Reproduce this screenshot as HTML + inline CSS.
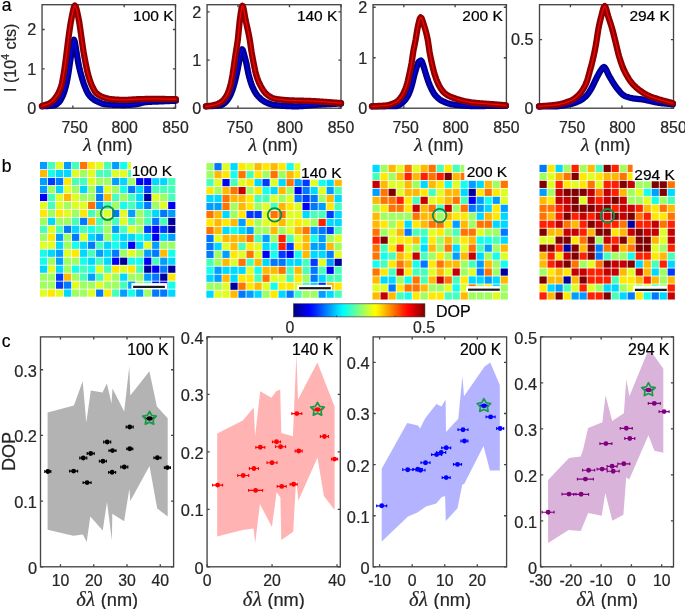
<!DOCTYPE html>
<html><head><meta charset="utf-8"><style>
html,body{margin:0;padding:0;background:#fff;overflow:hidden;}
svg{display:block;font-family:"Liberation Sans", sans-serif;will-change:transform;}
text{stroke:currentColor;stroke-width:0.22px;}
</style></head><body>
<svg width="685" height="609" viewBox="0 0 685 609">
<rect width="685" height="609" fill="#fff"/>
<rect x="42.05" y="4.7" width="133.45" height="103.5" fill="none" stroke="#454545" stroke-width="1.35"/>
<path d="M72.85 108.2v-2.6M72.85 4.7v2.6M124.17 108.2v-2.6M124.17 4.7v2.6M175.5 108.2v-2.6M175.5 4.7v2.6M42.05 108.2h2.6M175.5 108.2h-2.6M42.05 68.85h2.6M175.5 68.85h-2.6M42.05 29.49h2.6M175.5 29.49h-2.6" stroke="#454545" stroke-width="1.35" fill="none"/>
<path d="M42 106.3L42.74 106.25L43.48 106.21L44.21 106.17L44.95 106.14L45.69 106.11L46.42 106.07L47.16 106.04L47.9 106L48.64 105.96L49.38 105.92L50.11 105.87L50.85 105.82L51.59 105.75L52.32 105.68L53.06 105.6L53.8 105.5L54.54 105.32L55.29 105.02L56.03 104.59L56.77 104.07L57.51 103.47L58.26 102.8L59 102.1L59.8 101.18L60.6 99.99L61.4 98.57L62.2 96.96L63 95.2L63.73 93.37L64.45 91.2L65.18 88.73L65.9 86L66.67 82.67L67.43 78.79L68.2 74.5L69.05 68.91L69.9 63L70.85 56.79L71.8 51L72.53 46.25L73.27 41.78L74 39.8L74.8 41.87L75.6 46.54L76.4 51.5L77.35 57.34L78.3 63L79.2 67.27L80.1 71.06L81 74.5L81.72 77.1L82.44 79.6L83.16 81.94L83.88 84.08L84.6 86L85.37 87.88L86.13 89.67L86.9 91.34L87.67 92.84L88.43 94.14L89.2 95.2L89.97 96.09L90.73 96.9L91.5 97.66L92.27 98.34L93.03 98.97L93.8 99.53L94.57 100.04L95.33 100.5L96.1 100.9L96.84 101.26L97.59 101.62L98.33 101.97L99.07 102.3L99.81 102.62L100.56 102.92L101.3 103.2L102.04 103.46L102.79 103.7L103.53 103.9L104.27 104.08L105.01 104.22L105.76 104.33L106.5 104.4L107.22 104.45L107.94 104.49L108.66 104.54L109.38 104.58L110.1 104.62L110.83 104.66L111.55 104.69L112.27 104.73L112.99 104.76L113.71 104.79L114.43 104.82L115.15 104.85L115.87 104.87L116.59 104.89L117.31 104.91L118.03 104.93L118.75 104.95L119.47 104.96L120.2 104.97L120.92 104.98L121.64 104.99L122.36 105L123.08 105L123.8 105L124.53 105L125.26 104.99L125.99 104.97L126.72 104.94L127.46 104.91L128.19 104.88L128.92 104.83L129.65 104.79L130.38 104.74L131.11 104.68L131.84 104.63L132.57 104.57L133.31 104.5L134.04 104.44L134.77 104.37L135.5 104.3L136.23 104.21L136.96 104.09L137.69 103.94L138.41 103.77L139.14 103.58L139.87 103.39L140.6 103.18L141.33 102.98L142.06 102.78L142.79 102.6L143.51 102.43L144.24 102.29L144.97 102.18L145.7 102.1L146.43 102.04L147.16 101.99L147.89 101.94L148.62 101.9L149.35 101.85L150.08 101.82L150.81 101.78L151.54 101.75L152.27 101.72L153 101.69L153.73 101.66L154.46 101.63L155.19 101.6L155.92 101.58L156.65 101.55L157.38 101.52L158.11 101.49L158.84 101.46L159.57 101.43L160.3 101.4L161.01 101.37L161.72 101.33L162.43 101.3L163.14 101.27L163.85 101.24L164.55 101.21L165.26 101.17L165.97 101.14L166.68 101.11L167.39 101.08L168.1 101.05L168.81 101.02L169.52 100.98L170.23 100.95L170.94 100.92L171.65 100.89L172.35 100.86L173.06 100.83L173.77 100.8L174.48 100.76L175.19 100.73L175.9 100.7" fill="none" stroke="#00008c" stroke-width="6.3" stroke-linejoin="round" stroke-linecap="round"/>
<path d="M42 106.3L42.74 106.25L43.48 106.21L44.21 106.17L44.95 106.14L45.69 106.11L46.42 106.07L47.16 106.04L47.9 106L48.64 105.96L49.38 105.92L50.11 105.87L50.85 105.82L51.59 105.75L52.32 105.68L53.06 105.6L53.8 105.5L54.54 105.32L55.29 105.02L56.03 104.59L56.77 104.07L57.51 103.47L58.26 102.8L59 102.1L59.8 101.18L60.6 99.99L61.4 98.57L62.2 96.96L63 95.2L63.73 93.37L64.45 91.2L65.18 88.73L65.9 86L66.67 82.67L67.43 78.79L68.2 74.5L69.05 68.91L69.9 63L70.85 56.79L71.8 51L72.53 46.25L73.27 41.78L74 39.8L74.8 41.87L75.6 46.54L76.4 51.5L77.35 57.34L78.3 63L79.2 67.27L80.1 71.06L81 74.5L81.72 77.1L82.44 79.6L83.16 81.94L83.88 84.08L84.6 86L85.37 87.88L86.13 89.67L86.9 91.34L87.67 92.84L88.43 94.14L89.2 95.2L89.97 96.09L90.73 96.9L91.5 97.66L92.27 98.34L93.03 98.97L93.8 99.53L94.57 100.04L95.33 100.5L96.1 100.9L96.84 101.26L97.59 101.62L98.33 101.97L99.07 102.3L99.81 102.62L100.56 102.92L101.3 103.2L102.04 103.46L102.79 103.7L103.53 103.9L104.27 104.08L105.01 104.22L105.76 104.33L106.5 104.4L107.22 104.45L107.94 104.49L108.66 104.54L109.38 104.58L110.1 104.62L110.83 104.66L111.55 104.69L112.27 104.73L112.99 104.76L113.71 104.79L114.43 104.82L115.15 104.85L115.87 104.87L116.59 104.89L117.31 104.91L118.03 104.93L118.75 104.95L119.47 104.96L120.2 104.97L120.92 104.98L121.64 104.99L122.36 105L123.08 105L123.8 105L124.53 105L125.26 104.99L125.99 104.97L126.72 104.94L127.46 104.91L128.19 104.88L128.92 104.83L129.65 104.79L130.38 104.74L131.11 104.68L131.84 104.63L132.57 104.57L133.31 104.5L134.04 104.44L134.77 104.37L135.5 104.3L136.23 104.21L136.96 104.09L137.69 103.94L138.41 103.77L139.14 103.58L139.87 103.39L140.6 103.18L141.33 102.98L142.06 102.78L142.79 102.6L143.51 102.43L144.24 102.29L144.97 102.18L145.7 102.1L146.43 102.04L147.16 101.99L147.89 101.94L148.62 101.9L149.35 101.85L150.08 101.82L150.81 101.78L151.54 101.75L152.27 101.72L153 101.69L153.73 101.66L154.46 101.63L155.19 101.6L155.92 101.58L156.65 101.55L157.38 101.52L158.11 101.49L158.84 101.46L159.57 101.43L160.3 101.4L161.01 101.37L161.72 101.33L162.43 101.3L163.14 101.27L163.85 101.24L164.55 101.21L165.26 101.17L165.97 101.14L166.68 101.11L167.39 101.08L168.1 101.05L168.81 101.02L169.52 100.98L170.23 100.95L170.94 100.92L171.65 100.89L172.35 100.86L173.06 100.83L173.77 100.8L174.48 100.76L175.19 100.73L175.9 100.7" fill="none" stroke="#0000ff" stroke-width="1.25" stroke-linejoin="round" stroke-linecap="round"/>
<path d="M42 106L42.75 105.72L43.51 105.46L44.26 105.21L45.02 104.97L45.77 104.73L46.53 104.47L47.28 104.2L48.04 103.91L48.79 103.58L49.55 103.21L50.3 102.8L51.07 102.3L51.83 101.71L52.6 101.01L53.37 100.23L54.13 99.37L54.9 98.43L55.67 97.42L56.43 96.34L57.2 95.2L58.02 93.87L58.84 92.33L59.66 90.54L60.48 88.44L61.3 86L62.07 82.91L62.83 78.91L63.6 74.5L64.45 69.05L65.3 63L66.05 57.39L66.8 51.5L67.5 45.66L68.2 40L69 34.12L69.8 28.48L70.6 23.36L71.4 19L72.1 15.43L72.8 11.84L73.5 8.69L74.2 6.45L74.9 5.6L75.62 6.37L76.34 8.42L77.06 11.33L77.78 14.69L78.5 18.1L79.33 22.61L80.15 28.17L80.97 34.17L81.8 40L82.65 45.88L83.5 51.5L84.55 57.53L85.6 63L86.43 67.17L87.27 71.11L88.1 74.5L88.9 77.26L89.7 79.79L90.5 82.09L91.3 84.16L92.1 86L92.9 87.71L93.7 89.32L94.5 90.78L95.3 91.99L96.1 92.9L96.84 93.54L97.57 94.12L98.31 94.66L99.05 95.14L99.78 95.59L100.52 95.99L101.25 96.35L101.99 96.68L102.73 96.98L103.46 97.25L104.2 97.5L104.95 97.74L105.7 97.96L106.45 98.18L107.2 98.38L107.95 98.56L108.7 98.73L109.45 98.88L110.2 99.01L110.95 99.12L111.7 99.2L112.41 99.27L113.12 99.33L113.84 99.4L114.55 99.46L115.26 99.52L115.97 99.57L116.68 99.62L117.39 99.67L118.11 99.72L118.82 99.76L119.53 99.79L120.24 99.83L120.95 99.85L121.66 99.87L122.38 99.89L123.09 99.9L123.8 99.9L124.53 99.9L125.26 99.88L125.99 99.87L126.72 99.84L127.45 99.81L128.18 99.78L128.91 99.74L129.64 99.69L130.37 99.65L131.1 99.6L131.83 99.55L132.56 99.51L133.29 99.46L134.02 99.41L134.75 99.37L135.48 99.33L136.21 99.29L136.94 99.25L137.67 99.22L138.4 99.2L139.13 99.18L139.86 99.16L140.59 99.14L141.32 99.12L142.05 99.09L142.78 99.07L143.51 99.05L144.24 99.03L144.97 99.02L145.7 99L146.43 98.98L147.16 98.97L147.89 98.95L148.62 98.94L149.35 98.93L150.08 98.92L150.81 98.91L151.54 98.9L152.27 98.9L153 98.9L153.72 98.9L154.43 98.9L155.15 98.91L155.86 98.91L156.58 98.91L157.29 98.92L158.01 98.93L158.72 98.93L159.44 98.94L160.16 98.95L160.87 98.96L161.59 98.97L162.3 98.98L163.02 98.99L163.73 99L164.45 99.01L165.17 99.02L165.88 99.04L166.6 99.05L167.31 99.06L168.03 99.07L168.74 99.09L169.46 99.1L170.18 99.11L170.89 99.12L171.61 99.14L172.32 99.15L173.04 99.16L173.75 99.17L174.47 99.18L175.18 99.19L175.9 99.2" fill="none" stroke="#8c0000" stroke-width="6.3" stroke-linejoin="round" stroke-linecap="round"/>
<path d="M42 106L42.75 105.72L43.51 105.46L44.26 105.21L45.02 104.97L45.77 104.73L46.53 104.47L47.28 104.2L48.04 103.91L48.79 103.58L49.55 103.21L50.3 102.8L51.07 102.3L51.83 101.71L52.6 101.01L53.37 100.23L54.13 99.37L54.9 98.43L55.67 97.42L56.43 96.34L57.2 95.2L58.02 93.87L58.84 92.33L59.66 90.54L60.48 88.44L61.3 86L62.07 82.91L62.83 78.91L63.6 74.5L64.45 69.05L65.3 63L66.05 57.39L66.8 51.5L67.5 45.66L68.2 40L69 34.12L69.8 28.48L70.6 23.36L71.4 19L72.1 15.43L72.8 11.84L73.5 8.69L74.2 6.45L74.9 5.6L75.62 6.37L76.34 8.42L77.06 11.33L77.78 14.69L78.5 18.1L79.33 22.61L80.15 28.17L80.97 34.17L81.8 40L82.65 45.88L83.5 51.5L84.55 57.53L85.6 63L86.43 67.17L87.27 71.11L88.1 74.5L88.9 77.26L89.7 79.79L90.5 82.09L91.3 84.16L92.1 86L92.9 87.71L93.7 89.32L94.5 90.78L95.3 91.99L96.1 92.9L96.84 93.54L97.57 94.12L98.31 94.66L99.05 95.14L99.78 95.59L100.52 95.99L101.25 96.35L101.99 96.68L102.73 96.98L103.46 97.25L104.2 97.5L104.95 97.74L105.7 97.96L106.45 98.18L107.2 98.38L107.95 98.56L108.7 98.73L109.45 98.88L110.2 99.01L110.95 99.12L111.7 99.2L112.41 99.27L113.12 99.33L113.84 99.4L114.55 99.46L115.26 99.52L115.97 99.57L116.68 99.62L117.39 99.67L118.11 99.72L118.82 99.76L119.53 99.79L120.24 99.83L120.95 99.85L121.66 99.87L122.38 99.89L123.09 99.9L123.8 99.9L124.53 99.9L125.26 99.88L125.99 99.87L126.72 99.84L127.45 99.81L128.18 99.78L128.91 99.74L129.64 99.69L130.37 99.65L131.1 99.6L131.83 99.55L132.56 99.51L133.29 99.46L134.02 99.41L134.75 99.37L135.48 99.33L136.21 99.29L136.94 99.25L137.67 99.22L138.4 99.2L139.13 99.18L139.86 99.16L140.59 99.14L141.32 99.12L142.05 99.09L142.78 99.07L143.51 99.05L144.24 99.03L144.97 99.02L145.7 99L146.43 98.98L147.16 98.97L147.89 98.95L148.62 98.94L149.35 98.93L150.08 98.92L150.81 98.91L151.54 98.9L152.27 98.9L153 98.9L153.72 98.9L154.43 98.9L155.15 98.91L155.86 98.91L156.58 98.91L157.29 98.92L158.01 98.93L158.72 98.93L159.44 98.94L160.16 98.95L160.87 98.96L161.59 98.97L162.3 98.98L163.02 98.99L163.73 99L164.45 99.01L165.17 99.02L165.88 99.04L166.6 99.05L167.31 99.06L168.03 99.07L168.74 99.09L169.46 99.1L170.18 99.11L170.89 99.12L171.61 99.14L172.32 99.15L173.04 99.16L173.75 99.17L174.47 99.18L175.18 99.19L175.9 99.2" fill="none" stroke="#ff0000" stroke-width="1.25" stroke-linejoin="round" stroke-linecap="round"/>
<text x="74.65" y="132.9" font-size="15.8" text-anchor="middle" fill="#262626" color="#262626" >750</text>
<text x="124.67" y="132.9" font-size="15.8" text-anchor="middle" fill="#262626" color="#262626" >800</text>
<text x="175.5" y="132.9" font-size="15.8" text-anchor="middle" fill="#262626" color="#262626" >850</text>
<text x="36.15" y="114" font-size="16.2" text-anchor="end" fill="#262626" color="#262626" >0</text>
<text x="36.15" y="74.65" font-size="16.2" text-anchor="end" fill="#262626" color="#262626" >1</text>
<text x="36.15" y="35.29" font-size="16.2" text-anchor="end" fill="#262626" color="#262626" >2</text>
<text x="107.98" y="151" font-size="17.5" text-anchor="middle" fill="#262626" color="#262626" ><tspan font-family="Liberation Serif" font-style="italic" font-size="19.5">&#955;</tspan> (nm)</text>
<text x="173.6" y="21.2" font-size="15.5" text-anchor="end" fill="#000" color="#000" >100 K</text>
<rect x="207.07" y="4.7" width="133.93" height="103.5" fill="none" stroke="#454545" stroke-width="1.35"/>
<path d="M237.98 108.2v-2.6M237.98 4.7v2.6M289.49 108.2v-2.6M289.49 4.7v2.6M341 108.2v-2.6M341 4.7v2.6M207.07 108.2h2.6M341 108.2h-2.6M207.07 60.06h2.6M341 60.06h-2.6M207.07 11.92h2.6M341 11.92h-2.6" stroke="#454545" stroke-width="1.35" fill="none"/>
<path d="M206 106.3L206.73 106.26L207.46 106.22L208.19 106.19L208.93 106.16L209.66 106.13L210.39 106.1L211.12 106.08L211.85 106.05L212.58 106.02L213.32 105.99L214.05 105.96L214.78 105.92L215.51 105.88L216.24 105.83L216.97 105.78L217.71 105.72L218.44 105.66L219.17 105.58L219.9 105.5L220.62 105.36L221.35 105.11L222.07 104.76L222.8 104.34L223.53 103.84L224.25 103.3L224.97 102.71L225.7 102.1L226.47 101.34L227.23 100.39L228 99.28L228.77 98.03L229.53 96.66L230.3 95.2L231.15 93.34L232 91.14L232.85 88.67L233.7 86L234.42 83.49L235.15 80.69L235.88 77.67L236.6 74.5L237.37 70.8L238.13 66.81L238.9 63L239.7 58.75L240.5 54.24L241.3 50.66L242.1 49.2L242.9 50.38L243.7 53.06L244.5 56L245.4 59.26L246.3 63L247.07 66.78L247.83 70.89L248.6 74.5L249.3 77.23L250 79.78L250.7 82.11L251.4 84.19L252.1 86L252.83 87.67L253.56 89.24L254.29 90.68L255.01 92.01L255.74 93.21L256.47 94.27L257.2 95.2L257.94 96.05L258.67 96.85L259.41 97.61L260.15 98.33L260.88 99L261.62 99.62L262.35 100.19L263.09 100.72L263.83 101.2L264.56 101.62L265.3 102L266.01 102.33L266.72 102.65L267.42 102.96L268.13 103.25L268.84 103.53L269.55 103.79L270.25 104.03L270.96 104.26L271.67 104.46L272.38 104.63L273.08 104.78L273.79 104.91L274.5 105L275.22 105.08L275.93 105.16L276.65 105.23L277.37 105.31L278.08 105.38L278.8 105.44L279.52 105.51L280.23 105.57L280.95 105.64L281.67 105.69L282.38 105.75L283.1 105.81L283.82 105.86L284.53 105.91L285.25 105.95L285.97 106L286.68 106.04L287.4 106.07L288.12 106.11L288.83 106.14L289.55 106.17L290.27 106.2L290.98 106.22L291.7 106.24L292.42 106.26L293.13 106.27L293.85 106.29L294.57 106.29L295.28 106.3L296 106.3L296.7 106.3L297.41 106.29L298.11 106.27L298.81 106.24L299.52 106.21L300.22 106.18L300.92 106.14L301.63 106.09L302.33 106.04L303.03 105.99L303.74 105.93L304.44 105.87L305.14 105.81L305.85 105.74L306.55 105.67L307.26 105.61L307.96 105.54L308.66 105.47L309.37 105.4L310.07 105.33L310.77 105.26L311.48 105.2L312.18 105.13L312.88 105.07L313.59 105.01L314.29 104.95L314.99 104.9L315.7 104.85L316.4 104.8L317.1 104.76L317.81 104.71L318.51 104.67L319.21 104.63L319.91 104.59L320.62 104.55L321.32 104.51L322.02 104.47L322.73 104.43L323.43 104.4L324.13 104.36L324.83 104.32L325.54 104.28L326.24 104.25L326.94 104.21L327.65 104.18L328.35 104.14L329.05 104.1L329.75 104.07L330.46 104.03L331.16 104L331.86 103.96L332.57 103.93L333.27 103.89L333.97 103.86L334.67 103.82L335.38 103.79L336.08 103.75L336.78 103.72L337.49 103.68L338.19 103.65L338.89 103.61L339.59 103.57L340.3 103.54L341 103.5" fill="none" stroke="#00008c" stroke-width="6.3" stroke-linejoin="round" stroke-linecap="round"/>
<path d="M206 106.3L206.73 106.26L207.46 106.22L208.19 106.19L208.93 106.16L209.66 106.13L210.39 106.1L211.12 106.08L211.85 106.05L212.58 106.02L213.32 105.99L214.05 105.96L214.78 105.92L215.51 105.88L216.24 105.83L216.97 105.78L217.71 105.72L218.44 105.66L219.17 105.58L219.9 105.5L220.62 105.36L221.35 105.11L222.07 104.76L222.8 104.34L223.53 103.84L224.25 103.3L224.97 102.71L225.7 102.1L226.47 101.34L227.23 100.39L228 99.28L228.77 98.03L229.53 96.66L230.3 95.2L231.15 93.34L232 91.14L232.85 88.67L233.7 86L234.42 83.49L235.15 80.69L235.88 77.67L236.6 74.5L237.37 70.8L238.13 66.81L238.9 63L239.7 58.75L240.5 54.24L241.3 50.66L242.1 49.2L242.9 50.38L243.7 53.06L244.5 56L245.4 59.26L246.3 63L247.07 66.78L247.83 70.89L248.6 74.5L249.3 77.23L250 79.78L250.7 82.11L251.4 84.19L252.1 86L252.83 87.67L253.56 89.24L254.29 90.68L255.01 92.01L255.74 93.21L256.47 94.27L257.2 95.2L257.94 96.05L258.67 96.85L259.41 97.61L260.15 98.33L260.88 99L261.62 99.62L262.35 100.19L263.09 100.72L263.83 101.2L264.56 101.62L265.3 102L266.01 102.33L266.72 102.65L267.42 102.96L268.13 103.25L268.84 103.53L269.55 103.79L270.25 104.03L270.96 104.26L271.67 104.46L272.38 104.63L273.08 104.78L273.79 104.91L274.5 105L275.22 105.08L275.93 105.16L276.65 105.23L277.37 105.31L278.08 105.38L278.8 105.44L279.52 105.51L280.23 105.57L280.95 105.64L281.67 105.69L282.38 105.75L283.1 105.81L283.82 105.86L284.53 105.91L285.25 105.95L285.97 106L286.68 106.04L287.4 106.07L288.12 106.11L288.83 106.14L289.55 106.17L290.27 106.2L290.98 106.22L291.7 106.24L292.42 106.26L293.13 106.27L293.85 106.29L294.57 106.29L295.28 106.3L296 106.3L296.7 106.3L297.41 106.29L298.11 106.27L298.81 106.24L299.52 106.21L300.22 106.18L300.92 106.14L301.63 106.09L302.33 106.04L303.03 105.99L303.74 105.93L304.44 105.87L305.14 105.81L305.85 105.74L306.55 105.67L307.26 105.61L307.96 105.54L308.66 105.47L309.37 105.4L310.07 105.33L310.77 105.26L311.48 105.2L312.18 105.13L312.88 105.07L313.59 105.01L314.29 104.95L314.99 104.9L315.7 104.85L316.4 104.8L317.1 104.76L317.81 104.71L318.51 104.67L319.21 104.63L319.91 104.59L320.62 104.55L321.32 104.51L322.02 104.47L322.73 104.43L323.43 104.4L324.13 104.36L324.83 104.32L325.54 104.28L326.24 104.25L326.94 104.21L327.65 104.18L328.35 104.14L329.05 104.1L329.75 104.07L330.46 104.03L331.16 104L331.86 103.96L332.57 103.93L333.27 103.89L333.97 103.86L334.67 103.82L335.38 103.79L336.08 103.75L336.78 103.72L337.49 103.68L338.19 103.65L338.89 103.61L339.59 103.57L340.3 103.54L341 103.5" fill="none" stroke="#0000ff" stroke-width="1.25" stroke-linejoin="round" stroke-linecap="round"/>
<path d="M206 106.3L206.74 106.2L207.47 106.12L208.21 106.03L208.95 105.94L209.69 105.85L210.43 105.75L211.16 105.63L211.9 105.5L212.61 105.36L213.32 105.2L214.02 105.02L214.73 104.83L215.44 104.62L216.15 104.38L216.85 104.13L217.56 103.85L218.27 103.55L218.98 103.23L219.68 102.88L220.39 102.5L221.1 102.1L221.81 101.61L222.53 101L223.24 100.28L223.95 99.45L224.66 98.51L225.38 97.49L226.09 96.38L226.8 95.2L227.5 93.87L228.2 92.28L228.9 90.44L229.6 88.34L230.3 86L231.07 82.81L231.83 78.86L232.6 74.5L233.45 68.96L234.3 63L235.15 57.21L236 51.5L236.9 46.03L237.8 40L238.7 30.9L239.6 22L240.32 16.48L241.05 11.24L241.78 7.33L242.5 5.8L243.28 7.34L244.05 11.09L244.82 15.75L245.6 20L246.3 23.19L247 26.31L247.7 29.44L248.4 32.7L249.1 36.19L249.8 40L250.65 45.68L251.5 51.5L252.55 57.53L253.6 63L254.43 67.22L255.27 71.21L256.1 74.5L256.87 76.93L257.63 79.14L258.4 81.12L259.17 82.92L259.93 84.54L260.7 86L261.41 87.27L262.12 88.48L262.84 89.63L263.55 90.7L264.26 91.69L264.97 92.57L265.69 93.35L266.4 94L267.14 94.6L267.87 95.17L268.61 95.72L269.35 96.23L270.08 96.7L270.82 97.14L271.55 97.53L272.29 97.88L273.03 98.17L273.76 98.42L274.5 98.6L275.21 98.75L275.93 98.88L276.64 99.01L277.36 99.14L278.07 99.25L278.79 99.36L279.5 99.46L280.22 99.56L280.94 99.65L281.65 99.73L282.37 99.81L283.08 99.88L283.8 99.95L284.51 100.01L285.23 100.07L285.94 100.12L286.66 100.17L287.37 100.22L288.09 100.26L288.8 100.3L289.51 100.34L290.21 100.37L290.92 100.4L291.63 100.43L292.33 100.46L293.04 100.48L293.75 100.51L294.45 100.53L295.16 100.55L295.86 100.58L296.57 100.59L297.28 100.61L297.98 100.63L298.69 100.65L299.4 100.67L300.1 100.68L300.81 100.7L301.52 100.72L302.22 100.73L302.93 100.75L303.64 100.77L304.34 100.79L305.05 100.81L305.75 100.83L306.46 100.85L307.17 100.87L307.87 100.89L308.58 100.92L309.29 100.94L309.99 100.97L310.7 101L311.42 101.03L312.15 101.07L312.87 101.1L313.59 101.14L314.31 101.18L315.04 101.22L315.76 101.26L316.48 101.31L317.2 101.35L317.93 101.4L318.65 101.45L319.37 101.5L320.1 101.55L320.82 101.6L321.54 101.65L322.26 101.7L322.99 101.75L323.71 101.8L324.43 101.85L325.15 101.9L325.88 101.95L326.6 102L327.32 102.05L328.04 102.1L328.76 102.15L329.48 102.21L330.2 102.26L330.92 102.31L331.64 102.37L332.36 102.42L333.08 102.48L333.8 102.54L334.52 102.59L335.24 102.65L335.96 102.71L336.68 102.76L337.4 102.82L338.12 102.88L338.84 102.93L339.56 102.99L340.28 103.04L341 103.1" fill="none" stroke="#8c0000" stroke-width="6.3" stroke-linejoin="round" stroke-linecap="round"/>
<path d="M206 106.3L206.74 106.2L207.47 106.12L208.21 106.03L208.95 105.94L209.69 105.85L210.43 105.75L211.16 105.63L211.9 105.5L212.61 105.36L213.32 105.2L214.02 105.02L214.73 104.83L215.44 104.62L216.15 104.38L216.85 104.13L217.56 103.85L218.27 103.55L218.98 103.23L219.68 102.88L220.39 102.5L221.1 102.1L221.81 101.61L222.53 101L223.24 100.28L223.95 99.45L224.66 98.51L225.38 97.49L226.09 96.38L226.8 95.2L227.5 93.87L228.2 92.28L228.9 90.44L229.6 88.34L230.3 86L231.07 82.81L231.83 78.86L232.6 74.5L233.45 68.96L234.3 63L235.15 57.21L236 51.5L236.9 46.03L237.8 40L238.7 30.9L239.6 22L240.32 16.48L241.05 11.24L241.78 7.33L242.5 5.8L243.28 7.34L244.05 11.09L244.82 15.75L245.6 20L246.3 23.19L247 26.31L247.7 29.44L248.4 32.7L249.1 36.19L249.8 40L250.65 45.68L251.5 51.5L252.55 57.53L253.6 63L254.43 67.22L255.27 71.21L256.1 74.5L256.87 76.93L257.63 79.14L258.4 81.12L259.17 82.92L259.93 84.54L260.7 86L261.41 87.27L262.12 88.48L262.84 89.63L263.55 90.7L264.26 91.69L264.97 92.57L265.69 93.35L266.4 94L267.14 94.6L267.87 95.17L268.61 95.72L269.35 96.23L270.08 96.7L270.82 97.14L271.55 97.53L272.29 97.88L273.03 98.17L273.76 98.42L274.5 98.6L275.21 98.75L275.93 98.88L276.64 99.01L277.36 99.14L278.07 99.25L278.79 99.36L279.5 99.46L280.22 99.56L280.94 99.65L281.65 99.73L282.37 99.81L283.08 99.88L283.8 99.95L284.51 100.01L285.23 100.07L285.94 100.12L286.66 100.17L287.37 100.22L288.09 100.26L288.8 100.3L289.51 100.34L290.21 100.37L290.92 100.4L291.63 100.43L292.33 100.46L293.04 100.48L293.75 100.51L294.45 100.53L295.16 100.55L295.86 100.58L296.57 100.59L297.28 100.61L297.98 100.63L298.69 100.65L299.4 100.67L300.1 100.68L300.81 100.7L301.52 100.72L302.22 100.73L302.93 100.75L303.64 100.77L304.34 100.79L305.05 100.81L305.75 100.83L306.46 100.85L307.17 100.87L307.87 100.89L308.58 100.92L309.29 100.94L309.99 100.97L310.7 101L311.42 101.03L312.15 101.07L312.87 101.1L313.59 101.14L314.31 101.18L315.04 101.22L315.76 101.26L316.48 101.31L317.2 101.35L317.93 101.4L318.65 101.45L319.37 101.5L320.1 101.55L320.82 101.6L321.54 101.65L322.26 101.7L322.99 101.75L323.71 101.8L324.43 101.85L325.15 101.9L325.88 101.95L326.6 102L327.32 102.05L328.04 102.1L328.76 102.15L329.48 102.21L330.2 102.26L330.92 102.31L331.64 102.37L332.36 102.42L333.08 102.48L333.8 102.54L334.52 102.59L335.24 102.65L335.96 102.71L336.68 102.76L337.4 102.82L338.12 102.88L338.84 102.93L339.56 102.99L340.28 103.04L341 103.1" fill="none" stroke="#ff0000" stroke-width="1.25" stroke-linejoin="round" stroke-linecap="round"/>
<text x="239.78" y="132.9" font-size="15.8" text-anchor="middle" fill="#262626" color="#262626" >750</text>
<text x="289.99" y="132.9" font-size="15.8" text-anchor="middle" fill="#262626" color="#262626" >800</text>
<text x="341" y="132.9" font-size="15.8" text-anchor="middle" fill="#262626" color="#262626" >850</text>
<text x="201.17" y="114" font-size="16.2" text-anchor="end" fill="#262626" color="#262626" >0</text>
<text x="201.17" y="65.86" font-size="16.2" text-anchor="end" fill="#262626" color="#262626" >1</text>
<text x="201.17" y="17.72" font-size="16.2" text-anchor="end" fill="#262626" color="#262626" >2</text>
<text x="273.23" y="151" font-size="17.5" text-anchor="middle" fill="#262626" color="#262626" ><tspan font-family="Liberation Serif" font-style="italic" font-size="19.5">&#955;</tspan> (nm)</text>
<text x="337.4" y="21.2" font-size="15.5" text-anchor="end" fill="#000" color="#000" >140 K</text>
<rect x="373.05" y="4.7" width="133.35" height="103.5" fill="none" stroke="#454545" stroke-width="1.35"/>
<path d="M403.82 108.2v-2.6M403.82 4.7v2.6M455.11 108.2v-2.6M455.11 4.7v2.6M506.4 108.2v-2.6M506.4 4.7v2.6M373.05 108.2h2.6M506.4 108.2h-2.6M373.05 57.71h2.6M506.4 57.71h-2.6M373.05 7.22h2.6M506.4 7.22h-2.6" stroke="#454545" stroke-width="1.35" fill="none"/>
<path d="M372 106.3L372.71 106.29L373.42 106.29L374.13 106.28L374.84 106.28L375.54 106.28L376.25 106.27L376.96 106.27L377.67 106.26L378.38 106.26L379.09 106.26L379.8 106.26L380.51 106.25L381.21 106.25L381.92 106.25L382.63 106.24L383.34 106.24L384.05 106.24L384.76 106.23L385.47 106.23L386.18 106.22L386.89 106.22L387.59 106.21L388.3 106.21L389.01 106.2L389.72 106.19L390.43 106.19L391.14 106.18L391.85 106.17L392.56 106.16L393.26 106.15L393.97 106.14L394.68 106.13L395.39 106.11L396.1 106.1L396.87 106.01L397.63 105.79L398.4 105.46L399.17 105.04L399.93 104.53L400.7 103.97L401.47 103.36L402.23 102.73L403 102.1L403.74 101.44L404.49 100.66L405.23 99.78L405.97 98.79L406.71 97.7L407.46 96.5L408.2 95.2L409.05 93.41L409.9 91.2L410.75 88.69L411.6 86L412.33 83.38L413.05 80.4L413.77 77.34L414.5 74.5L415.35 71.48L416.2 68.7L417 66.05L417.8 63.56L418.6 62L419.37 61.25L420.13 60.71L420.9 60.5L421.75 61.32L422.6 63.38L423.45 66.04L424.3 68.7L425.15 71.55L426 74.5L426.82 77.04L427.64 79.52L428.46 81.87L429.28 84.05L430.1 86L430.83 87.59L431.56 89.13L432.29 90.58L433.01 91.94L433.74 93.18L434.47 94.27L435.2 95.2L435.97 96.06L436.73 96.86L437.5 97.61L438.27 98.3L439.03 98.93L439.8 99.51L440.57 100.03L441.33 100.49L442.1 100.9L442.84 101.26L443.59 101.61L444.33 101.94L445.07 102.26L445.81 102.56L446.56 102.84L447.3 103.11L448.04 103.36L448.79 103.58L449.53 103.79L450.27 103.98L451.01 104.14L451.76 104.28L452.5 104.4L453.2 104.5L453.91 104.59L454.61 104.69L455.31 104.78L456.02 104.87L456.72 104.95L457.43 105.04L458.13 105.12L458.83 105.2L459.54 105.27L460.24 105.35L460.94 105.41L461.65 105.48L462.35 105.54L463.05 105.6L463.76 105.66L464.46 105.71L465.16 105.76L465.87 105.8L466.57 105.84L467.27 105.88L467.98 105.91L468.68 105.94L469.39 105.96L470.09 105.98L470.79 105.99L471.5 106L472.2 106L472.9 106L473.6 106L474.31 106L475.01 106L475.71 106L476.41 106L477.11 106L477.82 105.99L478.52 105.99L479.22 105.99L479.92 105.99L480.62 105.99L481.33 105.99L482.03 105.99L482.73 105.98L483.43 105.98L484.14 105.98L484.84 105.98L485.54 105.97L486.24 105.97L486.94 105.97L487.65 105.97L488.35 105.97L489.05 105.96L489.75 105.96L490.45 105.96L491.16 105.95L491.86 105.95L492.56 105.95L493.26 105.95L493.96 105.94L494.67 105.94L495.37 105.94L496.07 105.94L496.77 105.93L497.47 105.93L498.18 105.93L498.88 105.92L499.58 105.92L500.28 105.92L500.99 105.92L501.69 105.91L502.39 105.91L503.09 105.91L503.79 105.91L504.5 105.9L505.2 105.9L505.9 105.9" fill="none" stroke="#00008c" stroke-width="6.3" stroke-linejoin="round" stroke-linecap="round"/>
<path d="M372 106.3L372.71 106.29L373.42 106.29L374.13 106.28L374.84 106.28L375.54 106.28L376.25 106.27L376.96 106.27L377.67 106.26L378.38 106.26L379.09 106.26L379.8 106.26L380.51 106.25L381.21 106.25L381.92 106.25L382.63 106.24L383.34 106.24L384.05 106.24L384.76 106.23L385.47 106.23L386.18 106.22L386.89 106.22L387.59 106.21L388.3 106.21L389.01 106.2L389.72 106.19L390.43 106.19L391.14 106.18L391.85 106.17L392.56 106.16L393.26 106.15L393.97 106.14L394.68 106.13L395.39 106.11L396.1 106.1L396.87 106.01L397.63 105.79L398.4 105.46L399.17 105.04L399.93 104.53L400.7 103.97L401.47 103.36L402.23 102.73L403 102.1L403.74 101.44L404.49 100.66L405.23 99.78L405.97 98.79L406.71 97.7L407.46 96.5L408.2 95.2L409.05 93.41L409.9 91.2L410.75 88.69L411.6 86L412.33 83.38L413.05 80.4L413.77 77.34L414.5 74.5L415.35 71.48L416.2 68.7L417 66.05L417.8 63.56L418.6 62L419.37 61.25L420.13 60.71L420.9 60.5L421.75 61.32L422.6 63.38L423.45 66.04L424.3 68.7L425.15 71.55L426 74.5L426.82 77.04L427.64 79.52L428.46 81.87L429.28 84.05L430.1 86L430.83 87.59L431.56 89.13L432.29 90.58L433.01 91.94L433.74 93.18L434.47 94.27L435.2 95.2L435.97 96.06L436.73 96.86L437.5 97.61L438.27 98.3L439.03 98.93L439.8 99.51L440.57 100.03L441.33 100.49L442.1 100.9L442.84 101.26L443.59 101.61L444.33 101.94L445.07 102.26L445.81 102.56L446.56 102.84L447.3 103.11L448.04 103.36L448.79 103.58L449.53 103.79L450.27 103.98L451.01 104.14L451.76 104.28L452.5 104.4L453.2 104.5L453.91 104.59L454.61 104.69L455.31 104.78L456.02 104.87L456.72 104.95L457.43 105.04L458.13 105.12L458.83 105.2L459.54 105.27L460.24 105.35L460.94 105.41L461.65 105.48L462.35 105.54L463.05 105.6L463.76 105.66L464.46 105.71L465.16 105.76L465.87 105.8L466.57 105.84L467.27 105.88L467.98 105.91L468.68 105.94L469.39 105.96L470.09 105.98L470.79 105.99L471.5 106L472.2 106L472.9 106L473.6 106L474.31 106L475.01 106L475.71 106L476.41 106L477.11 106L477.82 105.99L478.52 105.99L479.22 105.99L479.92 105.99L480.62 105.99L481.33 105.99L482.03 105.99L482.73 105.98L483.43 105.98L484.14 105.98L484.84 105.98L485.54 105.97L486.24 105.97L486.94 105.97L487.65 105.97L488.35 105.97L489.05 105.96L489.75 105.96L490.45 105.96L491.16 105.95L491.86 105.95L492.56 105.95L493.26 105.95L493.96 105.94L494.67 105.94L495.37 105.94L496.07 105.94L496.77 105.93L497.47 105.93L498.18 105.93L498.88 105.92L499.58 105.92L500.28 105.92L500.99 105.92L501.69 105.91L502.39 105.91L503.09 105.91L503.79 105.91L504.5 105.9L505.2 105.9L505.9 105.9" fill="none" stroke="#0000ff" stroke-width="1.25" stroke-linejoin="round" stroke-linecap="round"/>
<path d="M372 106.3L372.72 106.26L373.44 106.22L374.16 106.19L374.88 106.15L375.61 106.12L376.33 106.09L377.05 106.06L377.77 106.02L378.49 105.99L379.21 105.96L379.93 105.92L380.65 105.88L381.37 105.84L382.09 105.8L382.82 105.75L383.54 105.69L384.26 105.63L384.98 105.57L385.7 105.5L386.44 105.41L387.19 105.3L387.93 105.16L388.67 104.99L389.41 104.8L390.16 104.59L390.9 104.35L391.64 104.09L392.39 103.81L393.13 103.51L393.87 103.19L394.61 102.84L395.36 102.48L396.1 102.1L396.89 101.62L397.68 101.01L398.46 100.27L399.25 99.44L400.04 98.5L400.82 97.47L401.61 96.37L402.4 95.2L403.2 93.84L404 92.22L404.8 90.35L405.6 88.27L406.4 86L407.12 83.6L407.85 80.79L408.57 77.71L409.3 74.5L410.07 70.99L410.83 67.2L411.6 63L412.45 57.25L413.3 51.5L414.07 47.47L414.83 43.84L415.6 40L416.33 35.56L417.07 30.89L417.8 27L418.52 23.75L419.25 20.64L419.98 18.32L420.7 17.4L421.4 17.96L422.1 19.42L422.8 21.46L423.5 23.76L424.2 26L424.92 28.25L425.64 30.72L426.36 33.47L427.08 36.54L427.8 40L428.65 45.6L429.5 51.5L430.27 55.7L431.03 59.49L431.8 63L432.52 66.18L433.25 69.23L433.98 72.03L434.7 74.5L435.47 76.83L436.23 79.01L437 81.03L437.77 82.88L438.53 84.54L439.3 86L440.03 87.25L440.76 88.43L441.49 89.53L442.21 90.54L442.94 91.44L443.67 92.23L444.4 92.9L445.14 93.49L445.87 94.03L446.61 94.54L447.35 95.01L448.08 95.45L448.82 95.86L449.55 96.24L450.29 96.59L451.03 96.91L451.76 97.22L452.5 97.5L453.2 97.76L453.91 98.01L454.61 98.26L455.31 98.5L456.02 98.74L456.72 98.97L457.43 99.19L458.13 99.41L458.83 99.62L459.54 99.83L460.24 100.03L460.94 100.23L461.65 100.42L462.35 100.6L463.05 100.78L463.76 100.95L464.46 101.12L465.16 101.27L465.87 101.43L466.57 101.57L467.27 101.71L467.98 101.85L468.68 101.97L469.39 102.09L470.09 102.2L470.79 102.31L471.5 102.41L472.2 102.5L472.9 102.59L473.61 102.67L474.31 102.75L475.01 102.82L475.72 102.9L476.42 102.96L477.12 103.03L477.83 103.09L478.53 103.16L479.23 103.22L479.94 103.27L480.64 103.33L481.34 103.38L482.05 103.43L482.75 103.48L483.46 103.54L484.16 103.58L484.86 103.63L485.57 103.68L486.27 103.73L486.97 103.78L487.68 103.83L488.38 103.88L489.08 103.93L489.79 103.98L490.49 104.03L491.19 104.09L491.9 104.14L492.6 104.2L493.34 104.26L494.08 104.32L494.82 104.38L495.56 104.44L496.29 104.51L497.03 104.57L497.77 104.63L498.51 104.69L499.25 104.75L499.99 104.81L500.73 104.87L501.47 104.93L502.21 104.99L502.94 105.06L503.68 105.12L504.42 105.18L505.16 105.24L505.9 105.3" fill="none" stroke="#8c0000" stroke-width="6.3" stroke-linejoin="round" stroke-linecap="round"/>
<path d="M372 106.3L372.72 106.26L373.44 106.22L374.16 106.19L374.88 106.15L375.61 106.12L376.33 106.09L377.05 106.06L377.77 106.02L378.49 105.99L379.21 105.96L379.93 105.92L380.65 105.88L381.37 105.84L382.09 105.8L382.82 105.75L383.54 105.69L384.26 105.63L384.98 105.57L385.7 105.5L386.44 105.41L387.19 105.3L387.93 105.16L388.67 104.99L389.41 104.8L390.16 104.59L390.9 104.35L391.64 104.09L392.39 103.81L393.13 103.51L393.87 103.19L394.61 102.84L395.36 102.48L396.1 102.1L396.89 101.62L397.68 101.01L398.46 100.27L399.25 99.44L400.04 98.5L400.82 97.47L401.61 96.37L402.4 95.2L403.2 93.84L404 92.22L404.8 90.35L405.6 88.27L406.4 86L407.12 83.6L407.85 80.79L408.57 77.71L409.3 74.5L410.07 70.99L410.83 67.2L411.6 63L412.45 57.25L413.3 51.5L414.07 47.47L414.83 43.84L415.6 40L416.33 35.56L417.07 30.89L417.8 27L418.52 23.75L419.25 20.64L419.98 18.32L420.7 17.4L421.4 17.96L422.1 19.42L422.8 21.46L423.5 23.76L424.2 26L424.92 28.25L425.64 30.72L426.36 33.47L427.08 36.54L427.8 40L428.65 45.6L429.5 51.5L430.27 55.7L431.03 59.49L431.8 63L432.52 66.18L433.25 69.23L433.98 72.03L434.7 74.5L435.47 76.83L436.23 79.01L437 81.03L437.77 82.88L438.53 84.54L439.3 86L440.03 87.25L440.76 88.43L441.49 89.53L442.21 90.54L442.94 91.44L443.67 92.23L444.4 92.9L445.14 93.49L445.87 94.03L446.61 94.54L447.35 95.01L448.08 95.45L448.82 95.86L449.55 96.24L450.29 96.59L451.03 96.91L451.76 97.22L452.5 97.5L453.2 97.76L453.91 98.01L454.61 98.26L455.31 98.5L456.02 98.74L456.72 98.97L457.43 99.19L458.13 99.41L458.83 99.62L459.54 99.83L460.24 100.03L460.94 100.23L461.65 100.42L462.35 100.6L463.05 100.78L463.76 100.95L464.46 101.12L465.16 101.27L465.87 101.43L466.57 101.57L467.27 101.71L467.98 101.85L468.68 101.97L469.39 102.09L470.09 102.2L470.79 102.31L471.5 102.41L472.2 102.5L472.9 102.59L473.61 102.67L474.31 102.75L475.01 102.82L475.72 102.9L476.42 102.96L477.12 103.03L477.83 103.09L478.53 103.16L479.23 103.22L479.94 103.27L480.64 103.33L481.34 103.38L482.05 103.43L482.75 103.48L483.46 103.54L484.16 103.58L484.86 103.63L485.57 103.68L486.27 103.73L486.97 103.78L487.68 103.83L488.38 103.88L489.08 103.93L489.79 103.98L490.49 104.03L491.19 104.09L491.9 104.14L492.6 104.2L493.34 104.26L494.08 104.32L494.82 104.38L495.56 104.44L496.29 104.51L497.03 104.57L497.77 104.63L498.51 104.69L499.25 104.75L499.99 104.81L500.73 104.87L501.47 104.93L502.21 104.99L502.94 105.06L503.68 105.12L504.42 105.18L505.16 105.24L505.9 105.3" fill="none" stroke="#ff0000" stroke-width="1.25" stroke-linejoin="round" stroke-linecap="round"/>
<text x="405.62" y="132.9" font-size="15.8" text-anchor="middle" fill="#262626" color="#262626" >750</text>
<text x="455.61" y="132.9" font-size="15.8" text-anchor="middle" fill="#262626" color="#262626" >800</text>
<text x="506.4" y="132.9" font-size="15.8" text-anchor="middle" fill="#262626" color="#262626" >850</text>
<text x="367.15" y="114" font-size="16.2" text-anchor="end" fill="#262626" color="#262626" >0</text>
<text x="367.15" y="63.51" font-size="16.2" text-anchor="end" fill="#262626" color="#262626" >1</text>
<text x="367.15" y="13.02" font-size="16.2" text-anchor="end" fill="#262626" color="#262626" >2</text>
<text x="438.93" y="151" font-size="17.5" text-anchor="middle" fill="#262626" color="#262626" ><tspan font-family="Liberation Serif" font-style="italic" font-size="19.5">&#955;</tspan> (nm)</text>
<text x="502.8" y="21.2" font-size="15.5" text-anchor="end" fill="#000" color="#000" >200 K</text>
<rect x="539.5" y="4.7" width="134" height="103.5" fill="none" stroke="#454545" stroke-width="1.35"/>
<path d="M570.42 108.2v-2.6M570.42 4.7v2.6M621.96 108.2v-2.6M621.96 4.7v2.6M673.5 108.2v-2.6M673.5 4.7v2.6M539.5 108.2h2.6M673.5 108.2h-2.6M539.5 39.57h2.6M673.5 39.57h-2.6" stroke="#454545" stroke-width="1.35" fill="none"/>
<path d="M539 106.5L539.71 106.49L540.42 106.48L541.12 106.48L541.83 106.47L542.54 106.46L543.25 106.46L543.96 106.45L544.67 106.45L545.38 106.44L546.08 106.44L546.79 106.43L547.5 106.42L548.21 106.42L548.92 106.41L549.62 106.4L550.33 106.39L551.04 106.38L551.75 106.38L552.46 106.37L553.17 106.35L553.88 106.34L554.58 106.33L555.29 106.32L556 106.3L556.7 106.28L557.4 106.24L558.1 106.2L558.8 106.14L559.5 106.07L560.2 105.99L560.9 105.9L561.6 105.81L562.3 105.7L563 105.59L563.7 105.47L564.4 105.34L565.1 105.21L565.8 105.08L566.5 104.94L567.2 104.79L567.9 104.65L568.6 104.5L569.3 104.35L570 104.2L570.71 104.04L571.42 103.87L572.12 103.68L572.83 103.47L573.54 103.26L574.25 103.02L574.95 102.78L575.66 102.52L576.37 102.24L577.08 101.95L577.78 101.65L578.49 101.33L579.2 101L579.92 100.64L580.64 100.24L581.36 99.8L582.08 99.33L582.8 98.82L583.52 98.27L584.24 97.68L584.96 97.06L585.68 96.4L586.4 95.7L587.17 94.86L587.93 93.88L588.7 92.79L589.47 91.61L590.23 90.37L591 89.1L591.83 87.61L592.65 85.98L593.47 84.28L594.3 82.6L595.12 80.93L595.95 79.24L596.77 77.58L597.6 76L598.38 74.55L599.16 73.12L599.94 71.75L600.72 70.49L601.5 69.4L602.27 68.35L603.03 67.41L603.8 67L604.57 67.34L605.34 68.26L606.11 69.59L606.89 71.19L607.66 72.89L608.43 74.55L609.2 76L609.98 77.33L610.76 78.69L611.54 80.04L612.32 81.35L613.1 82.6L613.87 83.78L614.63 84.93L615.4 86.06L616.17 87.13L616.93 88.15L617.7 89.1L618.43 89.98L619.17 90.86L619.9 91.74L620.63 92.58L621.37 93.37L622.1 94.1L622.83 94.75L623.57 95.28L624.3 95.7L625.02 96.03L625.73 96.33L626.45 96.61L627.17 96.87L627.88 97.1L628.6 97.32L629.32 97.52L630.03 97.7L630.75 97.87L631.47 98.02L632.18 98.17L632.9 98.3L633.6 98.42L634.3 98.52L635 98.62L635.7 98.71L636.4 98.79L637.1 98.87L637.8 98.94L638.5 99.01L639.2 99.08L639.9 99.15L640.6 99.23L641.3 99.31L642 99.4L642.7 99.49L643.4 99.6L644.11 99.72L644.82 99.85L645.52 99.99L646.23 100.15L646.94 100.3L647.65 100.47L648.35 100.63L649.06 100.8L649.77 100.97L650.48 101.14L651.18 101.3L651.89 101.45L652.6 101.6L653.34 101.75L654.08 101.91L654.82 102.06L655.56 102.22L656.3 102.37L657.04 102.51L657.78 102.65L658.52 102.78L659.26 102.9L660 103L660.72 103.09L661.43 103.17L662.15 103.25L662.87 103.33L663.58 103.4L664.3 103.47L665.02 103.53L665.73 103.6L666.45 103.66L667.17 103.72L667.88 103.78L668.6 103.83L669.32 103.89L670.03 103.95L670.75 104.01L671.47 104.07L672.18 104.13L672.9 104.2" fill="none" stroke="#00008c" stroke-width="6.3" stroke-linejoin="round" stroke-linecap="round"/>
<path d="M539 106.5L539.71 106.49L540.42 106.48L541.12 106.48L541.83 106.47L542.54 106.46L543.25 106.46L543.96 106.45L544.67 106.45L545.38 106.44L546.08 106.44L546.79 106.43L547.5 106.42L548.21 106.42L548.92 106.41L549.62 106.4L550.33 106.39L551.04 106.38L551.75 106.38L552.46 106.37L553.17 106.35L553.88 106.34L554.58 106.33L555.29 106.32L556 106.3L556.7 106.28L557.4 106.24L558.1 106.2L558.8 106.14L559.5 106.07L560.2 105.99L560.9 105.9L561.6 105.81L562.3 105.7L563 105.59L563.7 105.47L564.4 105.34L565.1 105.21L565.8 105.08L566.5 104.94L567.2 104.79L567.9 104.65L568.6 104.5L569.3 104.35L570 104.2L570.71 104.04L571.42 103.87L572.12 103.68L572.83 103.47L573.54 103.26L574.25 103.02L574.95 102.78L575.66 102.52L576.37 102.24L577.08 101.95L577.78 101.65L578.49 101.33L579.2 101L579.92 100.64L580.64 100.24L581.36 99.8L582.08 99.33L582.8 98.82L583.52 98.27L584.24 97.68L584.96 97.06L585.68 96.4L586.4 95.7L587.17 94.86L587.93 93.88L588.7 92.79L589.47 91.61L590.23 90.37L591 89.1L591.83 87.61L592.65 85.98L593.47 84.28L594.3 82.6L595.12 80.93L595.95 79.24L596.77 77.58L597.6 76L598.38 74.55L599.16 73.12L599.94 71.75L600.72 70.49L601.5 69.4L602.27 68.35L603.03 67.41L603.8 67L604.57 67.34L605.34 68.26L606.11 69.59L606.89 71.19L607.66 72.89L608.43 74.55L609.2 76L609.98 77.33L610.76 78.69L611.54 80.04L612.32 81.35L613.1 82.6L613.87 83.78L614.63 84.93L615.4 86.06L616.17 87.13L616.93 88.15L617.7 89.1L618.43 89.98L619.17 90.86L619.9 91.74L620.63 92.58L621.37 93.37L622.1 94.1L622.83 94.75L623.57 95.28L624.3 95.7L625.02 96.03L625.73 96.33L626.45 96.61L627.17 96.87L627.88 97.1L628.6 97.32L629.32 97.52L630.03 97.7L630.75 97.87L631.47 98.02L632.18 98.17L632.9 98.3L633.6 98.42L634.3 98.52L635 98.62L635.7 98.71L636.4 98.79L637.1 98.87L637.8 98.94L638.5 99.01L639.2 99.08L639.9 99.15L640.6 99.23L641.3 99.31L642 99.4L642.7 99.49L643.4 99.6L644.11 99.72L644.82 99.85L645.52 99.99L646.23 100.15L646.94 100.3L647.65 100.47L648.35 100.63L649.06 100.8L649.77 100.97L650.48 101.14L651.18 101.3L651.89 101.45L652.6 101.6L653.34 101.75L654.08 101.91L654.82 102.06L655.56 102.22L656.3 102.37L657.04 102.51L657.78 102.65L658.52 102.78L659.26 102.9L660 103L660.72 103.09L661.43 103.17L662.15 103.25L662.87 103.33L663.58 103.4L664.3 103.47L665.02 103.53L665.73 103.6L666.45 103.66L667.17 103.72L667.88 103.78L668.6 103.83L669.32 103.89L670.03 103.95L670.75 104.01L671.47 104.07L672.18 104.13L672.9 104.2" fill="none" stroke="#0000ff" stroke-width="1.25" stroke-linejoin="round" stroke-linecap="round"/>
<path d="M539 106.3L539.72 106.24L540.43 106.18L541.15 106.13L541.87 106.08L542.59 106.02L543.3 105.97L544.02 105.92L544.74 105.87L545.46 105.82L546.17 105.77L546.89 105.72L547.61 105.67L548.33 105.61L549.04 105.56L549.76 105.5L550.48 105.44L551.2 105.37L551.91 105.3L552.63 105.23L553.35 105.16L554.07 105.08L554.78 104.99L555.5 104.9L556.23 104.8L556.95 104.69L557.67 104.57L558.4 104.44L559.12 104.3L559.85 104.15L560.58 103.98L561.3 103.81L562.02 103.63L562.75 103.44L563.48 103.24L564.2 103.03L564.92 102.81L565.65 102.58L566.38 102.34L567.1 102.09L567.83 101.83L568.55 101.56L569.27 101.29L570 101L570.72 100.69L571.44 100.34L572.15 99.96L572.87 99.54L573.59 99.08L574.31 98.59L575.03 98.07L575.75 97.52L576.46 96.94L577.18 96.33L577.9 95.7L578.64 94.99L579.39 94.19L580.13 93.31L580.87 92.35L581.61 91.33L582.36 90.24L583.1 89.1L583.92 87.74L584.75 86.22L585.58 84.52L586.4 82.6L587.18 80.45L587.96 77.94L588.74 75.18L589.52 72.29L590.3 69.4L591.12 66.35L591.95 63.19L592.77 59.86L593.6 56.3L594.47 52.26L595.33 47.88L596.2 43.1L597.2 36.46L598.2 30L598.93 26.27L599.65 22.86L600.38 19.78L601.1 17L601.82 14.21L602.54 11.32L603.26 8.75L603.98 6.91L604.7 6.2L605.44 6.96L606.18 8.92L606.92 11.58L607.66 14.44L608.4 17L609.22 19.48L610.04 21.98L610.86 24.53L611.68 27.19L612.5 30L613.33 33.07L614.15 36.37L614.97 39.75L615.8 43.1L616.62 46.49L617.45 49.96L618.27 53.3L619.1 56.3L619.87 58.83L620.63 61.25L621.4 63.53L622.17 65.67L622.93 67.63L623.7 69.4L624.41 70.91L625.12 72.35L625.83 73.73L626.54 75.05L627.25 76.31L627.95 77.5L628.66 78.64L629.37 79.72L630.08 80.73L630.79 81.7L631.5 82.6L632.23 83.48L632.97 84.32L633.7 85.11L634.43 85.86L635.17 86.58L635.9 87.26L636.63 87.9L637.37 88.51L638.1 89.1L638.8 89.64L639.5 90.17L640.2 90.68L640.9 91.18L641.6 91.67L642.3 92.15L643 92.6L643.7 93.05L644.4 93.48L645.1 93.89L645.8 94.29L646.5 94.67L647.2 95.03L647.9 95.37L648.6 95.7L649.31 96.01L650.02 96.31L650.72 96.6L651.43 96.87L652.14 97.13L652.85 97.38L653.55 97.63L654.26 97.87L654.97 98.1L655.68 98.33L656.38 98.55L657.09 98.78L657.8 99L658.52 99.23L659.24 99.45L659.96 99.66L660.68 99.87L661.4 100.08L662.11 100.28L662.83 100.49L663.55 100.68L664.27 100.88L664.99 101.08L665.71 101.27L666.43 101.46L667.15 101.65L667.87 101.84L668.59 102.03L669.3 102.23L670.02 102.42L670.74 102.61L671.46 102.8L672.18 103L672.9 103.2" fill="none" stroke="#8c0000" stroke-width="6.3" stroke-linejoin="round" stroke-linecap="round"/>
<path d="M539 106.3L539.72 106.24L540.43 106.18L541.15 106.13L541.87 106.08L542.59 106.02L543.3 105.97L544.02 105.92L544.74 105.87L545.46 105.82L546.17 105.77L546.89 105.72L547.61 105.67L548.33 105.61L549.04 105.56L549.76 105.5L550.48 105.44L551.2 105.37L551.91 105.3L552.63 105.23L553.35 105.16L554.07 105.08L554.78 104.99L555.5 104.9L556.23 104.8L556.95 104.69L557.67 104.57L558.4 104.44L559.12 104.3L559.85 104.15L560.58 103.98L561.3 103.81L562.02 103.63L562.75 103.44L563.48 103.24L564.2 103.03L564.92 102.81L565.65 102.58L566.38 102.34L567.1 102.09L567.83 101.83L568.55 101.56L569.27 101.29L570 101L570.72 100.69L571.44 100.34L572.15 99.96L572.87 99.54L573.59 99.08L574.31 98.59L575.03 98.07L575.75 97.52L576.46 96.94L577.18 96.33L577.9 95.7L578.64 94.99L579.39 94.19L580.13 93.31L580.87 92.35L581.61 91.33L582.36 90.24L583.1 89.1L583.92 87.74L584.75 86.22L585.58 84.52L586.4 82.6L587.18 80.45L587.96 77.94L588.74 75.18L589.52 72.29L590.3 69.4L591.12 66.35L591.95 63.19L592.77 59.86L593.6 56.3L594.47 52.26L595.33 47.88L596.2 43.1L597.2 36.46L598.2 30L598.93 26.27L599.65 22.86L600.38 19.78L601.1 17L601.82 14.21L602.54 11.32L603.26 8.75L603.98 6.91L604.7 6.2L605.44 6.96L606.18 8.92L606.92 11.58L607.66 14.44L608.4 17L609.22 19.48L610.04 21.98L610.86 24.53L611.68 27.19L612.5 30L613.33 33.07L614.15 36.37L614.97 39.75L615.8 43.1L616.62 46.49L617.45 49.96L618.27 53.3L619.1 56.3L619.87 58.83L620.63 61.25L621.4 63.53L622.17 65.67L622.93 67.63L623.7 69.4L624.41 70.91L625.12 72.35L625.83 73.73L626.54 75.05L627.25 76.31L627.95 77.5L628.66 78.64L629.37 79.72L630.08 80.73L630.79 81.7L631.5 82.6L632.23 83.48L632.97 84.32L633.7 85.11L634.43 85.86L635.17 86.58L635.9 87.26L636.63 87.9L637.37 88.51L638.1 89.1L638.8 89.64L639.5 90.17L640.2 90.68L640.9 91.18L641.6 91.67L642.3 92.15L643 92.6L643.7 93.05L644.4 93.48L645.1 93.89L645.8 94.29L646.5 94.67L647.2 95.03L647.9 95.37L648.6 95.7L649.31 96.01L650.02 96.31L650.72 96.6L651.43 96.87L652.14 97.13L652.85 97.38L653.55 97.63L654.26 97.87L654.97 98.1L655.68 98.33L656.38 98.55L657.09 98.78L657.8 99L658.52 99.23L659.24 99.45L659.96 99.66L660.68 99.87L661.4 100.08L662.11 100.28L662.83 100.49L663.55 100.68L664.27 100.88L664.99 101.08L665.71 101.27L666.43 101.46L667.15 101.65L667.87 101.84L668.59 102.03L669.3 102.23L670.02 102.42L670.74 102.61L671.46 102.8L672.18 103L672.9 103.2" fill="none" stroke="#ff0000" stroke-width="1.25" stroke-linejoin="round" stroke-linecap="round"/>
<text x="572.22" y="132.9" font-size="15.8" text-anchor="middle" fill="#262626" color="#262626" >750</text>
<text x="622.46" y="132.9" font-size="15.8" text-anchor="middle" fill="#262626" color="#262626" >800</text>
<text x="673.5" y="132.9" font-size="15.8" text-anchor="middle" fill="#262626" color="#262626" >850</text>
<text x="533.6" y="114" font-size="16.2" text-anchor="end" fill="#262626" color="#262626" >0</text>
<text x="533.6" y="45.37" font-size="16.2" text-anchor="end" fill="#262626" color="#262626" >0.5</text>
<text x="605.7" y="151" font-size="17.5" text-anchor="middle" fill="#262626" color="#262626" ><tspan font-family="Liberation Serif" font-style="italic" font-size="19.5">&#955;</tspan> (nm)</text>
<text x="669.9" y="21.2" font-size="15.5" text-anchor="end" fill="#000" color="#000" >294 K</text>
<text x="1.8" y="11.2" font-size="17.5" text-anchor="start" fill="#000" color="#000" >a</text>
<text transform="translate(16.3 57.8) rotate(-90)" font-size="16" text-anchor="middle" fill="#262626" color="#262626">I (10<tspan dy="-7.5" font-size="11">4</tspan><tspan dy="7.5"> cts)</tspan></text>
<rect x="40" y="162" width="7.21" height="7.17" fill="#009fff"/>
<rect x="48.01" y="162" width="7.21" height="7.17" fill="#46ffb9"/>
<rect x="56.02" y="162" width="7.21" height="7.17" fill="#dfff20"/>
<rect x="64.03" y="162" width="7.21" height="7.17" fill="#009fff"/>
<rect x="72.04" y="162" width="7.21" height="7.17" fill="#46ffb9"/>
<rect x="80.05" y="162" width="7.21" height="7.17" fill="#ff7300"/>
<rect x="88.06" y="162" width="7.21" height="7.17" fill="#ffe900"/>
<rect x="96.07" y="162" width="7.21" height="7.17" fill="#dfff20"/>
<rect x="104.08" y="162" width="7.21" height="7.17" fill="#46ffb9"/>
<rect x="112.09" y="162" width="7.21" height="7.17" fill="#009fff"/>
<rect x="120.1" y="162" width="7.21" height="7.17" fill="#13ffec"/>
<rect x="128.11" y="162" width="7.21" height="7.17" fill="#dfff20"/>
<rect x="136.12" y="162" width="7.21" height="7.17" fill="#46ffb9"/>
<rect x="144.13" y="162" width="7.21" height="7.17" fill="#46ffb9"/>
<rect x="152.14" y="162" width="7.21" height="7.17" fill="#46ffb9"/>
<rect x="160.15" y="162" width="7.21" height="7.17" fill="#46ffb9"/>
<rect x="168.16" y="162" width="7.21" height="7.17" fill="#46ffb9"/>
<rect x="40" y="169.97" width="7.21" height="7.17" fill="#ffb900"/>
<rect x="48.01" y="169.97" width="7.21" height="7.17" fill="#13ffec"/>
<rect x="56.02" y="169.97" width="7.21" height="7.17" fill="#00d9ff"/>
<rect x="64.03" y="169.97" width="7.21" height="7.17" fill="#00d9ff"/>
<rect x="72.04" y="169.97" width="7.21" height="7.17" fill="#dfff20"/>
<rect x="80.05" y="169.97" width="7.21" height="7.17" fill="#9fff60"/>
<rect x="88.06" y="169.97" width="7.21" height="7.17" fill="#dfff20"/>
<rect x="96.07" y="169.97" width="7.21" height="7.17" fill="#46ffb9"/>
<rect x="104.08" y="169.97" width="7.21" height="7.17" fill="#46ffb9"/>
<rect x="112.09" y="169.97" width="7.21" height="7.17" fill="#dfff20"/>
<rect x="120.1" y="169.97" width="7.21" height="7.17" fill="#dfff20"/>
<rect x="128.11" y="169.97" width="7.21" height="7.17" fill="#46ffb9"/>
<rect x="136.12" y="169.97" width="7.21" height="7.17" fill="#46ffb9"/>
<rect x="144.13" y="169.97" width="7.21" height="7.17" fill="#46ffb9"/>
<rect x="152.14" y="169.97" width="7.21" height="7.17" fill="#46ffb9"/>
<rect x="160.15" y="169.97" width="7.21" height="7.17" fill="#46ffb9"/>
<rect x="168.16" y="169.97" width="7.21" height="7.17" fill="#46ffb9"/>
<rect x="40" y="177.94" width="7.21" height="7.17" fill="#009fff"/>
<rect x="48.01" y="177.94" width="7.21" height="7.17" fill="#0039ff"/>
<rect x="56.02" y="177.94" width="7.21" height="7.17" fill="#0079ff"/>
<rect x="64.03" y="177.94" width="7.21" height="7.17" fill="#ffe900"/>
<rect x="72.04" y="177.94" width="7.21" height="7.17" fill="#46ffb9"/>
<rect x="80.05" y="177.94" width="7.21" height="7.17" fill="#46ffb9"/>
<rect x="88.06" y="177.94" width="7.21" height="7.17" fill="#dfff20"/>
<rect x="96.07" y="177.94" width="7.21" height="7.17" fill="#9fff60"/>
<rect x="104.08" y="177.94" width="7.21" height="7.17" fill="#9fff60"/>
<rect x="112.09" y="177.94" width="7.21" height="7.17" fill="#009fff"/>
<rect x="120.1" y="177.94" width="7.21" height="7.17" fill="#00d9ff"/>
<rect x="128.11" y="177.94" width="7.21" height="7.17" fill="#9fff60"/>
<rect x="136.12" y="177.94" width="7.21" height="7.17" fill="#0000f9"/>
<rect x="144.13" y="177.94" width="7.21" height="7.17" fill="#0000f9"/>
<rect x="152.14" y="177.94" width="7.21" height="7.17" fill="#00d9ff"/>
<rect x="160.15" y="177.94" width="7.21" height="7.17" fill="#00d9ff"/>
<rect x="168.16" y="177.94" width="7.21" height="7.17" fill="#46ffb9"/>
<rect x="40" y="185.91" width="7.21" height="7.17" fill="#009fff"/>
<rect x="48.01" y="185.91" width="7.21" height="7.17" fill="#9fff60"/>
<rect x="56.02" y="185.91" width="7.21" height="7.17" fill="#00d9ff"/>
<rect x="64.03" y="185.91" width="7.21" height="7.17" fill="#dfff20"/>
<rect x="72.04" y="185.91" width="7.21" height="7.17" fill="#9fff60"/>
<rect x="80.05" y="185.91" width="7.21" height="7.17" fill="#00d9ff"/>
<rect x="88.06" y="185.91" width="7.21" height="7.17" fill="#9fff60"/>
<rect x="96.07" y="185.91" width="7.21" height="7.17" fill="#009fff"/>
<rect x="104.08" y="185.91" width="7.21" height="7.17" fill="#dfff20"/>
<rect x="112.09" y="185.91" width="7.21" height="7.17" fill="#9fff60"/>
<rect x="120.1" y="185.91" width="7.21" height="7.17" fill="#13ffec"/>
<rect x="128.11" y="185.91" width="7.21" height="7.17" fill="#0079ff"/>
<rect x="136.12" y="185.91" width="7.21" height="7.17" fill="#00d9ff"/>
<rect x="144.13" y="185.91" width="7.21" height="7.17" fill="#0039ff"/>
<rect x="152.14" y="185.91" width="7.21" height="7.17" fill="#46ffb9"/>
<rect x="160.15" y="185.91" width="7.21" height="7.17" fill="#46ffb9"/>
<rect x="168.16" y="185.91" width="7.21" height="7.17" fill="#46ffb9"/>
<rect x="40" y="193.88" width="7.21" height="7.17" fill="#0000f9"/>
<rect x="48.01" y="193.88" width="7.21" height="7.17" fill="#46ffb9"/>
<rect x="56.02" y="193.88" width="7.21" height="7.17" fill="#dfff20"/>
<rect x="64.03" y="193.88" width="7.21" height="7.17" fill="#ffb900"/>
<rect x="72.04" y="193.88" width="7.21" height="7.17" fill="#dfff20"/>
<rect x="80.05" y="193.88" width="7.21" height="7.17" fill="#9fff60"/>
<rect x="88.06" y="193.88" width="7.21" height="7.17" fill="#9fff60"/>
<rect x="96.07" y="193.88" width="7.21" height="7.17" fill="#0079ff"/>
<rect x="104.08" y="193.88" width="7.21" height="7.17" fill="#ffb900"/>
<rect x="112.09" y="193.88" width="7.21" height="7.17" fill="#46ffb9"/>
<rect x="120.1" y="193.88" width="7.21" height="7.17" fill="#9fff60"/>
<rect x="128.11" y="193.88" width="7.21" height="7.17" fill="#46ffb9"/>
<rect x="136.12" y="193.88" width="7.21" height="7.17" fill="#00d9ff"/>
<rect x="144.13" y="193.88" width="7.21" height="7.17" fill="#00009f"/>
<rect x="152.14" y="193.88" width="7.21" height="7.17" fill="#dfff20"/>
<rect x="160.15" y="193.88" width="7.21" height="7.17" fill="#9fff60"/>
<rect x="168.16" y="193.88" width="7.21" height="7.17" fill="#46ffb9"/>
<rect x="40" y="201.85" width="7.21" height="7.17" fill="#dfff20"/>
<rect x="48.01" y="201.85" width="7.21" height="7.17" fill="#46ffb9"/>
<rect x="56.02" y="201.85" width="7.21" height="7.17" fill="#dfff20"/>
<rect x="64.03" y="201.85" width="7.21" height="7.17" fill="#9fff60"/>
<rect x="72.04" y="201.85" width="7.21" height="7.17" fill="#dfff20"/>
<rect x="80.05" y="201.85" width="7.21" height="7.17" fill="#dfff20"/>
<rect x="88.06" y="201.85" width="7.21" height="7.17" fill="#ff7300"/>
<rect x="96.07" y="201.85" width="7.21" height="7.17" fill="#009fff"/>
<rect x="104.08" y="201.85" width="7.21" height="7.17" fill="#46ffb9"/>
<rect x="112.09" y="201.85" width="7.21" height="7.17" fill="#9fff60"/>
<rect x="120.1" y="201.85" width="7.21" height="7.17" fill="#13ffec"/>
<rect x="128.11" y="201.85" width="7.21" height="7.17" fill="#46ffb9"/>
<rect x="136.12" y="201.85" width="7.21" height="7.17" fill="#00d9ff"/>
<rect x="144.13" y="201.85" width="7.21" height="7.17" fill="#0079ff"/>
<rect x="152.14" y="201.85" width="7.21" height="7.17" fill="#9fff60"/>
<rect x="160.15" y="201.85" width="7.21" height="7.17" fill="#dfff20"/>
<rect x="168.16" y="201.85" width="7.21" height="7.17" fill="#0000f9"/>
<rect x="40" y="209.82" width="7.21" height="7.17" fill="#ffe900"/>
<rect x="48.01" y="209.82" width="7.21" height="7.17" fill="#9fff60"/>
<rect x="56.02" y="209.82" width="7.21" height="7.17" fill="#ffe900"/>
<rect x="64.03" y="209.82" width="7.21" height="7.17" fill="#dfff20"/>
<rect x="72.04" y="209.82" width="7.21" height="7.17" fill="#9fff60"/>
<rect x="80.05" y="209.82" width="7.21" height="7.17" fill="#ffe900"/>
<rect x="88.06" y="209.82" width="7.21" height="7.17" fill="#46ffb9"/>
<rect x="96.07" y="209.82" width="7.21" height="7.17" fill="#9fff60"/>
<rect x="104.08" y="209.82" width="7.21" height="7.17" fill="#dfff20"/>
<rect x="112.09" y="209.82" width="7.21" height="7.17" fill="#0079ff"/>
<rect x="120.1" y="209.82" width="7.21" height="7.17" fill="#dfff20"/>
<rect x="128.11" y="209.82" width="7.21" height="7.17" fill="#009fff"/>
<rect x="136.12" y="209.82" width="7.21" height="7.17" fill="#9fff60"/>
<rect x="144.13" y="209.82" width="7.21" height="7.17" fill="#46ffb9"/>
<rect x="152.14" y="209.82" width="7.21" height="7.17" fill="#00d9ff"/>
<rect x="160.15" y="209.82" width="7.21" height="7.17" fill="#0079ff"/>
<rect x="168.16" y="209.82" width="7.21" height="7.17" fill="#009fff"/>
<rect x="40" y="217.79" width="7.21" height="7.17" fill="#9fff60"/>
<rect x="48.01" y="217.79" width="7.21" height="7.17" fill="#00d9ff"/>
<rect x="56.02" y="217.79" width="7.21" height="7.17" fill="#9fff60"/>
<rect x="64.03" y="217.79" width="7.21" height="7.17" fill="#9fff60"/>
<rect x="72.04" y="217.79" width="7.21" height="7.17" fill="#46ffb9"/>
<rect x="80.05" y="217.79" width="7.21" height="7.17" fill="#0079ff"/>
<rect x="88.06" y="217.79" width="7.21" height="7.17" fill="#ffb900"/>
<rect x="96.07" y="217.79" width="7.21" height="7.17" fill="#46ffb9"/>
<rect x="104.08" y="217.79" width="7.21" height="7.17" fill="#9fff60"/>
<rect x="112.09" y="217.79" width="7.21" height="7.17" fill="#46ffb9"/>
<rect x="120.1" y="217.79" width="7.21" height="7.17" fill="#dfff20"/>
<rect x="128.11" y="217.79" width="7.21" height="7.17" fill="#46ffb9"/>
<rect x="136.12" y="217.79" width="7.21" height="7.17" fill="#9fff60"/>
<rect x="144.13" y="217.79" width="7.21" height="7.17" fill="#46ffb9"/>
<rect x="152.14" y="217.79" width="7.21" height="7.17" fill="#0079ff"/>
<rect x="160.15" y="217.79" width="7.21" height="7.17" fill="#46ffb9"/>
<rect x="168.16" y="217.79" width="7.21" height="7.17" fill="#00009f"/>
<rect x="40" y="225.76" width="7.21" height="7.17" fill="#46ffb9"/>
<rect x="48.01" y="225.76" width="7.21" height="7.17" fill="#dfff20"/>
<rect x="56.02" y="225.76" width="7.21" height="7.17" fill="#46ffb9"/>
<rect x="64.03" y="225.76" width="7.21" height="7.17" fill="#0079ff"/>
<rect x="72.04" y="225.76" width="7.21" height="7.17" fill="#00d9ff"/>
<rect x="80.05" y="225.76" width="7.21" height="7.17" fill="#46ffb9"/>
<rect x="88.06" y="225.76" width="7.21" height="7.17" fill="#13ffec"/>
<rect x="96.07" y="225.76" width="7.21" height="7.17" fill="#46ffb9"/>
<rect x="104.08" y="225.76" width="7.21" height="7.17" fill="#9fff60"/>
<rect x="112.09" y="225.76" width="7.21" height="7.17" fill="#009fff"/>
<rect x="120.1" y="225.76" width="7.21" height="7.17" fill="#46ffb9"/>
<rect x="128.11" y="225.76" width="7.21" height="7.17" fill="#dfff20"/>
<rect x="136.12" y="225.76" width="7.21" height="7.17" fill="#9fff60"/>
<rect x="144.13" y="225.76" width="7.21" height="7.17" fill="#0039ff"/>
<rect x="152.14" y="225.76" width="7.21" height="7.17" fill="#0000f9"/>
<rect x="160.15" y="225.76" width="7.21" height="7.17" fill="#0039ff"/>
<rect x="168.16" y="225.76" width="7.21" height="7.17" fill="#00009f"/>
<rect x="40" y="233.73" width="7.21" height="7.17" fill="#9fff60"/>
<rect x="48.01" y="233.73" width="7.21" height="7.17" fill="#ffe900"/>
<rect x="56.02" y="233.73" width="7.21" height="7.17" fill="#009fff"/>
<rect x="64.03" y="233.73" width="7.21" height="7.17" fill="#9fff60"/>
<rect x="72.04" y="233.73" width="7.21" height="7.17" fill="#0079ff"/>
<rect x="80.05" y="233.73" width="7.21" height="7.17" fill="#dfff20"/>
<rect x="88.06" y="233.73" width="7.21" height="7.17" fill="#00d9ff"/>
<rect x="96.07" y="233.73" width="7.21" height="7.17" fill="#009fff"/>
<rect x="104.08" y="233.73" width="7.21" height="7.17" fill="#9fff60"/>
<rect x="112.09" y="233.73" width="7.21" height="7.17" fill="#13ffec"/>
<rect x="120.1" y="233.73" width="7.21" height="7.17" fill="#00d9ff"/>
<rect x="128.11" y="233.73" width="7.21" height="7.17" fill="#00d9ff"/>
<rect x="136.12" y="233.73" width="7.21" height="7.17" fill="#13ffec"/>
<rect x="144.13" y="233.73" width="7.21" height="7.17" fill="#00d9ff"/>
<rect x="152.14" y="233.73" width="7.21" height="7.17" fill="#0000f9"/>
<rect x="160.15" y="233.73" width="7.21" height="7.17" fill="#00d9ff"/>
<rect x="168.16" y="233.73" width="7.21" height="7.17" fill="#009fff"/>
<rect x="40" y="241.7" width="7.21" height="7.17" fill="#dfff20"/>
<rect x="48.01" y="241.7" width="7.21" height="7.17" fill="#dfff20"/>
<rect x="56.02" y="241.7" width="7.21" height="7.17" fill="#00d9ff"/>
<rect x="64.03" y="241.7" width="7.21" height="7.17" fill="#9fff60"/>
<rect x="72.04" y="241.7" width="7.21" height="7.17" fill="#13ffec"/>
<rect x="80.05" y="241.7" width="7.21" height="7.17" fill="#00d9ff"/>
<rect x="88.06" y="241.7" width="7.21" height="7.17" fill="#0079ff"/>
<rect x="96.07" y="241.7" width="7.21" height="7.17" fill="#46ffb9"/>
<rect x="104.08" y="241.7" width="7.21" height="7.17" fill="#00d9ff"/>
<rect x="112.09" y="241.7" width="7.21" height="7.17" fill="#13ffec"/>
<rect x="120.1" y="241.7" width="7.21" height="7.17" fill="#00d9ff"/>
<rect x="128.11" y="241.7" width="7.21" height="7.17" fill="#0000f9"/>
<rect x="136.12" y="241.7" width="7.21" height="7.17" fill="#00d9ff"/>
<rect x="144.13" y="241.7" width="7.21" height="7.17" fill="#dfff20"/>
<rect x="152.14" y="241.7" width="7.21" height="7.17" fill="#009fff"/>
<rect x="160.15" y="241.7" width="7.21" height="7.17" fill="#9fff60"/>
<rect x="168.16" y="241.7" width="7.21" height="7.17" fill="#9fff60"/>
<rect x="40" y="249.67" width="7.21" height="7.17" fill="#13ffec"/>
<rect x="48.01" y="249.67" width="7.21" height="7.17" fill="#00d9ff"/>
<rect x="56.02" y="249.67" width="7.21" height="7.17" fill="#009fff"/>
<rect x="64.03" y="249.67" width="7.21" height="7.17" fill="#dfff20"/>
<rect x="72.04" y="249.67" width="7.21" height="7.17" fill="#ffe900"/>
<rect x="80.05" y="249.67" width="7.21" height="7.17" fill="#00d9ff"/>
<rect x="88.06" y="249.67" width="7.21" height="7.17" fill="#46ffb9"/>
<rect x="96.07" y="249.67" width="7.21" height="7.17" fill="#009fff"/>
<rect x="104.08" y="249.67" width="7.21" height="7.17" fill="#00d9ff"/>
<rect x="112.09" y="249.67" width="7.21" height="7.17" fill="#0079ff"/>
<rect x="120.1" y="249.67" width="7.21" height="7.17" fill="#9fff60"/>
<rect x="128.11" y="249.67" width="7.21" height="7.17" fill="#dfff20"/>
<rect x="136.12" y="249.67" width="7.21" height="7.17" fill="#9fff60"/>
<rect x="144.13" y="249.67" width="7.21" height="7.17" fill="#009fff"/>
<rect x="152.14" y="249.67" width="7.21" height="7.17" fill="#0079ff"/>
<rect x="160.15" y="249.67" width="7.21" height="7.17" fill="#ffb900"/>
<rect x="168.16" y="249.67" width="7.21" height="7.17" fill="#13ffec"/>
<rect x="40" y="257.64" width="7.21" height="7.17" fill="#13ffec"/>
<rect x="48.01" y="257.64" width="7.21" height="7.17" fill="#9fff60"/>
<rect x="56.02" y="257.64" width="7.21" height="7.17" fill="#009fff"/>
<rect x="64.03" y="257.64" width="7.21" height="7.17" fill="#9fff60"/>
<rect x="72.04" y="257.64" width="7.21" height="7.17" fill="#9fff60"/>
<rect x="80.05" y="257.64" width="7.21" height="7.17" fill="#13ffec"/>
<rect x="88.06" y="257.64" width="7.21" height="7.17" fill="#00d9ff"/>
<rect x="96.07" y="257.64" width="7.21" height="7.17" fill="#46ffb9"/>
<rect x="104.08" y="257.64" width="7.21" height="7.17" fill="#00d9ff"/>
<rect x="112.09" y="257.64" width="7.21" height="7.17" fill="#0000f9"/>
<rect x="120.1" y="257.64" width="7.21" height="7.17" fill="#00009f"/>
<rect x="128.11" y="257.64" width="7.21" height="7.17" fill="#13ffec"/>
<rect x="136.12" y="257.64" width="7.21" height="7.17" fill="#13ffec"/>
<rect x="144.13" y="257.64" width="7.21" height="7.17" fill="#0000f9"/>
<rect x="152.14" y="257.64" width="7.21" height="7.17" fill="#46ffb9"/>
<rect x="160.15" y="257.64" width="7.21" height="7.17" fill="#009fff"/>
<rect x="168.16" y="257.64" width="7.21" height="7.17" fill="#00d9ff"/>
<rect x="40" y="265.61" width="7.21" height="7.17" fill="#00d9ff"/>
<rect x="48.01" y="265.61" width="7.21" height="7.17" fill="#dfff20"/>
<rect x="56.02" y="265.61" width="7.21" height="7.17" fill="#00d9ff"/>
<rect x="64.03" y="265.61" width="7.21" height="7.17" fill="#9fff60"/>
<rect x="72.04" y="265.61" width="7.21" height="7.17" fill="#13ffec"/>
<rect x="80.05" y="265.61" width="7.21" height="7.17" fill="#46ffb9"/>
<rect x="88.06" y="265.61" width="7.21" height="7.17" fill="#13ffec"/>
<rect x="96.07" y="265.61" width="7.21" height="7.17" fill="#dfff20"/>
<rect x="104.08" y="265.61" width="7.21" height="7.17" fill="#46ffb9"/>
<rect x="112.09" y="265.61" width="7.21" height="7.17" fill="#ffe900"/>
<rect x="120.1" y="265.61" width="7.21" height="7.17" fill="#dfff20"/>
<rect x="128.11" y="265.61" width="7.21" height="7.17" fill="#ffe900"/>
<rect x="136.12" y="265.61" width="7.21" height="7.17" fill="#46ffb9"/>
<rect x="144.13" y="265.61" width="7.21" height="7.17" fill="#00009f"/>
<rect x="152.14" y="265.61" width="7.21" height="7.17" fill="#0000f9"/>
<rect x="160.15" y="265.61" width="7.21" height="7.17" fill="#0079ff"/>
<rect x="168.16" y="265.61" width="7.21" height="7.17" fill="#00009f"/>
<rect x="40" y="273.58" width="7.21" height="7.17" fill="#9fff60"/>
<rect x="48.01" y="273.58" width="7.21" height="7.17" fill="#9fff60"/>
<rect x="56.02" y="273.58" width="7.21" height="7.17" fill="#0039ff"/>
<rect x="64.03" y="273.58" width="7.21" height="7.17" fill="#ffb900"/>
<rect x="72.04" y="273.58" width="7.21" height="7.17" fill="#9fff60"/>
<rect x="80.05" y="273.58" width="7.21" height="7.17" fill="#46ffb9"/>
<rect x="88.06" y="273.58" width="7.21" height="7.17" fill="#009fff"/>
<rect x="96.07" y="273.58" width="7.21" height="7.17" fill="#46ffb9"/>
<rect x="104.08" y="273.58" width="7.21" height="7.17" fill="#dfff20"/>
<rect x="112.09" y="273.58" width="7.21" height="7.17" fill="#9fff60"/>
<rect x="120.1" y="273.58" width="7.21" height="7.17" fill="#00d9ff"/>
<rect x="128.11" y="273.58" width="7.21" height="7.17" fill="#9fff60"/>
<rect x="136.12" y="273.58" width="7.21" height="7.17" fill="#9fff60"/>
<rect x="144.13" y="273.58" width="7.21" height="7.17" fill="#009fff"/>
<rect x="152.14" y="273.58" width="7.21" height="7.17" fill="#0079ff"/>
<rect x="160.15" y="273.58" width="7.21" height="7.17" fill="#00009f"/>
<rect x="168.16" y="273.58" width="7.21" height="7.17" fill="#ffe900"/>
<rect x="40" y="281.55" width="7.21" height="7.17" fill="#9fff60"/>
<rect x="48.01" y="281.55" width="7.21" height="7.17" fill="#9fff60"/>
<rect x="56.02" y="281.55" width="7.21" height="7.17" fill="#0039ff"/>
<rect x="64.03" y="281.55" width="7.21" height="7.17" fill="#0079ff"/>
<rect x="72.04" y="281.55" width="7.21" height="7.17" fill="#dfff20"/>
<rect x="80.05" y="281.55" width="7.21" height="7.17" fill="#9fff60"/>
<rect x="88.06" y="281.55" width="7.21" height="7.17" fill="#9fff60"/>
<rect x="96.07" y="281.55" width="7.21" height="7.17" fill="#dfff20"/>
<rect x="104.08" y="281.55" width="7.21" height="7.17" fill="#9fff60"/>
<rect x="112.09" y="281.55" width="7.21" height="7.17" fill="#9fff60"/>
<rect x="120.1" y="281.55" width="7.21" height="7.17" fill="#46ffb9"/>
<rect x="128.11" y="281.55" width="7.21" height="7.17" fill="#009fff"/>
<rect x="136.12" y="281.55" width="7.21" height="7.17" fill="#9fff60"/>
<rect x="144.13" y="281.55" width="7.21" height="7.17" fill="#46ffb9"/>
<rect x="152.14" y="281.55" width="7.21" height="7.17" fill="#0000f9"/>
<rect x="160.15" y="281.55" width="7.21" height="7.17" fill="#0000f9"/>
<rect x="168.16" y="281.55" width="7.21" height="7.17" fill="#13ffec"/>
<rect x="40" y="289.52" width="7.21" height="7.17" fill="#dfff20"/>
<rect x="48.01" y="289.52" width="7.21" height="7.17" fill="#ffe900"/>
<rect x="56.02" y="289.52" width="7.21" height="7.17" fill="#dfff20"/>
<rect x="64.03" y="289.52" width="7.21" height="7.17" fill="#00d9ff"/>
<rect x="72.04" y="289.52" width="7.21" height="7.17" fill="#9fff60"/>
<rect x="80.05" y="289.52" width="7.21" height="7.17" fill="#9fff60"/>
<rect x="88.06" y="289.52" width="7.21" height="7.17" fill="#dfff20"/>
<rect x="96.07" y="289.52" width="7.21" height="7.17" fill="#0079ff"/>
<rect x="104.08" y="289.52" width="7.21" height="7.17" fill="#ffe900"/>
<rect x="112.09" y="289.52" width="7.21" height="7.17" fill="#46ffb9"/>
<rect x="120.1" y="289.52" width="7.21" height="7.17" fill="#009fff"/>
<rect x="128.11" y="289.52" width="7.21" height="7.17" fill="#13ffec"/>
<rect x="136.12" y="289.52" width="7.21" height="7.17" fill="#009fff"/>
<rect x="144.13" y="289.52" width="7.21" height="7.17" fill="#9fff60"/>
<rect x="152.14" y="289.52" width="7.21" height="7.17" fill="#0079ff"/>
<rect x="160.15" y="289.52" width="7.21" height="7.17" fill="#0079ff"/>
<rect x="168.16" y="289.52" width="7.21" height="7.17" fill="#00d9ff"/>
<rect x="131" y="160" width="45" height="18.1" fill="#fff"/>
<text x="172.2" y="176.1" font-size="15.5" text-anchor="end" fill="#000" color="#000" >100 K</text>
<rect x="131.4" y="283.1" width="35.7" height="5.9" fill="#fff"/>
<path d="M133.1 286.9H164.9" stroke="#1a1a1a" stroke-width="2.2"/>
<circle cx="107.5" cy="213.2" r="6.8" fill="none" stroke="#0b9247" stroke-width="1.8"/>
<rect x="206.4" y="163.1" width="7.21" height="7.17" fill="#9fff60"/>
<rect x="214.41" y="163.1" width="7.21" height="7.17" fill="#0079ff"/>
<rect x="222.42" y="163.1" width="7.21" height="7.17" fill="#dfff20"/>
<rect x="230.43" y="163.1" width="7.21" height="7.17" fill="#00d9ff"/>
<rect x="238.44" y="163.1" width="7.21" height="7.17" fill="#ffe900"/>
<rect x="246.45" y="163.1" width="7.21" height="7.17" fill="#dfff20"/>
<rect x="254.46" y="163.1" width="7.21" height="7.17" fill="#ffb900"/>
<rect x="262.47" y="163.1" width="7.21" height="7.17" fill="#ffe900"/>
<rect x="270.48" y="163.1" width="7.21" height="7.17" fill="#ffb900"/>
<rect x="278.49" y="163.1" width="7.21" height="7.17" fill="#ffe900"/>
<rect x="286.5" y="163.1" width="7.21" height="7.17" fill="#13ffec"/>
<rect x="294.51" y="163.1" width="7.21" height="7.17" fill="#dfff20"/>
<rect x="302.52" y="163.1" width="7.21" height="7.17" fill="#46ffb9"/>
<rect x="310.53" y="163.1" width="7.21" height="7.17" fill="#46ffb9"/>
<rect x="318.54" y="163.1" width="7.21" height="7.17" fill="#46ffb9"/>
<rect x="326.55" y="163.1" width="7.21" height="7.17" fill="#46ffb9"/>
<rect x="334.56" y="163.1" width="7.21" height="7.17" fill="#46ffb9"/>
<rect x="206.4" y="171.07" width="7.21" height="7.17" fill="#9fff60"/>
<rect x="214.41" y="171.07" width="7.21" height="7.17" fill="#ffb900"/>
<rect x="222.42" y="171.07" width="7.21" height="7.17" fill="#ffe900"/>
<rect x="230.43" y="171.07" width="7.21" height="7.17" fill="#13ffec"/>
<rect x="238.44" y="171.07" width="7.21" height="7.17" fill="#ff7300"/>
<rect x="246.45" y="171.07" width="7.21" height="7.17" fill="#46ffb9"/>
<rect x="254.46" y="171.07" width="7.21" height="7.17" fill="#ffe900"/>
<rect x="262.47" y="171.07" width="7.21" height="7.17" fill="#9fff60"/>
<rect x="270.48" y="171.07" width="7.21" height="7.17" fill="#ff7300"/>
<rect x="278.49" y="171.07" width="7.21" height="7.17" fill="#9fff60"/>
<rect x="286.5" y="171.07" width="7.21" height="7.17" fill="#ffb900"/>
<rect x="294.51" y="171.07" width="7.21" height="7.17" fill="#ffe900"/>
<rect x="302.52" y="171.07" width="7.21" height="7.17" fill="#46ffb9"/>
<rect x="310.53" y="171.07" width="7.21" height="7.17" fill="#46ffb9"/>
<rect x="318.54" y="171.07" width="7.21" height="7.17" fill="#46ffb9"/>
<rect x="326.55" y="171.07" width="7.21" height="7.17" fill="#46ffb9"/>
<rect x="334.56" y="171.07" width="7.21" height="7.17" fill="#46ffb9"/>
<rect x="206.4" y="179.04" width="7.21" height="7.17" fill="#46ffb9"/>
<rect x="214.41" y="179.04" width="7.21" height="7.17" fill="#dfff20"/>
<rect x="222.42" y="179.04" width="7.21" height="7.17" fill="#0000f9"/>
<rect x="230.43" y="179.04" width="7.21" height="7.17" fill="#46ffb9"/>
<rect x="238.44" y="179.04" width="7.21" height="7.17" fill="#dfff20"/>
<rect x="246.45" y="179.04" width="7.21" height="7.17" fill="#ffe900"/>
<rect x="254.46" y="179.04" width="7.21" height="7.17" fill="#00d9ff"/>
<rect x="262.47" y="179.04" width="7.21" height="7.17" fill="#0039ff"/>
<rect x="270.48" y="179.04" width="7.21" height="7.17" fill="#dfff20"/>
<rect x="278.49" y="179.04" width="7.21" height="7.17" fill="#00d9ff"/>
<rect x="286.5" y="179.04" width="7.21" height="7.17" fill="#ff7300"/>
<rect x="294.51" y="179.04" width="7.21" height="7.17" fill="#009fff"/>
<rect x="302.52" y="179.04" width="7.21" height="7.17" fill="#0039ff"/>
<rect x="310.53" y="179.04" width="7.21" height="7.17" fill="#dfff20"/>
<rect x="318.54" y="179.04" width="7.21" height="7.17" fill="#13ffec"/>
<rect x="326.55" y="179.04" width="7.21" height="7.17" fill="#00d9ff"/>
<rect x="334.56" y="179.04" width="7.21" height="7.17" fill="#ffb900"/>
<rect x="206.4" y="187.01" width="7.21" height="7.17" fill="#ffe900"/>
<rect x="214.41" y="187.01" width="7.21" height="7.17" fill="#9fff60"/>
<rect x="222.42" y="187.01" width="7.21" height="7.17" fill="#ffb900"/>
<rect x="230.43" y="187.01" width="7.21" height="7.17" fill="#ff7300"/>
<rect x="238.44" y="187.01" width="7.21" height="7.17" fill="#c60000"/>
<rect x="246.45" y="187.01" width="7.21" height="7.17" fill="#9fff60"/>
<rect x="254.46" y="187.01" width="7.21" height="7.17" fill="#ffe900"/>
<rect x="262.47" y="187.01" width="7.21" height="7.17" fill="#13ffec"/>
<rect x="270.48" y="187.01" width="7.21" height="7.17" fill="#00d9ff"/>
<rect x="278.49" y="187.01" width="7.21" height="7.17" fill="#ffb900"/>
<rect x="286.5" y="187.01" width="7.21" height="7.17" fill="#9fff60"/>
<rect x="294.51" y="187.01" width="7.21" height="7.17" fill="#0000f9"/>
<rect x="302.52" y="187.01" width="7.21" height="7.17" fill="#0079ff"/>
<rect x="310.53" y="187.01" width="7.21" height="7.17" fill="#00d9ff"/>
<rect x="318.54" y="187.01" width="7.21" height="7.17" fill="#dfff20"/>
<rect x="326.55" y="187.01" width="7.21" height="7.17" fill="#009fff"/>
<rect x="334.56" y="187.01" width="7.21" height="7.17" fill="#46ffb9"/>
<rect x="206.4" y="194.98" width="7.21" height="7.17" fill="#00d9ff"/>
<rect x="214.41" y="194.98" width="7.21" height="7.17" fill="#00d9ff"/>
<rect x="222.42" y="194.98" width="7.21" height="7.17" fill="#ff7300"/>
<rect x="230.43" y="194.98" width="7.21" height="7.17" fill="#ffb900"/>
<rect x="238.44" y="194.98" width="7.21" height="7.17" fill="#ffb900"/>
<rect x="246.45" y="194.98" width="7.21" height="7.17" fill="#ffe900"/>
<rect x="254.46" y="194.98" width="7.21" height="7.17" fill="#46ffb9"/>
<rect x="262.47" y="194.98" width="7.21" height="7.17" fill="#46ffb9"/>
<rect x="270.48" y="194.98" width="7.21" height="7.17" fill="#dfff20"/>
<rect x="278.49" y="194.98" width="7.21" height="7.17" fill="#9fff60"/>
<rect x="286.5" y="194.98" width="7.21" height="7.17" fill="#dfff20"/>
<rect x="294.51" y="194.98" width="7.21" height="7.17" fill="#0079ff"/>
<rect x="302.52" y="194.98" width="7.21" height="7.17" fill="#0039ff"/>
<rect x="310.53" y="194.98" width="7.21" height="7.17" fill="#0079ff"/>
<rect x="318.54" y="194.98" width="7.21" height="7.17" fill="#9fff60"/>
<rect x="326.55" y="194.98" width="7.21" height="7.17" fill="#ffb900"/>
<rect x="334.56" y="194.98" width="7.21" height="7.17" fill="#00d9ff"/>
<rect x="206.4" y="202.95" width="7.21" height="7.17" fill="#009fff"/>
<rect x="214.41" y="202.95" width="7.21" height="7.17" fill="#009fff"/>
<rect x="222.42" y="202.95" width="7.21" height="7.17" fill="#ff7300"/>
<rect x="230.43" y="202.95" width="7.21" height="7.17" fill="#9fff60"/>
<rect x="238.44" y="202.95" width="7.21" height="7.17" fill="#ffb900"/>
<rect x="246.45" y="202.95" width="7.21" height="7.17" fill="#ffe900"/>
<rect x="254.46" y="202.95" width="7.21" height="7.17" fill="#9fff60"/>
<rect x="262.47" y="202.95" width="7.21" height="7.17" fill="#dfff20"/>
<rect x="270.48" y="202.95" width="7.21" height="7.17" fill="#46ffb9"/>
<rect x="278.49" y="202.95" width="7.21" height="7.17" fill="#ffb900"/>
<rect x="286.5" y="202.95" width="7.21" height="7.17" fill="#ffe900"/>
<rect x="294.51" y="202.95" width="7.21" height="7.17" fill="#dfff20"/>
<rect x="302.52" y="202.95" width="7.21" height="7.17" fill="#0000f9"/>
<rect x="310.53" y="202.95" width="7.21" height="7.17" fill="#0079ff"/>
<rect x="318.54" y="202.95" width="7.21" height="7.17" fill="#009fff"/>
<rect x="326.55" y="202.95" width="7.21" height="7.17" fill="#ffe900"/>
<rect x="334.56" y="202.95" width="7.21" height="7.17" fill="#46ffb9"/>
<rect x="206.4" y="210.92" width="7.21" height="7.17" fill="#ff7300"/>
<rect x="214.41" y="210.92" width="7.21" height="7.17" fill="#ffb900"/>
<rect x="222.42" y="210.92" width="7.21" height="7.17" fill="#00d9ff"/>
<rect x="230.43" y="210.92" width="7.21" height="7.17" fill="#9fff60"/>
<rect x="238.44" y="210.92" width="7.21" height="7.17" fill="#ffe900"/>
<rect x="246.45" y="210.92" width="7.21" height="7.17" fill="#0039ff"/>
<rect x="254.46" y="210.92" width="7.21" height="7.17" fill="#0039ff"/>
<rect x="262.47" y="210.92" width="7.21" height="7.17" fill="#dfff20"/>
<rect x="270.48" y="210.92" width="7.21" height="7.17" fill="#ff7300"/>
<rect x="278.49" y="210.92" width="7.21" height="7.17" fill="#ff7300"/>
<rect x="286.5" y="210.92" width="7.21" height="7.17" fill="#dfff20"/>
<rect x="294.51" y="210.92" width="7.21" height="7.17" fill="#dfff20"/>
<rect x="302.52" y="210.92" width="7.21" height="7.17" fill="#00d9ff"/>
<rect x="310.53" y="210.92" width="7.21" height="7.17" fill="#46ffb9"/>
<rect x="318.54" y="210.92" width="7.21" height="7.17" fill="#46ffb9"/>
<rect x="326.55" y="210.92" width="7.21" height="7.17" fill="#0039ff"/>
<rect x="334.56" y="210.92" width="7.21" height="7.17" fill="#00d9ff"/>
<rect x="206.4" y="218.89" width="7.21" height="7.17" fill="#ffe900"/>
<rect x="214.41" y="218.89" width="7.21" height="7.17" fill="#ffb900"/>
<rect x="222.42" y="218.89" width="7.21" height="7.17" fill="#ffe900"/>
<rect x="230.43" y="218.89" width="7.21" height="7.17" fill="#ffb900"/>
<rect x="238.44" y="218.89" width="7.21" height="7.17" fill="#009fff"/>
<rect x="246.45" y="218.89" width="7.21" height="7.17" fill="#ffe900"/>
<rect x="254.46" y="218.89" width="7.21" height="7.17" fill="#9fff60"/>
<rect x="262.47" y="218.89" width="7.21" height="7.17" fill="#dfff20"/>
<rect x="270.48" y="218.89" width="7.21" height="7.17" fill="#ffe900"/>
<rect x="278.49" y="218.89" width="7.21" height="7.17" fill="#ffb900"/>
<rect x="286.5" y="218.89" width="7.21" height="7.17" fill="#dfff20"/>
<rect x="294.51" y="218.89" width="7.21" height="7.17" fill="#ffe900"/>
<rect x="302.52" y="218.89" width="7.21" height="7.17" fill="#dfff20"/>
<rect x="310.53" y="218.89" width="7.21" height="7.17" fill="#9fff60"/>
<rect x="318.54" y="218.89" width="7.21" height="7.17" fill="#ff2000"/>
<rect x="326.55" y="218.89" width="7.21" height="7.17" fill="#00d9ff"/>
<rect x="334.56" y="218.89" width="7.21" height="7.17" fill="#00d9ff"/>
<rect x="206.4" y="226.86" width="7.21" height="7.17" fill="#ff7300"/>
<rect x="214.41" y="226.86" width="7.21" height="7.17" fill="#ffb900"/>
<rect x="222.42" y="226.86" width="7.21" height="7.17" fill="#00d9ff"/>
<rect x="230.43" y="226.86" width="7.21" height="7.17" fill="#13ffec"/>
<rect x="238.44" y="226.86" width="7.21" height="7.17" fill="#00d9ff"/>
<rect x="246.45" y="226.86" width="7.21" height="7.17" fill="#009fff"/>
<rect x="254.46" y="226.86" width="7.21" height="7.17" fill="#9fff60"/>
<rect x="262.47" y="226.86" width="7.21" height="7.17" fill="#9fff60"/>
<rect x="270.48" y="226.86" width="7.21" height="7.17" fill="#ffb900"/>
<rect x="278.49" y="226.86" width="7.21" height="7.17" fill="#9fff60"/>
<rect x="286.5" y="226.86" width="7.21" height="7.17" fill="#dfff20"/>
<rect x="294.51" y="226.86" width="7.21" height="7.17" fill="#ffb900"/>
<rect x="302.52" y="226.86" width="7.21" height="7.17" fill="#ff7300"/>
<rect x="310.53" y="226.86" width="7.21" height="7.17" fill="#009fff"/>
<rect x="318.54" y="226.86" width="7.21" height="7.17" fill="#0079ff"/>
<rect x="326.55" y="226.86" width="7.21" height="7.17" fill="#0039ff"/>
<rect x="334.56" y="226.86" width="7.21" height="7.17" fill="#46ffb9"/>
<rect x="206.4" y="234.83" width="7.21" height="7.17" fill="#0079ff"/>
<rect x="214.41" y="234.83" width="7.21" height="7.17" fill="#dfff20"/>
<rect x="222.42" y="234.83" width="7.21" height="7.17" fill="#ffb900"/>
<rect x="230.43" y="234.83" width="7.21" height="7.17" fill="#ffb900"/>
<rect x="238.44" y="234.83" width="7.21" height="7.17" fill="#ffb900"/>
<rect x="246.45" y="234.83" width="7.21" height="7.17" fill="#ff7300"/>
<rect x="254.46" y="234.83" width="7.21" height="7.17" fill="#46ffb9"/>
<rect x="262.47" y="234.83" width="7.21" height="7.17" fill="#009fff"/>
<rect x="270.48" y="234.83" width="7.21" height="7.17" fill="#9fff60"/>
<rect x="278.49" y="234.83" width="7.21" height="7.17" fill="#ff2000"/>
<rect x="286.5" y="234.83" width="7.21" height="7.17" fill="#46ffb9"/>
<rect x="294.51" y="234.83" width="7.21" height="7.17" fill="#dfff20"/>
<rect x="302.52" y="234.83" width="7.21" height="7.17" fill="#ffb900"/>
<rect x="310.53" y="234.83" width="7.21" height="7.17" fill="#13ffec"/>
<rect x="318.54" y="234.83" width="7.21" height="7.17" fill="#009fff"/>
<rect x="326.55" y="234.83" width="7.21" height="7.17" fill="#9fff60"/>
<rect x="334.56" y="234.83" width="7.21" height="7.17" fill="#dfff20"/>
<rect x="206.4" y="242.8" width="7.21" height="7.17" fill="#0079ff"/>
<rect x="214.41" y="242.8" width="7.21" height="7.17" fill="#00d9ff"/>
<rect x="222.42" y="242.8" width="7.21" height="7.17" fill="#dfff20"/>
<rect x="230.43" y="242.8" width="7.21" height="7.17" fill="#ffb900"/>
<rect x="238.44" y="242.8" width="7.21" height="7.17" fill="#46ffb9"/>
<rect x="246.45" y="242.8" width="7.21" height="7.17" fill="#ffe900"/>
<rect x="254.46" y="242.8" width="7.21" height="7.17" fill="#dfff20"/>
<rect x="262.47" y="242.8" width="7.21" height="7.17" fill="#00d9ff"/>
<rect x="270.48" y="242.8" width="7.21" height="7.17" fill="#13ffec"/>
<rect x="278.49" y="242.8" width="7.21" height="7.17" fill="#ff2000"/>
<rect x="286.5" y="242.8" width="7.21" height="7.17" fill="#0039ff"/>
<rect x="294.51" y="242.8" width="7.21" height="7.17" fill="#ffe900"/>
<rect x="302.52" y="242.8" width="7.21" height="7.17" fill="#ffb900"/>
<rect x="310.53" y="242.8" width="7.21" height="7.17" fill="#009fff"/>
<rect x="318.54" y="242.8" width="7.21" height="7.17" fill="#009fff"/>
<rect x="326.55" y="242.8" width="7.21" height="7.17" fill="#ffb900"/>
<rect x="334.56" y="242.8" width="7.21" height="7.17" fill="#9fff60"/>
<rect x="206.4" y="250.77" width="7.21" height="7.17" fill="#0079ff"/>
<rect x="214.41" y="250.77" width="7.21" height="7.17" fill="#9fff60"/>
<rect x="222.42" y="250.77" width="7.21" height="7.17" fill="#009fff"/>
<rect x="230.43" y="250.77" width="7.21" height="7.17" fill="#ffe900"/>
<rect x="238.44" y="250.77" width="7.21" height="7.17" fill="#dfff20"/>
<rect x="246.45" y="250.77" width="7.21" height="7.17" fill="#ff7300"/>
<rect x="254.46" y="250.77" width="7.21" height="7.17" fill="#dfff20"/>
<rect x="262.47" y="250.77" width="7.21" height="7.17" fill="#0000f9"/>
<rect x="270.48" y="250.77" width="7.21" height="7.17" fill="#13ffec"/>
<rect x="278.49" y="250.77" width="7.21" height="7.17" fill="#0039ff"/>
<rect x="286.5" y="250.77" width="7.21" height="7.17" fill="#0000f9"/>
<rect x="294.51" y="250.77" width="7.21" height="7.17" fill="#13ffec"/>
<rect x="302.52" y="250.77" width="7.21" height="7.17" fill="#ffb900"/>
<rect x="310.53" y="250.77" width="7.21" height="7.17" fill="#00d9ff"/>
<rect x="318.54" y="250.77" width="7.21" height="7.17" fill="#00d9ff"/>
<rect x="326.55" y="250.77" width="7.21" height="7.17" fill="#0079ff"/>
<rect x="334.56" y="250.77" width="7.21" height="7.17" fill="#dfff20"/>
<rect x="206.4" y="258.74" width="7.21" height="7.17" fill="#46ffb9"/>
<rect x="214.41" y="258.74" width="7.21" height="7.17" fill="#9fff60"/>
<rect x="222.42" y="258.74" width="7.21" height="7.17" fill="#ffb900"/>
<rect x="230.43" y="258.74" width="7.21" height="7.17" fill="#dfff20"/>
<rect x="238.44" y="258.74" width="7.21" height="7.17" fill="#ff7300"/>
<rect x="246.45" y="258.74" width="7.21" height="7.17" fill="#46ffb9"/>
<rect x="254.46" y="258.74" width="7.21" height="7.17" fill="#ffb900"/>
<rect x="262.47" y="258.74" width="7.21" height="7.17" fill="#00d9ff"/>
<rect x="270.48" y="258.74" width="7.21" height="7.17" fill="#0079ff"/>
<rect x="278.49" y="258.74" width="7.21" height="7.17" fill="#0079ff"/>
<rect x="286.5" y="258.74" width="7.21" height="7.17" fill="#00d9ff"/>
<rect x="294.51" y="258.74" width="7.21" height="7.17" fill="#00d9ff"/>
<rect x="302.52" y="258.74" width="7.21" height="7.17" fill="#46ffb9"/>
<rect x="310.53" y="258.74" width="7.21" height="7.17" fill="#0039ff"/>
<rect x="318.54" y="258.74" width="7.21" height="7.17" fill="#dfff20"/>
<rect x="326.55" y="258.74" width="7.21" height="7.17" fill="#009fff"/>
<rect x="334.56" y="258.74" width="7.21" height="7.17" fill="#00009f"/>
<rect x="206.4" y="266.71" width="7.21" height="7.17" fill="#13ffec"/>
<rect x="214.41" y="266.71" width="7.21" height="7.17" fill="#009fff"/>
<rect x="222.42" y="266.71" width="7.21" height="7.17" fill="#00d9ff"/>
<rect x="230.43" y="266.71" width="7.21" height="7.17" fill="#00d9ff"/>
<rect x="238.44" y="266.71" width="7.21" height="7.17" fill="#00d9ff"/>
<rect x="246.45" y="266.71" width="7.21" height="7.17" fill="#dfff20"/>
<rect x="254.46" y="266.71" width="7.21" height="7.17" fill="#13ffec"/>
<rect x="262.47" y="266.71" width="7.21" height="7.17" fill="#ffb900"/>
<rect x="270.48" y="266.71" width="7.21" height="7.17" fill="#ffb900"/>
<rect x="278.49" y="266.71" width="7.21" height="7.17" fill="#ff7300"/>
<rect x="286.5" y="266.71" width="7.21" height="7.17" fill="#46ffb9"/>
<rect x="294.51" y="266.71" width="7.21" height="7.17" fill="#ffb900"/>
<rect x="302.52" y="266.71" width="7.21" height="7.17" fill="#46ffb9"/>
<rect x="310.53" y="266.71" width="7.21" height="7.17" fill="#0079ff"/>
<rect x="318.54" y="266.71" width="7.21" height="7.17" fill="#46ffb9"/>
<rect x="326.55" y="266.71" width="7.21" height="7.17" fill="#0000f9"/>
<rect x="334.56" y="266.71" width="7.21" height="7.17" fill="#46ffb9"/>
<rect x="206.4" y="274.68" width="7.21" height="7.17" fill="#00d9ff"/>
<rect x="214.41" y="274.68" width="7.21" height="7.17" fill="#009fff"/>
<rect x="222.42" y="274.68" width="7.21" height="7.17" fill="#ffb900"/>
<rect x="230.43" y="274.68" width="7.21" height="7.17" fill="#00d9ff"/>
<rect x="238.44" y="274.68" width="7.21" height="7.17" fill="#ffe900"/>
<rect x="246.45" y="274.68" width="7.21" height="7.17" fill="#ffe900"/>
<rect x="254.46" y="274.68" width="7.21" height="7.17" fill="#46ffb9"/>
<rect x="262.47" y="274.68" width="7.21" height="7.17" fill="#ff7300"/>
<rect x="270.48" y="274.68" width="7.21" height="7.17" fill="#dfff20"/>
<rect x="278.49" y="274.68" width="7.21" height="7.17" fill="#dfff20"/>
<rect x="286.5" y="274.68" width="7.21" height="7.17" fill="#46ffb9"/>
<rect x="294.51" y="274.68" width="7.21" height="7.17" fill="#ffe900"/>
<rect x="302.52" y="274.68" width="7.21" height="7.17" fill="#9fff60"/>
<rect x="310.53" y="274.68" width="7.21" height="7.17" fill="#0079ff"/>
<rect x="318.54" y="274.68" width="7.21" height="7.17" fill="#00d9ff"/>
<rect x="326.55" y="274.68" width="7.21" height="7.17" fill="#46ffb9"/>
<rect x="334.56" y="274.68" width="7.21" height="7.17" fill="#46ffb9"/>
<rect x="206.4" y="282.65" width="7.21" height="7.17" fill="#9fff60"/>
<rect x="214.41" y="282.65" width="7.21" height="7.17" fill="#9fff60"/>
<rect x="222.42" y="282.65" width="7.21" height="7.17" fill="#dfff20"/>
<rect x="230.43" y="282.65" width="7.21" height="7.17" fill="#00009f"/>
<rect x="238.44" y="282.65" width="7.21" height="7.17" fill="#ff7300"/>
<rect x="246.45" y="282.65" width="7.21" height="7.17" fill="#ffe900"/>
<rect x="254.46" y="282.65" width="7.21" height="7.17" fill="#ffb900"/>
<rect x="262.47" y="282.65" width="7.21" height="7.17" fill="#dfff20"/>
<rect x="270.48" y="282.65" width="7.21" height="7.17" fill="#13ffec"/>
<rect x="278.49" y="282.65" width="7.21" height="7.17" fill="#ffe900"/>
<rect x="286.5" y="282.65" width="7.21" height="7.17" fill="#ffe900"/>
<rect x="294.51" y="282.65" width="7.21" height="7.17" fill="#dfff20"/>
<rect x="302.52" y="282.65" width="7.21" height="7.17" fill="#46ffb9"/>
<rect x="310.53" y="282.65" width="7.21" height="7.17" fill="#00d9ff"/>
<rect x="318.54" y="282.65" width="7.21" height="7.17" fill="#0039ff"/>
<rect x="326.55" y="282.65" width="7.21" height="7.17" fill="#ffb900"/>
<rect x="334.56" y="282.65" width="7.21" height="7.17" fill="#ffe900"/>
<rect x="206.4" y="290.62" width="7.21" height="7.17" fill="#00d9ff"/>
<rect x="214.41" y="290.62" width="7.21" height="7.17" fill="#dfff20"/>
<rect x="222.42" y="290.62" width="7.21" height="7.17" fill="#dfff20"/>
<rect x="230.43" y="290.62" width="7.21" height="7.17" fill="#ffb900"/>
<rect x="238.44" y="290.62" width="7.21" height="7.17" fill="#0079ff"/>
<rect x="246.45" y="290.62" width="7.21" height="7.17" fill="#009fff"/>
<rect x="254.46" y="290.62" width="7.21" height="7.17" fill="#00d9ff"/>
<rect x="262.47" y="290.62" width="7.21" height="7.17" fill="#9fff60"/>
<rect x="270.48" y="290.62" width="7.21" height="7.17" fill="#ffe900"/>
<rect x="278.49" y="290.62" width="7.21" height="7.17" fill="#00d9ff"/>
<rect x="286.5" y="290.62" width="7.21" height="7.17" fill="#0079ff"/>
<rect x="294.51" y="290.62" width="7.21" height="7.17" fill="#46ffb9"/>
<rect x="302.52" y="290.62" width="7.21" height="7.17" fill="#9fff60"/>
<rect x="310.53" y="290.62" width="7.21" height="7.17" fill="#9fff60"/>
<rect x="318.54" y="290.62" width="7.21" height="7.17" fill="#009fff"/>
<rect x="326.55" y="290.62" width="7.21" height="7.17" fill="#00d9ff"/>
<rect x="334.56" y="290.62" width="7.21" height="7.17" fill="#46ffb9"/>
<rect x="300.3" y="161" width="42.7" height="18.7" fill="#fff"/>
<text x="341.6" y="177.6" font-size="15.5" text-anchor="end" fill="#000" color="#000" >140 K</text>
<rect x="297.1" y="284.9" width="35" height="5.9" fill="#fff"/>
<path d="M299.1 288.2H330.8" stroke="#1a1a1a" stroke-width="2.2"/>
<circle cx="274.6" cy="214.9" r="6.8" fill="none" stroke="#0b9247" stroke-width="1.8"/>
<rect x="372.5" y="164.85" width="7.21" height="7.17" fill="#00d9ff"/>
<rect x="380.51" y="164.85" width="7.21" height="7.17" fill="#9fff60"/>
<rect x="388.52" y="164.85" width="7.21" height="7.17" fill="#ffb900"/>
<rect x="396.53" y="164.85" width="7.21" height="7.17" fill="#dfff20"/>
<rect x="404.54" y="164.85" width="7.21" height="7.17" fill="#ff7300"/>
<rect x="412.55" y="164.85" width="7.21" height="7.17" fill="#dfff20"/>
<rect x="420.56" y="164.85" width="7.21" height="7.17" fill="#ffb900"/>
<rect x="428.57" y="164.85" width="7.21" height="7.17" fill="#ff7300"/>
<rect x="436.58" y="164.85" width="7.21" height="7.17" fill="#46ffb9"/>
<rect x="444.59" y="164.85" width="7.21" height="7.17" fill="#ffe900"/>
<rect x="452.6" y="164.85" width="7.21" height="7.17" fill="#46ffb9"/>
<rect x="460.61" y="164.85" width="7.21" height="7.17" fill="#9fff60"/>
<rect x="468.62" y="164.85" width="7.21" height="7.17" fill="#dfff20"/>
<rect x="476.63" y="164.85" width="7.21" height="7.17" fill="#dfff20"/>
<rect x="484.64" y="164.85" width="7.21" height="7.17" fill="#dfff20"/>
<rect x="492.65" y="164.85" width="7.21" height="7.17" fill="#dfff20"/>
<rect x="500.66" y="164.85" width="7.21" height="7.17" fill="#dfff20"/>
<rect x="372.5" y="172.82" width="7.21" height="7.17" fill="#46ffb9"/>
<rect x="380.51" y="172.82" width="7.21" height="7.17" fill="#ffe900"/>
<rect x="388.52" y="172.82" width="7.21" height="7.17" fill="#9fff60"/>
<rect x="396.53" y="172.82" width="7.21" height="7.17" fill="#ffb900"/>
<rect x="404.54" y="172.82" width="7.21" height="7.17" fill="#ff2000"/>
<rect x="412.55" y="172.82" width="7.21" height="7.17" fill="#ffb900"/>
<rect x="420.56" y="172.82" width="7.21" height="7.17" fill="#ff2000"/>
<rect x="428.57" y="172.82" width="7.21" height="7.17" fill="#ff7300"/>
<rect x="436.58" y="172.82" width="7.21" height="7.17" fill="#ff2000"/>
<rect x="444.59" y="172.82" width="7.21" height="7.17" fill="#800000"/>
<rect x="452.6" y="172.82" width="7.21" height="7.17" fill="#ffb900"/>
<rect x="460.61" y="172.82" width="7.21" height="7.17" fill="#ff7300"/>
<rect x="468.62" y="172.82" width="7.21" height="7.17" fill="#dfff20"/>
<rect x="476.63" y="172.82" width="7.21" height="7.17" fill="#dfff20"/>
<rect x="484.64" y="172.82" width="7.21" height="7.17" fill="#dfff20"/>
<rect x="492.65" y="172.82" width="7.21" height="7.17" fill="#dfff20"/>
<rect x="500.66" y="172.82" width="7.21" height="7.17" fill="#dfff20"/>
<rect x="372.5" y="180.79" width="7.21" height="7.17" fill="#c60000"/>
<rect x="380.51" y="180.79" width="7.21" height="7.17" fill="#ffb900"/>
<rect x="388.52" y="180.79" width="7.21" height="7.17" fill="#dfff20"/>
<rect x="396.53" y="180.79" width="7.21" height="7.17" fill="#dfff20"/>
<rect x="404.54" y="180.79" width="7.21" height="7.17" fill="#ffb900"/>
<rect x="412.55" y="180.79" width="7.21" height="7.17" fill="#9fff60"/>
<rect x="420.56" y="180.79" width="7.21" height="7.17" fill="#00d9ff"/>
<rect x="428.57" y="180.79" width="7.21" height="7.17" fill="#ffb900"/>
<rect x="436.58" y="180.79" width="7.21" height="7.17" fill="#ffe900"/>
<rect x="444.59" y="180.79" width="7.21" height="7.17" fill="#13ffec"/>
<rect x="452.6" y="180.79" width="7.21" height="7.17" fill="#dfff20"/>
<rect x="460.61" y="180.79" width="7.21" height="7.17" fill="#13ffec"/>
<rect x="468.62" y="180.79" width="7.21" height="7.17" fill="#009fff"/>
<rect x="476.63" y="180.79" width="7.21" height="7.17" fill="#00d9ff"/>
<rect x="484.64" y="180.79" width="7.21" height="7.17" fill="#ffb900"/>
<rect x="492.65" y="180.79" width="7.21" height="7.17" fill="#9fff60"/>
<rect x="500.66" y="180.79" width="7.21" height="7.17" fill="#ff7300"/>
<rect x="372.5" y="188.76" width="7.21" height="7.17" fill="#009fff"/>
<rect x="380.51" y="188.76" width="7.21" height="7.17" fill="#ff7300"/>
<rect x="388.52" y="188.76" width="7.21" height="7.17" fill="#800000"/>
<rect x="396.53" y="188.76" width="7.21" height="7.17" fill="#dfff20"/>
<rect x="404.54" y="188.76" width="7.21" height="7.17" fill="#ffb900"/>
<rect x="412.55" y="188.76" width="7.21" height="7.17" fill="#ffb900"/>
<rect x="420.56" y="188.76" width="7.21" height="7.17" fill="#ffe900"/>
<rect x="428.57" y="188.76" width="7.21" height="7.17" fill="#46ffb9"/>
<rect x="436.58" y="188.76" width="7.21" height="7.17" fill="#dfff20"/>
<rect x="444.59" y="188.76" width="7.21" height="7.17" fill="#ffb900"/>
<rect x="452.6" y="188.76" width="7.21" height="7.17" fill="#ffb900"/>
<rect x="460.61" y="188.76" width="7.21" height="7.17" fill="#00d9ff"/>
<rect x="468.62" y="188.76" width="7.21" height="7.17" fill="#00009f"/>
<rect x="476.63" y="188.76" width="7.21" height="7.17" fill="#ffe900"/>
<rect x="484.64" y="188.76" width="7.21" height="7.17" fill="#ff7300"/>
<rect x="492.65" y="188.76" width="7.21" height="7.17" fill="#ffe900"/>
<rect x="500.66" y="188.76" width="7.21" height="7.17" fill="#dfff20"/>
<rect x="372.5" y="196.73" width="7.21" height="7.17" fill="#ffb900"/>
<rect x="380.51" y="196.73" width="7.21" height="7.17" fill="#ff7300"/>
<rect x="388.52" y="196.73" width="7.21" height="7.17" fill="#ff7300"/>
<rect x="396.53" y="196.73" width="7.21" height="7.17" fill="#ff2000"/>
<rect x="404.54" y="196.73" width="7.21" height="7.17" fill="#ffe900"/>
<rect x="412.55" y="196.73" width="7.21" height="7.17" fill="#46ffb9"/>
<rect x="420.56" y="196.73" width="7.21" height="7.17" fill="#c60000"/>
<rect x="428.57" y="196.73" width="7.21" height="7.17" fill="#dfff20"/>
<rect x="436.58" y="196.73" width="7.21" height="7.17" fill="#ffe900"/>
<rect x="444.59" y="196.73" width="7.21" height="7.17" fill="#ffb900"/>
<rect x="452.6" y="196.73" width="7.21" height="7.17" fill="#ff7300"/>
<rect x="460.61" y="196.73" width="7.21" height="7.17" fill="#46ffb9"/>
<rect x="468.62" y="196.73" width="7.21" height="7.17" fill="#0000f9"/>
<rect x="476.63" y="196.73" width="7.21" height="7.17" fill="#009fff"/>
<rect x="484.64" y="196.73" width="7.21" height="7.17" fill="#13ffec"/>
<rect x="492.65" y="196.73" width="7.21" height="7.17" fill="#009fff"/>
<rect x="500.66" y="196.73" width="7.21" height="7.17" fill="#dfff20"/>
<rect x="372.5" y="204.7" width="7.21" height="7.17" fill="#9fff60"/>
<rect x="380.51" y="204.7" width="7.21" height="7.17" fill="#ffe900"/>
<rect x="388.52" y="204.7" width="7.21" height="7.17" fill="#ff7300"/>
<rect x="396.53" y="204.7" width="7.21" height="7.17" fill="#ff7300"/>
<rect x="404.54" y="204.7" width="7.21" height="7.17" fill="#ffe900"/>
<rect x="412.55" y="204.7" width="7.21" height="7.17" fill="#c60000"/>
<rect x="420.56" y="204.7" width="7.21" height="7.17" fill="#ffb900"/>
<rect x="428.57" y="204.7" width="7.21" height="7.17" fill="#ff7300"/>
<rect x="436.58" y="204.7" width="7.21" height="7.17" fill="#46ffb9"/>
<rect x="444.59" y="204.7" width="7.21" height="7.17" fill="#c60000"/>
<rect x="452.6" y="204.7" width="7.21" height="7.17" fill="#9fff60"/>
<rect x="460.61" y="204.7" width="7.21" height="7.17" fill="#ff7300"/>
<rect x="468.62" y="204.7" width="7.21" height="7.17" fill="#0079ff"/>
<rect x="476.63" y="204.7" width="7.21" height="7.17" fill="#009fff"/>
<rect x="484.64" y="204.7" width="7.21" height="7.17" fill="#00d9ff"/>
<rect x="492.65" y="204.7" width="7.21" height="7.17" fill="#ffe900"/>
<rect x="500.66" y="204.7" width="7.21" height="7.17" fill="#009fff"/>
<rect x="372.5" y="212.67" width="7.21" height="7.17" fill="#ffb900"/>
<rect x="380.51" y="212.67" width="7.21" height="7.17" fill="#9fff60"/>
<rect x="388.52" y="212.67" width="7.21" height="7.17" fill="#9fff60"/>
<rect x="396.53" y="212.67" width="7.21" height="7.17" fill="#9fff60"/>
<rect x="404.54" y="212.67" width="7.21" height="7.17" fill="#9fff60"/>
<rect x="412.55" y="212.67" width="7.21" height="7.17" fill="#ff7300"/>
<rect x="420.56" y="212.67" width="7.21" height="7.17" fill="#ffb900"/>
<rect x="428.57" y="212.67" width="7.21" height="7.17" fill="#ffb900"/>
<rect x="436.58" y="212.67" width="7.21" height="7.17" fill="#9fff60"/>
<rect x="444.59" y="212.67" width="7.21" height="7.17" fill="#ffb900"/>
<rect x="452.6" y="212.67" width="7.21" height="7.17" fill="#ffe900"/>
<rect x="460.61" y="212.67" width="7.21" height="7.17" fill="#ffe900"/>
<rect x="468.62" y="212.67" width="7.21" height="7.17" fill="#9fff60"/>
<rect x="476.63" y="212.67" width="7.21" height="7.17" fill="#00d9ff"/>
<rect x="484.64" y="212.67" width="7.21" height="7.17" fill="#ffb900"/>
<rect x="492.65" y="212.67" width="7.21" height="7.17" fill="#ffe900"/>
<rect x="500.66" y="212.67" width="7.21" height="7.17" fill="#00d9ff"/>
<rect x="372.5" y="220.64" width="7.21" height="7.17" fill="#ffb900"/>
<rect x="380.51" y="220.64" width="7.21" height="7.17" fill="#ffe900"/>
<rect x="388.52" y="220.64" width="7.21" height="7.17" fill="#9fff60"/>
<rect x="396.53" y="220.64" width="7.21" height="7.17" fill="#ffe900"/>
<rect x="404.54" y="220.64" width="7.21" height="7.17" fill="#00d9ff"/>
<rect x="412.55" y="220.64" width="7.21" height="7.17" fill="#ffe900"/>
<rect x="420.56" y="220.64" width="7.21" height="7.17" fill="#ffb900"/>
<rect x="428.57" y="220.64" width="7.21" height="7.17" fill="#ff7300"/>
<rect x="436.58" y="220.64" width="7.21" height="7.17" fill="#ff7300"/>
<rect x="444.59" y="220.64" width="7.21" height="7.17" fill="#ffe900"/>
<rect x="452.6" y="220.64" width="7.21" height="7.17" fill="#009fff"/>
<rect x="460.61" y="220.64" width="7.21" height="7.17" fill="#ffb900"/>
<rect x="468.62" y="220.64" width="7.21" height="7.17" fill="#9fff60"/>
<rect x="476.63" y="220.64" width="7.21" height="7.17" fill="#ff7300"/>
<rect x="484.64" y="220.64" width="7.21" height="7.17" fill="#ff7300"/>
<rect x="492.65" y="220.64" width="7.21" height="7.17" fill="#00d9ff"/>
<rect x="500.66" y="220.64" width="7.21" height="7.17" fill="#00d9ff"/>
<rect x="372.5" y="228.61" width="7.21" height="7.17" fill="#ff7300"/>
<rect x="380.51" y="228.61" width="7.21" height="7.17" fill="#9fff60"/>
<rect x="388.52" y="228.61" width="7.21" height="7.17" fill="#dfff20"/>
<rect x="396.53" y="228.61" width="7.21" height="7.17" fill="#ffb900"/>
<rect x="404.54" y="228.61" width="7.21" height="7.17" fill="#0079ff"/>
<rect x="412.55" y="228.61" width="7.21" height="7.17" fill="#46ffb9"/>
<rect x="420.56" y="228.61" width="7.21" height="7.17" fill="#46ffb9"/>
<rect x="428.57" y="228.61" width="7.21" height="7.17" fill="#dfff20"/>
<rect x="436.58" y="228.61" width="7.21" height="7.17" fill="#ffe900"/>
<rect x="444.59" y="228.61" width="7.21" height="7.17" fill="#9fff60"/>
<rect x="452.6" y="228.61" width="7.21" height="7.17" fill="#46ffb9"/>
<rect x="460.61" y="228.61" width="7.21" height="7.17" fill="#ff7300"/>
<rect x="468.62" y="228.61" width="7.21" height="7.17" fill="#ff7300"/>
<rect x="476.63" y="228.61" width="7.21" height="7.17" fill="#dfff20"/>
<rect x="484.64" y="228.61" width="7.21" height="7.17" fill="#9fff60"/>
<rect x="492.65" y="228.61" width="7.21" height="7.17" fill="#9fff60"/>
<rect x="500.66" y="228.61" width="7.21" height="7.17" fill="#0079ff"/>
<rect x="372.5" y="236.58" width="7.21" height="7.17" fill="#ff2000"/>
<rect x="380.51" y="236.58" width="7.21" height="7.17" fill="#800000"/>
<rect x="388.52" y="236.58" width="7.21" height="7.17" fill="#dfff20"/>
<rect x="396.53" y="236.58" width="7.21" height="7.17" fill="#ffe900"/>
<rect x="404.54" y="236.58" width="7.21" height="7.17" fill="#ffe900"/>
<rect x="412.55" y="236.58" width="7.21" height="7.17" fill="#ffb900"/>
<rect x="420.56" y="236.58" width="7.21" height="7.17" fill="#13ffec"/>
<rect x="428.57" y="236.58" width="7.21" height="7.17" fill="#ffe900"/>
<rect x="436.58" y="236.58" width="7.21" height="7.17" fill="#9fff60"/>
<rect x="444.59" y="236.58" width="7.21" height="7.17" fill="#ffb900"/>
<rect x="452.6" y="236.58" width="7.21" height="7.17" fill="#9fff60"/>
<rect x="460.61" y="236.58" width="7.21" height="7.17" fill="#ffe900"/>
<rect x="468.62" y="236.58" width="7.21" height="7.17" fill="#ffb900"/>
<rect x="476.63" y="236.58" width="7.21" height="7.17" fill="#13ffec"/>
<rect x="484.64" y="236.58" width="7.21" height="7.17" fill="#13ffec"/>
<rect x="492.65" y="236.58" width="7.21" height="7.17" fill="#46ffb9"/>
<rect x="500.66" y="236.58" width="7.21" height="7.17" fill="#00d9ff"/>
<rect x="372.5" y="244.55" width="7.21" height="7.17" fill="#ff7300"/>
<rect x="380.51" y="244.55" width="7.21" height="7.17" fill="#46ffb9"/>
<rect x="388.52" y="244.55" width="7.21" height="7.17" fill="#ffe900"/>
<rect x="396.53" y="244.55" width="7.21" height="7.17" fill="#ff2000"/>
<rect x="404.54" y="244.55" width="7.21" height="7.17" fill="#dfff20"/>
<rect x="412.55" y="244.55" width="7.21" height="7.17" fill="#9fff60"/>
<rect x="420.56" y="244.55" width="7.21" height="7.17" fill="#00d9ff"/>
<rect x="428.57" y="244.55" width="7.21" height="7.17" fill="#ffb900"/>
<rect x="436.58" y="244.55" width="7.21" height="7.17" fill="#9fff60"/>
<rect x="444.59" y="244.55" width="7.21" height="7.17" fill="#ff7300"/>
<rect x="452.6" y="244.55" width="7.21" height="7.17" fill="#00d9ff"/>
<rect x="460.61" y="244.55" width="7.21" height="7.17" fill="#dfff20"/>
<rect x="468.62" y="244.55" width="7.21" height="7.17" fill="#ff7300"/>
<rect x="476.63" y="244.55" width="7.21" height="7.17" fill="#46ffb9"/>
<rect x="484.64" y="244.55" width="7.21" height="7.17" fill="#009fff"/>
<rect x="492.65" y="244.55" width="7.21" height="7.17" fill="#9fff60"/>
<rect x="500.66" y="244.55" width="7.21" height="7.17" fill="#ffb900"/>
<rect x="372.5" y="252.52" width="7.21" height="7.17" fill="#ff7300"/>
<rect x="380.51" y="252.52" width="7.21" height="7.17" fill="#13ffec"/>
<rect x="388.52" y="252.52" width="7.21" height="7.17" fill="#46ffb9"/>
<rect x="396.53" y="252.52" width="7.21" height="7.17" fill="#ffb900"/>
<rect x="404.54" y="252.52" width="7.21" height="7.17" fill="#ffe900"/>
<rect x="412.55" y="252.52" width="7.21" height="7.17" fill="#c60000"/>
<rect x="420.56" y="252.52" width="7.21" height="7.17" fill="#46ffb9"/>
<rect x="428.57" y="252.52" width="7.21" height="7.17" fill="#9fff60"/>
<rect x="436.58" y="252.52" width="7.21" height="7.17" fill="#ffe900"/>
<rect x="444.59" y="252.52" width="7.21" height="7.17" fill="#9fff60"/>
<rect x="452.6" y="252.52" width="7.21" height="7.17" fill="#009fff"/>
<rect x="460.61" y="252.52" width="7.21" height="7.17" fill="#ffb900"/>
<rect x="468.62" y="252.52" width="7.21" height="7.17" fill="#c60000"/>
<rect x="476.63" y="252.52" width="7.21" height="7.17" fill="#00d9ff"/>
<rect x="484.64" y="252.52" width="7.21" height="7.17" fill="#9fff60"/>
<rect x="492.65" y="252.52" width="7.21" height="7.17" fill="#13ffec"/>
<rect x="500.66" y="252.52" width="7.21" height="7.17" fill="#dfff20"/>
<rect x="372.5" y="260.49" width="7.21" height="7.17" fill="#13ffec"/>
<rect x="380.51" y="260.49" width="7.21" height="7.17" fill="#46ffb9"/>
<rect x="388.52" y="260.49" width="7.21" height="7.17" fill="#ffe900"/>
<rect x="396.53" y="260.49" width="7.21" height="7.17" fill="#ff7300"/>
<rect x="404.54" y="260.49" width="7.21" height="7.17" fill="#ffb900"/>
<rect x="412.55" y="260.49" width="7.21" height="7.17" fill="#13ffec"/>
<rect x="420.56" y="260.49" width="7.21" height="7.17" fill="#0079ff"/>
<rect x="428.57" y="260.49" width="7.21" height="7.17" fill="#ffe900"/>
<rect x="436.58" y="260.49" width="7.21" height="7.17" fill="#ff7300"/>
<rect x="444.59" y="260.49" width="7.21" height="7.17" fill="#ffb900"/>
<rect x="452.6" y="260.49" width="7.21" height="7.17" fill="#ffb900"/>
<rect x="460.61" y="260.49" width="7.21" height="7.17" fill="#9fff60"/>
<rect x="468.62" y="260.49" width="7.21" height="7.17" fill="#46ffb9"/>
<rect x="476.63" y="260.49" width="7.21" height="7.17" fill="#009fff"/>
<rect x="484.64" y="260.49" width="7.21" height="7.17" fill="#ffb900"/>
<rect x="492.65" y="260.49" width="7.21" height="7.17" fill="#9fff60"/>
<rect x="500.66" y="260.49" width="7.21" height="7.17" fill="#13ffec"/>
<rect x="372.5" y="268.46" width="7.21" height="7.17" fill="#ff7300"/>
<rect x="380.51" y="268.46" width="7.21" height="7.17" fill="#ffe900"/>
<rect x="388.52" y="268.46" width="7.21" height="7.17" fill="#46ffb9"/>
<rect x="396.53" y="268.46" width="7.21" height="7.17" fill="#c60000"/>
<rect x="404.54" y="268.46" width="7.21" height="7.17" fill="#ffe900"/>
<rect x="412.55" y="268.46" width="7.21" height="7.17" fill="#46ffb9"/>
<rect x="420.56" y="268.46" width="7.21" height="7.17" fill="#46ffb9"/>
<rect x="428.57" y="268.46" width="7.21" height="7.17" fill="#dfff20"/>
<rect x="436.58" y="268.46" width="7.21" height="7.17" fill="#ffb900"/>
<rect x="444.59" y="268.46" width="7.21" height="7.17" fill="#dfff20"/>
<rect x="452.6" y="268.46" width="7.21" height="7.17" fill="#c60000"/>
<rect x="460.61" y="268.46" width="7.21" height="7.17" fill="#9fff60"/>
<rect x="468.62" y="268.46" width="7.21" height="7.17" fill="#dfff20"/>
<rect x="476.63" y="268.46" width="7.21" height="7.17" fill="#0079ff"/>
<rect x="484.64" y="268.46" width="7.21" height="7.17" fill="#ff7300"/>
<rect x="492.65" y="268.46" width="7.21" height="7.17" fill="#9fff60"/>
<rect x="500.66" y="268.46" width="7.21" height="7.17" fill="#00009f"/>
<rect x="372.5" y="276.43" width="7.21" height="7.17" fill="#ffb900"/>
<rect x="380.51" y="276.43" width="7.21" height="7.17" fill="#00d9ff"/>
<rect x="388.52" y="276.43" width="7.21" height="7.17" fill="#00d9ff"/>
<rect x="396.53" y="276.43" width="7.21" height="7.17" fill="#9fff60"/>
<rect x="404.54" y="276.43" width="7.21" height="7.17" fill="#13ffec"/>
<rect x="412.55" y="276.43" width="7.21" height="7.17" fill="#ff7300"/>
<rect x="420.56" y="276.43" width="7.21" height="7.17" fill="#46ffb9"/>
<rect x="428.57" y="276.43" width="7.21" height="7.17" fill="#ffb900"/>
<rect x="436.58" y="276.43" width="7.21" height="7.17" fill="#c60000"/>
<rect x="444.59" y="276.43" width="7.21" height="7.17" fill="#ff7300"/>
<rect x="452.6" y="276.43" width="7.21" height="7.17" fill="#46ffb9"/>
<rect x="460.61" y="276.43" width="7.21" height="7.17" fill="#ffe900"/>
<rect x="468.62" y="276.43" width="7.21" height="7.17" fill="#00d9ff"/>
<rect x="476.63" y="276.43" width="7.21" height="7.17" fill="#00d9ff"/>
<rect x="484.64" y="276.43" width="7.21" height="7.17" fill="#009fff"/>
<rect x="492.65" y="276.43" width="7.21" height="7.17" fill="#00d9ff"/>
<rect x="500.66" y="276.43" width="7.21" height="7.17" fill="#ffb900"/>
<rect x="372.5" y="284.4" width="7.21" height="7.17" fill="#dfff20"/>
<rect x="380.51" y="284.4" width="7.21" height="7.17" fill="#dfff20"/>
<rect x="388.52" y="284.4" width="7.21" height="7.17" fill="#0079ff"/>
<rect x="396.53" y="284.4" width="7.21" height="7.17" fill="#ffe900"/>
<rect x="404.54" y="284.4" width="7.21" height="7.17" fill="#ff7300"/>
<rect x="412.55" y="284.4" width="7.21" height="7.17" fill="#ff7300"/>
<rect x="420.56" y="284.4" width="7.21" height="7.17" fill="#ffb900"/>
<rect x="428.57" y="284.4" width="7.21" height="7.17" fill="#9fff60"/>
<rect x="436.58" y="284.4" width="7.21" height="7.17" fill="#9fff60"/>
<rect x="444.59" y="284.4" width="7.21" height="7.17" fill="#dfff20"/>
<rect x="452.6" y="284.4" width="7.21" height="7.17" fill="#13ffec"/>
<rect x="460.61" y="284.4" width="7.21" height="7.17" fill="#dfff20"/>
<rect x="468.62" y="284.4" width="7.21" height="7.17" fill="#ff7300"/>
<rect x="476.63" y="284.4" width="7.21" height="7.17" fill="#9fff60"/>
<rect x="484.64" y="284.4" width="7.21" height="7.17" fill="#ffe900"/>
<rect x="492.65" y="284.4" width="7.21" height="7.17" fill="#00d9ff"/>
<rect x="500.66" y="284.4" width="7.21" height="7.17" fill="#9fff60"/>
<rect x="372.5" y="292.37" width="7.21" height="7.17" fill="#ffb900"/>
<rect x="380.51" y="292.37" width="7.21" height="7.17" fill="#c60000"/>
<rect x="388.52" y="292.37" width="7.21" height="7.17" fill="#ffb900"/>
<rect x="396.53" y="292.37" width="7.21" height="7.17" fill="#46ffb9"/>
<rect x="404.54" y="292.37" width="7.21" height="7.17" fill="#13ffec"/>
<rect x="412.55" y="292.37" width="7.21" height="7.17" fill="#ffe900"/>
<rect x="420.56" y="292.37" width="7.21" height="7.17" fill="#9fff60"/>
<rect x="428.57" y="292.37" width="7.21" height="7.17" fill="#ffe900"/>
<rect x="436.58" y="292.37" width="7.21" height="7.17" fill="#ffe900"/>
<rect x="444.59" y="292.37" width="7.21" height="7.17" fill="#46ffb9"/>
<rect x="452.6" y="292.37" width="7.21" height="7.17" fill="#46ffb9"/>
<rect x="460.61" y="292.37" width="7.21" height="7.17" fill="#ffb900"/>
<rect x="468.62" y="292.37" width="7.21" height="7.17" fill="#9fff60"/>
<rect x="476.63" y="292.37" width="7.21" height="7.17" fill="#9fff60"/>
<rect x="484.64" y="292.37" width="7.21" height="7.17" fill="#9fff60"/>
<rect x="492.65" y="292.37" width="7.21" height="7.17" fill="#dfff20"/>
<rect x="500.66" y="292.37" width="7.21" height="7.17" fill="#9fff60"/>
<rect x="464.3" y="163" width="44.7" height="17.1" fill="#fff"/>
<text x="507.2" y="176.9" font-size="15.5" text-anchor="end" fill="#000" color="#000" >200 K</text>
<rect x="466.1" y="286.1" width="34.2" height="5.9" fill="#fff"/>
<path d="M468.1 289.7H499.8" stroke="#1a1a1a" stroke-width="2.2"/>
<circle cx="439.6" cy="215.6" r="6.8" fill="none" stroke="#0b9247" stroke-width="1.8"/>
<rect x="539.5" y="164.85" width="7.21" height="7.17" fill="#0079ff"/>
<rect x="547.51" y="164.85" width="7.21" height="7.17" fill="#ffe900"/>
<rect x="555.52" y="164.85" width="7.21" height="7.17" fill="#00d9ff"/>
<rect x="563.53" y="164.85" width="7.21" height="7.17" fill="#9fff60"/>
<rect x="571.54" y="164.85" width="7.21" height="7.17" fill="#ff2000"/>
<rect x="579.55" y="164.85" width="7.21" height="7.17" fill="#9fff60"/>
<rect x="587.56" y="164.85" width="7.21" height="7.17" fill="#ffb900"/>
<rect x="595.57" y="164.85" width="7.21" height="7.17" fill="#46ffb9"/>
<rect x="603.58" y="164.85" width="7.21" height="7.17" fill="#800000"/>
<rect x="611.59" y="164.85" width="7.21" height="7.17" fill="#ff2000"/>
<rect x="619.6" y="164.85" width="7.21" height="7.17" fill="#9fff60"/>
<rect x="627.61" y="164.85" width="7.21" height="7.17" fill="#ff7300"/>
<rect x="635.62" y="164.85" width="7.21" height="7.17" fill="#ff2000"/>
<rect x="643.63" y="164.85" width="7.21" height="7.17" fill="#ff2000"/>
<rect x="651.64" y="164.85" width="7.21" height="7.17" fill="#ff2000"/>
<rect x="659.65" y="164.85" width="7.21" height="7.17" fill="#ff2000"/>
<rect x="667.66" y="164.85" width="7.21" height="7.17" fill="#ff2000"/>
<rect x="539.5" y="172.82" width="7.21" height="7.17" fill="#9fff60"/>
<rect x="547.51" y="172.82" width="7.21" height="7.17" fill="#dfff20"/>
<rect x="555.52" y="172.82" width="7.21" height="7.17" fill="#ffb900"/>
<rect x="563.53" y="172.82" width="7.21" height="7.17" fill="#ff7300"/>
<rect x="571.54" y="172.82" width="7.21" height="7.17" fill="#800000"/>
<rect x="579.55" y="172.82" width="7.21" height="7.17" fill="#ffe900"/>
<rect x="587.56" y="172.82" width="7.21" height="7.17" fill="#dfff20"/>
<rect x="595.57" y="172.82" width="7.21" height="7.17" fill="#ffe900"/>
<rect x="603.58" y="172.82" width="7.21" height="7.17" fill="#ffb900"/>
<rect x="611.59" y="172.82" width="7.21" height="7.17" fill="#ffb900"/>
<rect x="619.6" y="172.82" width="7.21" height="7.17" fill="#ff7300"/>
<rect x="627.61" y="172.82" width="7.21" height="7.17" fill="#ffe900"/>
<rect x="635.62" y="172.82" width="7.21" height="7.17" fill="#ff2000"/>
<rect x="643.63" y="172.82" width="7.21" height="7.17" fill="#ff2000"/>
<rect x="651.64" y="172.82" width="7.21" height="7.17" fill="#ff2000"/>
<rect x="659.65" y="172.82" width="7.21" height="7.17" fill="#ff2000"/>
<rect x="667.66" y="172.82" width="7.21" height="7.17" fill="#ff2000"/>
<rect x="539.5" y="180.79" width="7.21" height="7.17" fill="#800000"/>
<rect x="547.51" y="180.79" width="7.21" height="7.17" fill="#dfff20"/>
<rect x="555.52" y="180.79" width="7.21" height="7.17" fill="#ff2000"/>
<rect x="563.53" y="180.79" width="7.21" height="7.17" fill="#ffe900"/>
<rect x="571.54" y="180.79" width="7.21" height="7.17" fill="#dfff20"/>
<rect x="579.55" y="180.79" width="7.21" height="7.17" fill="#ffe900"/>
<rect x="587.56" y="180.79" width="7.21" height="7.17" fill="#ff7300"/>
<rect x="595.57" y="180.79" width="7.21" height="7.17" fill="#dfff20"/>
<rect x="603.58" y="180.79" width="7.21" height="7.17" fill="#ff2000"/>
<rect x="611.59" y="180.79" width="7.21" height="7.17" fill="#ff2000"/>
<rect x="619.6" y="180.79" width="7.21" height="7.17" fill="#800000"/>
<rect x="627.61" y="180.79" width="7.21" height="7.17" fill="#c60000"/>
<rect x="635.62" y="180.79" width="7.21" height="7.17" fill="#9fff60"/>
<rect x="643.63" y="180.79" width="7.21" height="7.17" fill="#9fff60"/>
<rect x="651.64" y="180.79" width="7.21" height="7.17" fill="#800000"/>
<rect x="659.65" y="180.79" width="7.21" height="7.17" fill="#800000"/>
<rect x="667.66" y="180.79" width="7.21" height="7.17" fill="#ff7300"/>
<rect x="539.5" y="188.76" width="7.21" height="7.17" fill="#009fff"/>
<rect x="547.51" y="188.76" width="7.21" height="7.17" fill="#9fff60"/>
<rect x="555.52" y="188.76" width="7.21" height="7.17" fill="#c60000"/>
<rect x="563.53" y="188.76" width="7.21" height="7.17" fill="#800000"/>
<rect x="571.54" y="188.76" width="7.21" height="7.17" fill="#800000"/>
<rect x="579.55" y="188.76" width="7.21" height="7.17" fill="#800000"/>
<rect x="587.56" y="188.76" width="7.21" height="7.17" fill="#c60000"/>
<rect x="595.57" y="188.76" width="7.21" height="7.17" fill="#ff7300"/>
<rect x="603.58" y="188.76" width="7.21" height="7.17" fill="#c60000"/>
<rect x="611.59" y="188.76" width="7.21" height="7.17" fill="#ff2000"/>
<rect x="619.6" y="188.76" width="7.21" height="7.17" fill="#ffb900"/>
<rect x="627.61" y="188.76" width="7.21" height="7.17" fill="#9fff60"/>
<rect x="635.62" y="188.76" width="7.21" height="7.17" fill="#dfff20"/>
<rect x="643.63" y="188.76" width="7.21" height="7.17" fill="#13ffec"/>
<rect x="651.64" y="188.76" width="7.21" height="7.17" fill="#009fff"/>
<rect x="659.65" y="188.76" width="7.21" height="7.17" fill="#800000"/>
<rect x="667.66" y="188.76" width="7.21" height="7.17" fill="#00d9ff"/>
<rect x="539.5" y="196.73" width="7.21" height="7.17" fill="#ffb900"/>
<rect x="547.51" y="196.73" width="7.21" height="7.17" fill="#ffe900"/>
<rect x="555.52" y="196.73" width="7.21" height="7.17" fill="#c60000"/>
<rect x="563.53" y="196.73" width="7.21" height="7.17" fill="#c60000"/>
<rect x="571.54" y="196.73" width="7.21" height="7.17" fill="#800000"/>
<rect x="579.55" y="196.73" width="7.21" height="7.17" fill="#dfff20"/>
<rect x="587.56" y="196.73" width="7.21" height="7.17" fill="#c60000"/>
<rect x="595.57" y="196.73" width="7.21" height="7.17" fill="#ff2000"/>
<rect x="603.58" y="196.73" width="7.21" height="7.17" fill="#c60000"/>
<rect x="611.59" y="196.73" width="7.21" height="7.17" fill="#800000"/>
<rect x="619.6" y="196.73" width="7.21" height="7.17" fill="#c60000"/>
<rect x="627.61" y="196.73" width="7.21" height="7.17" fill="#9fff60"/>
<rect x="635.62" y="196.73" width="7.21" height="7.17" fill="#9fff60"/>
<rect x="643.63" y="196.73" width="7.21" height="7.17" fill="#dfff20"/>
<rect x="651.64" y="196.73" width="7.21" height="7.17" fill="#13ffec"/>
<rect x="659.65" y="196.73" width="7.21" height="7.17" fill="#9fff60"/>
<rect x="667.66" y="196.73" width="7.21" height="7.17" fill="#46ffb9"/>
<rect x="539.5" y="204.7" width="7.21" height="7.17" fill="#ff7300"/>
<rect x="547.51" y="204.7" width="7.21" height="7.17" fill="#ff7300"/>
<rect x="555.52" y="204.7" width="7.21" height="7.17" fill="#ff2000"/>
<rect x="563.53" y="204.7" width="7.21" height="7.17" fill="#c60000"/>
<rect x="571.54" y="204.7" width="7.21" height="7.17" fill="#800000"/>
<rect x="579.55" y="204.7" width="7.21" height="7.17" fill="#800000"/>
<rect x="587.56" y="204.7" width="7.21" height="7.17" fill="#800000"/>
<rect x="595.57" y="204.7" width="7.21" height="7.17" fill="#c60000"/>
<rect x="603.58" y="204.7" width="7.21" height="7.17" fill="#800000"/>
<rect x="611.59" y="204.7" width="7.21" height="7.17" fill="#ff2000"/>
<rect x="619.6" y="204.7" width="7.21" height="7.17" fill="#c60000"/>
<rect x="627.61" y="204.7" width="7.21" height="7.17" fill="#c60000"/>
<rect x="635.62" y="204.7" width="7.21" height="7.17" fill="#ff2000"/>
<rect x="643.63" y="204.7" width="7.21" height="7.17" fill="#ffb900"/>
<rect x="651.64" y="204.7" width="7.21" height="7.17" fill="#ffe900"/>
<rect x="659.65" y="204.7" width="7.21" height="7.17" fill="#ff7300"/>
<rect x="667.66" y="204.7" width="7.21" height="7.17" fill="#ffb900"/>
<rect x="539.5" y="212.67" width="7.21" height="7.17" fill="#ff7300"/>
<rect x="547.51" y="212.67" width="7.21" height="7.17" fill="#ffb900"/>
<rect x="555.52" y="212.67" width="7.21" height="7.17" fill="#ff2000"/>
<rect x="563.53" y="212.67" width="7.21" height="7.17" fill="#800000"/>
<rect x="571.54" y="212.67" width="7.21" height="7.17" fill="#ff2000"/>
<rect x="579.55" y="212.67" width="7.21" height="7.17" fill="#c60000"/>
<rect x="587.56" y="212.67" width="7.21" height="7.17" fill="#ff2000"/>
<rect x="595.57" y="212.67" width="7.21" height="7.17" fill="#c60000"/>
<rect x="603.58" y="212.67" width="7.21" height="7.17" fill="#c60000"/>
<rect x="611.59" y="212.67" width="7.21" height="7.17" fill="#800000"/>
<rect x="619.6" y="212.67" width="7.21" height="7.17" fill="#c60000"/>
<rect x="627.61" y="212.67" width="7.21" height="7.17" fill="#800000"/>
<rect x="635.62" y="212.67" width="7.21" height="7.17" fill="#ff7300"/>
<rect x="643.63" y="212.67" width="7.21" height="7.17" fill="#ff2000"/>
<rect x="651.64" y="212.67" width="7.21" height="7.17" fill="#ffe900"/>
<rect x="659.65" y="212.67" width="7.21" height="7.17" fill="#ffe900"/>
<rect x="667.66" y="212.67" width="7.21" height="7.17" fill="#ff7300"/>
<rect x="539.5" y="220.64" width="7.21" height="7.17" fill="#ff2000"/>
<rect x="547.51" y="220.64" width="7.21" height="7.17" fill="#ff2000"/>
<rect x="555.52" y="220.64" width="7.21" height="7.17" fill="#c60000"/>
<rect x="563.53" y="220.64" width="7.21" height="7.17" fill="#ff7300"/>
<rect x="571.54" y="220.64" width="7.21" height="7.17" fill="#ffb900"/>
<rect x="579.55" y="220.64" width="7.21" height="7.17" fill="#ff2000"/>
<rect x="587.56" y="220.64" width="7.21" height="7.17" fill="#800000"/>
<rect x="595.57" y="220.64" width="7.21" height="7.17" fill="#c60000"/>
<rect x="603.58" y="220.64" width="7.21" height="7.17" fill="#ff2000"/>
<rect x="611.59" y="220.64" width="7.21" height="7.17" fill="#ff2000"/>
<rect x="619.6" y="220.64" width="7.21" height="7.17" fill="#ff7300"/>
<rect x="627.61" y="220.64" width="7.21" height="7.17" fill="#00009f"/>
<rect x="635.62" y="220.64" width="7.21" height="7.17" fill="#ff2000"/>
<rect x="643.63" y="220.64" width="7.21" height="7.17" fill="#ff2000"/>
<rect x="651.64" y="220.64" width="7.21" height="7.17" fill="#c60000"/>
<rect x="659.65" y="220.64" width="7.21" height="7.17" fill="#ff7300"/>
<rect x="667.66" y="220.64" width="7.21" height="7.17" fill="#ff2000"/>
<rect x="539.5" y="228.61" width="7.21" height="7.17" fill="#800000"/>
<rect x="547.51" y="228.61" width="7.21" height="7.17" fill="#ffb900"/>
<rect x="555.52" y="228.61" width="7.21" height="7.17" fill="#ffb900"/>
<rect x="563.53" y="228.61" width="7.21" height="7.17" fill="#c60000"/>
<rect x="571.54" y="228.61" width="7.21" height="7.17" fill="#c60000"/>
<rect x="579.55" y="228.61" width="7.21" height="7.17" fill="#ff2000"/>
<rect x="587.56" y="228.61" width="7.21" height="7.17" fill="#ffb900"/>
<rect x="595.57" y="228.61" width="7.21" height="7.17" fill="#800000"/>
<rect x="603.58" y="228.61" width="7.21" height="7.17" fill="#800000"/>
<rect x="611.59" y="228.61" width="7.21" height="7.17" fill="#ffe900"/>
<rect x="619.6" y="228.61" width="7.21" height="7.17" fill="#ffb900"/>
<rect x="627.61" y="228.61" width="7.21" height="7.17" fill="#c60000"/>
<rect x="635.62" y="228.61" width="7.21" height="7.17" fill="#800000"/>
<rect x="643.63" y="228.61" width="7.21" height="7.17" fill="#c60000"/>
<rect x="651.64" y="228.61" width="7.21" height="7.17" fill="#c60000"/>
<rect x="659.65" y="228.61" width="7.21" height="7.17" fill="#dfff20"/>
<rect x="667.66" y="228.61" width="7.21" height="7.17" fill="#c60000"/>
<rect x="539.5" y="236.58" width="7.21" height="7.17" fill="#dfff20"/>
<rect x="547.51" y="236.58" width="7.21" height="7.17" fill="#dfff20"/>
<rect x="555.52" y="236.58" width="7.21" height="7.17" fill="#800000"/>
<rect x="563.53" y="236.58" width="7.21" height="7.17" fill="#800000"/>
<rect x="571.54" y="236.58" width="7.21" height="7.17" fill="#ffe900"/>
<rect x="579.55" y="236.58" width="7.21" height="7.17" fill="#ff7300"/>
<rect x="587.56" y="236.58" width="7.21" height="7.17" fill="#800000"/>
<rect x="595.57" y="236.58" width="7.21" height="7.17" fill="#9fff60"/>
<rect x="603.58" y="236.58" width="7.21" height="7.17" fill="#c60000"/>
<rect x="611.59" y="236.58" width="7.21" height="7.17" fill="#ff2000"/>
<rect x="619.6" y="236.58" width="7.21" height="7.17" fill="#800000"/>
<rect x="627.61" y="236.58" width="7.21" height="7.17" fill="#ffb900"/>
<rect x="635.62" y="236.58" width="7.21" height="7.17" fill="#800000"/>
<rect x="643.63" y="236.58" width="7.21" height="7.17" fill="#800000"/>
<rect x="651.64" y="236.58" width="7.21" height="7.17" fill="#ffb900"/>
<rect x="659.65" y="236.58" width="7.21" height="7.17" fill="#dfff20"/>
<rect x="667.66" y="236.58" width="7.21" height="7.17" fill="#c60000"/>
<rect x="539.5" y="244.55" width="7.21" height="7.17" fill="#800000"/>
<rect x="547.51" y="244.55" width="7.21" height="7.17" fill="#800000"/>
<rect x="555.52" y="244.55" width="7.21" height="7.17" fill="#ff2000"/>
<rect x="563.53" y="244.55" width="7.21" height="7.17" fill="#00009f"/>
<rect x="571.54" y="244.55" width="7.21" height="7.17" fill="#800000"/>
<rect x="579.55" y="244.55" width="7.21" height="7.17" fill="#ffb900"/>
<rect x="587.56" y="244.55" width="7.21" height="7.17" fill="#800000"/>
<rect x="595.57" y="244.55" width="7.21" height="7.17" fill="#0079ff"/>
<rect x="603.58" y="244.55" width="7.21" height="7.17" fill="#ff7300"/>
<rect x="611.59" y="244.55" width="7.21" height="7.17" fill="#c60000"/>
<rect x="619.6" y="244.55" width="7.21" height="7.17" fill="#ffb900"/>
<rect x="627.61" y="244.55" width="7.21" height="7.17" fill="#ff7300"/>
<rect x="635.62" y="244.55" width="7.21" height="7.17" fill="#800000"/>
<rect x="643.63" y="244.55" width="7.21" height="7.17" fill="#800000"/>
<rect x="651.64" y="244.55" width="7.21" height="7.17" fill="#dfff20"/>
<rect x="659.65" y="244.55" width="7.21" height="7.17" fill="#9fff60"/>
<rect x="667.66" y="244.55" width="7.21" height="7.17" fill="#ff2000"/>
<rect x="539.5" y="252.52" width="7.21" height="7.17" fill="#ffb900"/>
<rect x="547.51" y="252.52" width="7.21" height="7.17" fill="#ff2000"/>
<rect x="555.52" y="252.52" width="7.21" height="7.17" fill="#ffe900"/>
<rect x="563.53" y="252.52" width="7.21" height="7.17" fill="#c60000"/>
<rect x="571.54" y="252.52" width="7.21" height="7.17" fill="#800000"/>
<rect x="579.55" y="252.52" width="7.21" height="7.17" fill="#ff2000"/>
<rect x="587.56" y="252.52" width="7.21" height="7.17" fill="#800000"/>
<rect x="595.57" y="252.52" width="7.21" height="7.17" fill="#0079ff"/>
<rect x="603.58" y="252.52" width="7.21" height="7.17" fill="#46ffb9"/>
<rect x="611.59" y="252.52" width="7.21" height="7.17" fill="#9fff60"/>
<rect x="619.6" y="252.52" width="7.21" height="7.17" fill="#9fff60"/>
<rect x="627.61" y="252.52" width="7.21" height="7.17" fill="#13ffec"/>
<rect x="635.62" y="252.52" width="7.21" height="7.17" fill="#ff2000"/>
<rect x="643.63" y="252.52" width="7.21" height="7.17" fill="#ff2000"/>
<rect x="651.64" y="252.52" width="7.21" height="7.17" fill="#ffe900"/>
<rect x="659.65" y="252.52" width="7.21" height="7.17" fill="#ffb900"/>
<rect x="667.66" y="252.52" width="7.21" height="7.17" fill="#46ffb9"/>
<rect x="539.5" y="260.49" width="7.21" height="7.17" fill="#ffb900"/>
<rect x="547.51" y="260.49" width="7.21" height="7.17" fill="#ff2000"/>
<rect x="555.52" y="260.49" width="7.21" height="7.17" fill="#c60000"/>
<rect x="563.53" y="260.49" width="7.21" height="7.17" fill="#800000"/>
<rect x="571.54" y="260.49" width="7.21" height="7.17" fill="#ff7300"/>
<rect x="579.55" y="260.49" width="7.21" height="7.17" fill="#9fff60"/>
<rect x="587.56" y="260.49" width="7.21" height="7.17" fill="#dfff20"/>
<rect x="595.57" y="260.49" width="7.21" height="7.17" fill="#ff7300"/>
<rect x="603.58" y="260.49" width="7.21" height="7.17" fill="#800000"/>
<rect x="611.59" y="260.49" width="7.21" height="7.17" fill="#c60000"/>
<rect x="619.6" y="260.49" width="7.21" height="7.17" fill="#c60000"/>
<rect x="627.61" y="260.49" width="7.21" height="7.17" fill="#800000"/>
<rect x="635.62" y="260.49" width="7.21" height="7.17" fill="#00d9ff"/>
<rect x="643.63" y="260.49" width="7.21" height="7.17" fill="#ffb900"/>
<rect x="651.64" y="260.49" width="7.21" height="7.17" fill="#46ffb9"/>
<rect x="659.65" y="260.49" width="7.21" height="7.17" fill="#ff2000"/>
<rect x="667.66" y="260.49" width="7.21" height="7.17" fill="#00d9ff"/>
<rect x="539.5" y="268.46" width="7.21" height="7.17" fill="#9fff60"/>
<rect x="547.51" y="268.46" width="7.21" height="7.17" fill="#ffe900"/>
<rect x="555.52" y="268.46" width="7.21" height="7.17" fill="#ffb900"/>
<rect x="563.53" y="268.46" width="7.21" height="7.17" fill="#ffe900"/>
<rect x="571.54" y="268.46" width="7.21" height="7.17" fill="#c60000"/>
<rect x="579.55" y="268.46" width="7.21" height="7.17" fill="#c60000"/>
<rect x="587.56" y="268.46" width="7.21" height="7.17" fill="#ff2000"/>
<rect x="595.57" y="268.46" width="7.21" height="7.17" fill="#ff2000"/>
<rect x="603.58" y="268.46" width="7.21" height="7.17" fill="#c60000"/>
<rect x="611.59" y="268.46" width="7.21" height="7.17" fill="#c60000"/>
<rect x="619.6" y="268.46" width="7.21" height="7.17" fill="#ffb900"/>
<rect x="627.61" y="268.46" width="7.21" height="7.17" fill="#dfff20"/>
<rect x="635.62" y="268.46" width="7.21" height="7.17" fill="#c60000"/>
<rect x="643.63" y="268.46" width="7.21" height="7.17" fill="#ffb900"/>
<rect x="651.64" y="268.46" width="7.21" height="7.17" fill="#00d9ff"/>
<rect x="659.65" y="268.46" width="7.21" height="7.17" fill="#9fff60"/>
<rect x="667.66" y="268.46" width="7.21" height="7.17" fill="#0039ff"/>
<rect x="539.5" y="276.43" width="7.21" height="7.17" fill="#800000"/>
<rect x="547.51" y="276.43" width="7.21" height="7.17" fill="#ffb900"/>
<rect x="555.52" y="276.43" width="7.21" height="7.17" fill="#ffb900"/>
<rect x="563.53" y="276.43" width="7.21" height="7.17" fill="#00009f"/>
<rect x="571.54" y="276.43" width="7.21" height="7.17" fill="#ffb900"/>
<rect x="579.55" y="276.43" width="7.21" height="7.17" fill="#800000"/>
<rect x="587.56" y="276.43" width="7.21" height="7.17" fill="#ff2000"/>
<rect x="595.57" y="276.43" width="7.21" height="7.17" fill="#ff2000"/>
<rect x="603.58" y="276.43" width="7.21" height="7.17" fill="#ff2000"/>
<rect x="611.59" y="276.43" width="7.21" height="7.17" fill="#46ffb9"/>
<rect x="619.6" y="276.43" width="7.21" height="7.17" fill="#ffe900"/>
<rect x="627.61" y="276.43" width="7.21" height="7.17" fill="#ffe900"/>
<rect x="635.62" y="276.43" width="7.21" height="7.17" fill="#ffb900"/>
<rect x="643.63" y="276.43" width="7.21" height="7.17" fill="#ff2000"/>
<rect x="651.64" y="276.43" width="7.21" height="7.17" fill="#ffb900"/>
<rect x="659.65" y="276.43" width="7.21" height="7.17" fill="#9fff60"/>
<rect x="667.66" y="276.43" width="7.21" height="7.17" fill="#ffb900"/>
<rect x="539.5" y="284.4" width="7.21" height="7.17" fill="#ffe900"/>
<rect x="547.51" y="284.4" width="7.21" height="7.17" fill="#00d9ff"/>
<rect x="555.52" y="284.4" width="7.21" height="7.17" fill="#009fff"/>
<rect x="563.53" y="284.4" width="7.21" height="7.17" fill="#46ffb9"/>
<rect x="571.54" y="284.4" width="7.21" height="7.17" fill="#dfff20"/>
<rect x="579.55" y="284.4" width="7.21" height="7.17" fill="#ff2000"/>
<rect x="587.56" y="284.4" width="7.21" height="7.17" fill="#dfff20"/>
<rect x="595.57" y="284.4" width="7.21" height="7.17" fill="#9fff60"/>
<rect x="603.58" y="284.4" width="7.21" height="7.17" fill="#00d9ff"/>
<rect x="611.59" y="284.4" width="7.21" height="7.17" fill="#00d9ff"/>
<rect x="619.6" y="284.4" width="7.21" height="7.17" fill="#9fff60"/>
<rect x="627.61" y="284.4" width="7.21" height="7.17" fill="#dfff20"/>
<rect x="635.62" y="284.4" width="7.21" height="7.17" fill="#9fff60"/>
<rect x="643.63" y="284.4" width="7.21" height="7.17" fill="#dfff20"/>
<rect x="651.64" y="284.4" width="7.21" height="7.17" fill="#46ffb9"/>
<rect x="659.65" y="284.4" width="7.21" height="7.17" fill="#9fff60"/>
<rect x="667.66" y="284.4" width="7.21" height="7.17" fill="#ff2000"/>
<rect x="539.5" y="292.37" width="7.21" height="7.17" fill="#ff2000"/>
<rect x="547.51" y="292.37" width="7.21" height="7.17" fill="#ffb900"/>
<rect x="555.52" y="292.37" width="7.21" height="7.17" fill="#800000"/>
<rect x="563.53" y="292.37" width="7.21" height="7.17" fill="#ffe900"/>
<rect x="571.54" y="292.37" width="7.21" height="7.17" fill="#009fff"/>
<rect x="579.55" y="292.37" width="7.21" height="7.17" fill="#009fff"/>
<rect x="587.56" y="292.37" width="7.21" height="7.17" fill="#ff2000"/>
<rect x="595.57" y="292.37" width="7.21" height="7.17" fill="#ff2000"/>
<rect x="603.58" y="292.37" width="7.21" height="7.17" fill="#800000"/>
<rect x="611.59" y="292.37" width="7.21" height="7.17" fill="#46ffb9"/>
<rect x="619.6" y="292.37" width="7.21" height="7.17" fill="#00d9ff"/>
<rect x="627.61" y="292.37" width="7.21" height="7.17" fill="#0079ff"/>
<rect x="635.62" y="292.37" width="7.21" height="7.17" fill="#ffe900"/>
<rect x="643.63" y="292.37" width="7.21" height="7.17" fill="#13ffec"/>
<rect x="651.64" y="292.37" width="7.21" height="7.17" fill="#0079ff"/>
<rect x="659.65" y="292.37" width="7.21" height="7.17" fill="#00d9ff"/>
<rect x="667.66" y="292.37" width="7.21" height="7.17" fill="#c60000"/>
<rect x="632.6" y="163" width="43.4" height="18.3" fill="#fff"/>
<text x="674.8" y="179.7" font-size="15.5" text-anchor="end" fill="#000" color="#000" >294 K</text>
<rect x="632.9" y="285.8" width="34.1" height="6.2" fill="#fff"/>
<path d="M634.9 289.8H666.8" stroke="#1a1a1a" stroke-width="2.2"/>
<circle cx="607.4" cy="215.8" r="6.8" fill="none" stroke="#0b9247" stroke-width="1.8"/>
<text x="1.8" y="171.5" font-size="17.5" text-anchor="start" fill="#000" color="#000" >b</text>
<defs><linearGradient id="jetg" x1="0" x2="1" y1="0" y2="0"><stop offset="0" stop-color="#000080"/><stop offset="0.03" stop-color="#00009f"/><stop offset="0.06" stop-color="#0000bf"/><stop offset="0.09" stop-color="#0000df"/><stop offset="0.12" stop-color="#0000ff"/><stop offset="0.16" stop-color="#0020ff"/><stop offset="0.19" stop-color="#0040ff"/><stop offset="0.22" stop-color="#0060ff"/><stop offset="0.25" stop-color="#0080ff"/><stop offset="0.28" stop-color="#009fff"/><stop offset="0.31" stop-color="#00bfff"/><stop offset="0.34" stop-color="#00dfff"/><stop offset="0.38" stop-color="#00ffff"/><stop offset="0.41" stop-color="#20ffdf"/><stop offset="0.44" stop-color="#40ffbf"/><stop offset="0.47" stop-color="#60ff9f"/><stop offset="0.5" stop-color="#80ff80"/><stop offset="0.53" stop-color="#9fff60"/><stop offset="0.56" stop-color="#bfff40"/><stop offset="0.59" stop-color="#dfff20"/><stop offset="0.62" stop-color="#ffff00"/><stop offset="0.66" stop-color="#ffdf00"/><stop offset="0.69" stop-color="#ffbf00"/><stop offset="0.72" stop-color="#ff9f00"/><stop offset="0.75" stop-color="#ff8000"/><stop offset="0.78" stop-color="#ff6000"/><stop offset="0.81" stop-color="#ff4000"/><stop offset="0.84" stop-color="#ff2000"/><stop offset="0.88" stop-color="#ff0000"/><stop offset="0.91" stop-color="#df0000"/><stop offset="0.94" stop-color="#bf0000"/><stop offset="0.97" stop-color="#9f0000"/><stop offset="1" stop-color="#800000"/></linearGradient></defs>
<rect x="293.6" y="303.8" width="131.3" height="13.1" fill="url(#jetg)" stroke="#262626" stroke-width="0.6"/>
<path d="M336.6 316.9v-1.4M395.2 316.9v-1.4" stroke="#333" stroke-width="0.8"/>
<text x="289.8" y="333" font-size="15.8" text-anchor="middle" fill="#262626" color="#262626" >0</text>
<text x="424" y="333" font-size="15.8" text-anchor="middle" fill="#262626" color="#262626" >0.5</text>
<text x="436" y="317" font-size="16" text-anchor="start" fill="#000" color="#000" >DOP</text>
<path d="M47.6 412.6L73.9 405.5L82.7 381.3L86.3 422.6L90.8 390.4L102.5 392.4L106.9 383.4L111.5 403.5L112.5 388.4L124.2 411.6L129.3 366.2L130.3 395.4L149.4 371.3L156.9 406.5L167.7 418.2L167.7 516.5L157.2 508.4L149.5 466.1L130.3 500.9L129.4 488.7L124.1 521.2L112.3 513.7L111.9 540.4L107 502L102.7 530.4L90.3 516.5L86.7 542.1L82.9 534.6L73.2 535.7L47.6 529.7Z" fill="#b3b3b3"/>
<path d="M103.7 442H110.7M103.7 440.6v2.8M110.7 440.6v2.8" stroke="#000" stroke-width="1.15"/>
<circle cx="107.2" cy="442" r="2.45" fill="#000"/>
<path d="M126.2 427H133.2M126.2 425.6v2.8M133.2 425.6v2.8" stroke="#000" stroke-width="1.15"/>
<circle cx="129.7" cy="427" r="2.45" fill="#000"/>
<path d="M87.2 453.5H94.2M87.2 452.1v2.8M94.2 452.1v2.8" stroke="#000" stroke-width="1.15"/>
<circle cx="90.7" cy="453.5" r="2.45" fill="#000"/>
<path d="M109 450.6H116M109 449.2v2.8M116 449.2v2.8" stroke="#000" stroke-width="1.15"/>
<circle cx="112.5" cy="450.6" r="2.45" fill="#000"/>
<path d="M126.8 448.8H132.8M126.8 447.4v2.8M132.8 447.4v2.8" stroke="#000" stroke-width="1.15"/>
<circle cx="129.8" cy="448.8" r="2.45" fill="#000"/>
<path d="M79.8 458H86.8M79.8 456.6v2.8M86.8 456.6v2.8" stroke="#000" stroke-width="1.15"/>
<circle cx="83.3" cy="458" r="2.45" fill="#000"/>
<path d="M99.4 461.2H106.4M99.4 459.8v2.8M106.4 459.8v2.8" stroke="#000" stroke-width="1.15"/>
<circle cx="102.9" cy="461.2" r="2.45" fill="#000"/>
<path d="M153.9 457.8H160.9M153.9 456.4v2.8M160.9 456.4v2.8" stroke="#000" stroke-width="1.15"/>
<circle cx="157.4" cy="457.8" r="2.45" fill="#000"/>
<path d="M120.8 467H127.8M120.8 465.6v2.8M127.8 465.6v2.8" stroke="#000" stroke-width="1.15"/>
<circle cx="124.3" cy="467" r="2.45" fill="#000"/>
<path d="M44.8 471.5H50.8M44.8 470.1v2.8M50.8 470.1v2.8" stroke="#000" stroke-width="1.15"/>
<circle cx="47.8" cy="471.5" r="2.45" fill="#000"/>
<path d="M69.6 471.1H77.6M69.6 469.7v2.8M77.6 469.7v2.8" stroke="#000" stroke-width="1.15"/>
<circle cx="73.6" cy="471.1" r="2.45" fill="#000"/>
<path d="M108.6 472.3H115.6M108.6 470.9v2.8M115.6 470.9v2.8" stroke="#000" stroke-width="1.15"/>
<circle cx="112.1" cy="472.3" r="2.45" fill="#000"/>
<path d="M164.4 467.6H170.4M164.4 466.2v2.8M170.4 466.2v2.8" stroke="#000" stroke-width="1.15"/>
<circle cx="167.4" cy="467.6" r="2.45" fill="#000"/>
<path d="M83.1 482.6H91.1M83.1 481.2v2.8M91.1 481.2v2.8" stroke="#000" stroke-width="1.15"/>
<circle cx="87.1" cy="482.6" r="2.45" fill="#000"/>
<path d="M145.8 418.5H153.4M145.8 417.2v2.6M153.4 417.2v2.6" stroke="#000" stroke-width="1.1"/>
<ellipse cx="149.6" cy="418.5" rx="2.9" ry="2.2" fill="#000"/>
<path d="M149.5 411.3L151.67 415.41L156.25 416.21L153.02 419.54L153.67 424.14L149.5 422.1L145.33 424.14L145.98 419.54L142.75 416.21L147.33 415.41Z" fill="none" stroke="#1b9a4a" stroke-width="1.75" stroke-linejoin="round"/>
<rect x="40.5" y="336.9" width="133.1" height="229.9" fill="none" stroke="#454545" stroke-width="1.35"/>
<path d="M60.46 566.8v-2.6M60.46 336.9v2.6M93.74 566.8v-2.6M93.74 336.9v2.6M127.01 566.8v-2.6M127.01 336.9v2.6M160.29 566.8v-2.6M160.29 336.9v2.6M40.5 566.8h2.6M173.6 566.8h-2.6M40.5 501.11h2.6M173.6 501.11h-2.6M40.5 435.43h2.6M173.6 435.43h-2.6M40.5 369.74h2.6M173.6 369.74h-2.6" stroke="#454545" stroke-width="1.35" fill="none"/>
<text x="60.46" y="585.7" font-size="15.8" text-anchor="middle" fill="#262626" color="#262626" >10</text>
<text x="93.74" y="585.7" font-size="15.8" text-anchor="middle" fill="#262626" color="#262626" >20</text>
<text x="127.01" y="585.7" font-size="15.8" text-anchor="middle" fill="#262626" color="#262626" >30</text>
<text x="160.29" y="585.7" font-size="15.8" text-anchor="middle" fill="#262626" color="#262626" >40</text>
<text x="37" y="573.7" font-size="16.4" text-anchor="end" fill="#262626" color="#262626" >0</text>
<text x="37" y="508.01" font-size="16.4" text-anchor="end" fill="#262626" color="#262626" >0.1</text>
<text x="37" y="442.33" font-size="16.4" text-anchor="end" fill="#262626" color="#262626" >0.2</text>
<text x="37" y="376.64" font-size="16.4" text-anchor="end" fill="#262626" color="#262626" >0.3</text>
<text x="107.15" y="605.5" font-size="18.2" text-anchor="middle" fill="#262626" color="#262626" ><tspan font-family="Liberation Serif" font-style="italic" font-size="20.5" letter-spacing="0.6">&#948;&#955;</tspan> (nm)</text>
<text x="168.6" y="355.3" font-size="15.8" text-anchor="end" fill="#000" color="#000" >100 K</text>
<path d="M217.2 433.5L242.8 420.4L253.7 407.6L255.1 436.2L260.2 391.2L271.4 397.8L275.9 391.6L280.2 389.6L281.3 433.1L292.9 436.2L296.4 354.4L298 399.4L317.4 362.6L324.6 381L334.6 406.6L334.6 510L323.9 495.9L317.5 457.5L298.3 500.8L296.2 478.4L293.2 531.8L281.3 539.9L280.4 497.6L276.6 492.3L271.9 527.1L259.9 504L255.2 542.9L253.5 528.6L242.4 530.1L217.2 536.5Z" fill="#ffb3b3"/>
<path d="M291.8 413.6H301.8M291.8 412.2v2.8M301.8 412.2v2.8" stroke="#ff0000" stroke-width="1.15"/>
<circle cx="296.8" cy="413.6" r="2.45" fill="#ff0000"/>
<path d="M320.4 436.5H328.4M320.4 435.1v2.8M328.4 435.1v2.8" stroke="#ff0000" stroke-width="1.15"/>
<circle cx="324.4" cy="436.5" r="2.45" fill="#ff0000"/>
<path d="M272.5 441.8H280.5M272.5 440.4v2.8M280.5 440.4v2.8" stroke="#ff0000" stroke-width="1.15"/>
<circle cx="276.5" cy="441.8" r="2.45" fill="#ff0000"/>
<path d="M255.8 447.3H264.8M255.8 445.9v2.8M264.8 445.9v2.8" stroke="#ff0000" stroke-width="1.15"/>
<circle cx="260.3" cy="447.3" r="2.45" fill="#ff0000"/>
<path d="M275.6 446.7H285.6M275.6 445.3v2.8M285.6 445.3v2.8" stroke="#ff0000" stroke-width="1.15"/>
<circle cx="280.6" cy="446.7" r="2.45" fill="#ff0000"/>
<path d="M295.2 451H302.2M295.2 449.6v2.8M302.2 449.6v2.8" stroke="#ff0000" stroke-width="1.15"/>
<circle cx="298.7" cy="451" r="2.45" fill="#ff0000"/>
<path d="M331.6 459.1H337.6M331.6 457.7v2.8M337.6 457.7v2.8" stroke="#ff0000" stroke-width="1.15"/>
<circle cx="334.6" cy="459.1" r="2.45" fill="#ff0000"/>
<path d="M267 462.7H277M267 461.3v2.8M277 461.3v2.8" stroke="#ff0000" stroke-width="1.15"/>
<circle cx="272" cy="462.7" r="2.45" fill="#ff0000"/>
<path d="M249.4 468.5H258.4M249.4 467.1v2.8M258.4 467.1v2.8" stroke="#ff0000" stroke-width="1.15"/>
<circle cx="253.9" cy="468.5" r="2.45" fill="#ff0000"/>
<path d="M237.7 475.5H248.7M237.7 474.1v2.8M248.7 474.1v2.8" stroke="#ff0000" stroke-width="1.15"/>
<circle cx="243.2" cy="475.5" r="2.45" fill="#ff0000"/>
<path d="M212.6 485.1H222.6M212.6 483.7v2.8M222.6 483.7v2.8" stroke="#ff0000" stroke-width="1.15"/>
<circle cx="217.6" cy="485.1" r="2.45" fill="#ff0000"/>
<path d="M248.6 490.4H262.6M248.6 489v2.8M262.6 489v2.8" stroke="#ff0000" stroke-width="1.15"/>
<circle cx="255.6" cy="490.4" r="2.45" fill="#ff0000"/>
<path d="M277.2 486.4H286.2M277.2 485v2.8M286.2 485v2.8" stroke="#ff0000" stroke-width="1.15"/>
<circle cx="281.7" cy="486.4" r="2.45" fill="#ff0000"/>
<path d="M290.1 484.3H297.1M290.1 482.9v2.8M297.1 482.9v2.8" stroke="#ff0000" stroke-width="1.15"/>
<circle cx="293.6" cy="484.3" r="2.45" fill="#ff0000"/>
<path d="M313.8 409.5H321.4M313.8 408.2v2.6M321.4 408.2v2.6" stroke="#ff0000" stroke-width="1.1"/>
<ellipse cx="317.6" cy="409.5" rx="2.9" ry="2.2" fill="#ff0000"/>
<path d="M317.5 402.3L319.67 406.41L324.25 407.21L321.02 410.54L321.67 415.14L317.5 413.1L313.33 415.14L313.98 410.54L310.75 407.21L315.33 406.41Z" fill="none" stroke="#1b9a4a" stroke-width="1.75" stroke-linejoin="round"/>
<rect x="207.07" y="336.9" width="133.23" height="229.9" fill="none" stroke="#454545" stroke-width="1.35"/>
<path d="M207.07 566.8v-2.6M207.07 336.9v2.6M272.06 566.8v-2.6M272.06 336.9v2.6M337.05 566.8v-2.6M337.05 336.9v2.6M207.07 566.8h2.6M340.3 566.8h-2.6M207.07 509.32h2.6M340.3 509.32h-2.6M207.07 451.85h2.6M340.3 451.85h-2.6M207.07 394.38h2.6M340.3 394.38h-2.6M207.07 336.9h2.6M340.3 336.9h-2.6" stroke="#454545" stroke-width="1.35" fill="none"/>
<text x="207.07" y="585.7" font-size="15.8" text-anchor="middle" fill="#262626" color="#262626" >0</text>
<text x="272.06" y="585.7" font-size="15.8" text-anchor="middle" fill="#262626" color="#262626" >20</text>
<text x="337.05" y="585.7" font-size="15.8" text-anchor="middle" fill="#262626" color="#262626" >40</text>
<text x="203.57" y="573.7" font-size="16.4" text-anchor="end" fill="#262626" color="#262626" >0</text>
<text x="203.57" y="516.22" font-size="16.4" text-anchor="end" fill="#262626" color="#262626" >0.1</text>
<text x="203.57" y="458.75" font-size="16.4" text-anchor="end" fill="#262626" color="#262626" >0.2</text>
<text x="203.57" y="401.27" font-size="16.4" text-anchor="end" fill="#262626" color="#262626" >0.3</text>
<text x="203.57" y="343.8" font-size="16.4" text-anchor="end" fill="#262626" color="#262626" >0.4</text>
<text x="273.79" y="605.5" font-size="18.2" text-anchor="middle" fill="#262626" color="#262626" ><tspan font-family="Liberation Serif" font-style="italic" font-size="20.5" letter-spacing="0.6">&#948;&#955;</tspan> (nm)</text>
<text x="333.2" y="355.3" font-size="15.8" text-anchor="end" fill="#000" color="#000" >140 K</text>
<path d="M381.7 468.8L407.2 422.9L418 425.6L420.1 428.4L425.2 418.2L436.4 404.1L441.5 406.6L445.6 399.4L446 432.1L458.3 418.8L462.4 375.9L464 396.3L484.4 366.7L490.2 362.6L499.8 385.1L499.8 470.5L489.9 470.5L483.5 446L464.3 483.7L462.2 484.8L457.5 508.3L445.8 521.1L445.1 495.9L441.5 497.2L436.2 503.6L425.9 506.6L417.4 512.6L408 516.4L381.7 541.4Z" fill="#b3b3ff"/>
<path d="M486.1 416.9H495.1M486.1 415.5v2.8M495.1 415.5v2.8" stroke="#0000ff" stroke-width="1.15"/>
<circle cx="490.6" cy="416.9" r="2.45" fill="#0000ff"/>
<path d="M496.7 428.5H503.7M496.7 427.1v2.8M503.7 427.1v2.8" stroke="#0000ff" stroke-width="1.15"/>
<circle cx="500.2" cy="428.5" r="2.45" fill="#0000ff"/>
<path d="M458 429.7H468M458 428.3v2.8M468 428.3v2.8" stroke="#0000ff" stroke-width="1.15"/>
<circle cx="463" cy="429.7" r="2.45" fill="#0000ff"/>
<path d="M460.9 441H467.9M460.9 439.6v2.8M467.9 439.6v2.8" stroke="#0000ff" stroke-width="1.15"/>
<circle cx="464.4" cy="441" r="2.45" fill="#0000ff"/>
<path d="M441.7 447.8H450.7M441.7 446.4v2.8M450.7 446.4v2.8" stroke="#0000ff" stroke-width="1.15"/>
<circle cx="446.2" cy="447.8" r="2.45" fill="#0000ff"/>
<path d="M436.7 452.5H445.7M436.7 451.1v2.8M445.7 451.1v2.8" stroke="#0000ff" stroke-width="1.15"/>
<circle cx="441.2" cy="452.5" r="2.45" fill="#0000ff"/>
<path d="M431.6 454.6H441.6M431.6 453.2v2.8M441.6 453.2v2.8" stroke="#0000ff" stroke-width="1.15"/>
<circle cx="436.6" cy="454.6" r="2.45" fill="#0000ff"/>
<path d="M421 462.7H430M421 461.3v2.8M430 461.3v2.8" stroke="#0000ff" stroke-width="1.15"/>
<circle cx="425.5" cy="462.7" r="2.45" fill="#0000ff"/>
<path d="M453.5 464.4H461.5M453.5 463v2.8M461.5 463v2.8" stroke="#0000ff" stroke-width="1.15"/>
<circle cx="457.5" cy="464.4" r="2.45" fill="#0000ff"/>
<path d="M402.7 469.7H412.7M402.7 468.3v2.8M412.7 468.3v2.8" stroke="#0000ff" stroke-width="1.15"/>
<circle cx="407.7" cy="469.7" r="2.45" fill="#0000ff"/>
<path d="M413.3 469.3H422.3M413.3 467.9v2.8M422.3 467.9v2.8" stroke="#0000ff" stroke-width="1.15"/>
<circle cx="417.8" cy="469.3" r="2.45" fill="#0000ff"/>
<path d="M416 470.2H425M416 468.8v2.8M425 468.8v2.8" stroke="#0000ff" stroke-width="1.15"/>
<circle cx="420.5" cy="470.2" r="2.45" fill="#0000ff"/>
<path d="M442.2 477.6H450.2M442.2 476.2v2.8M450.2 476.2v2.8" stroke="#0000ff" stroke-width="1.15"/>
<circle cx="446.2" cy="477.6" r="2.45" fill="#0000ff"/>
<path d="M376.7 505.8H386.7M376.7 504.4v2.8M386.7 504.4v2.8" stroke="#0000ff" stroke-width="1.15"/>
<circle cx="381.7" cy="505.8" r="2.45" fill="#0000ff"/>
<path d="M480.2 405.8H487.8M480.2 404.5v2.6M487.8 404.5v2.6" stroke="#0000ff" stroke-width="1.1"/>
<ellipse cx="484" cy="405.8" rx="2.9" ry="2.2" fill="#0000ff"/>
<path d="M483.9 398.6L486.07 402.71L490.65 403.51L487.42 406.84L488.07 411.44L483.9 409.4L479.73 411.44L480.38 406.84L477.15 403.51L481.73 402.71Z" fill="none" stroke="#1b9a4a" stroke-width="1.75" stroke-linejoin="round"/>
<rect x="373.1" y="336.9" width="133.5" height="229.9" fill="none" stroke="#454545" stroke-width="1.35"/>
<path d="M379.61 566.8v-2.6M379.61 336.9v2.6M412.17 566.8v-2.6M412.17 336.9v2.6M444.73 566.8v-2.6M444.73 336.9v2.6M477.3 566.8v-2.6M477.3 336.9v2.6M373.1 566.8h2.6M506.6 566.8h-2.6M373.1 515.71h2.6M506.6 515.71h-2.6M373.1 464.62h2.6M506.6 464.62h-2.6M373.1 413.53h2.6M506.6 413.53h-2.6M373.1 362.44h2.6M506.6 362.44h-2.6" stroke="#454545" stroke-width="1.35" fill="none"/>
<text x="379.61" y="585.7" font-size="15.8" text-anchor="middle" fill="#262626" color="#262626" >-10</text>
<text x="412.17" y="585.7" font-size="15.8" text-anchor="middle" fill="#262626" color="#262626" >0</text>
<text x="444.73" y="585.7" font-size="15.8" text-anchor="middle" fill="#262626" color="#262626" >10</text>
<text x="477.3" y="585.7" font-size="15.8" text-anchor="middle" fill="#262626" color="#262626" >20</text>
<text x="369.6" y="573.7" font-size="16.4" text-anchor="end" fill="#262626" color="#262626" >0</text>
<text x="369.6" y="522.61" font-size="16.4" text-anchor="end" fill="#262626" color="#262626" >0.1</text>
<text x="369.6" y="471.52" font-size="16.4" text-anchor="end" fill="#262626" color="#262626" >0.2</text>
<text x="369.6" y="420.43" font-size="16.4" text-anchor="end" fill="#262626" color="#262626" >0.3</text>
<text x="369.6" y="369.34" font-size="16.4" text-anchor="end" fill="#262626" color="#262626" >0.4</text>
<text x="439.95" y="605.5" font-size="18.2" text-anchor="middle" fill="#262626" color="#262626" ><tspan font-family="Liberation Serif" font-style="italic" font-size="20.5" letter-spacing="0.6">&#948;&#955;</tspan> (nm)</text>
<text x="501.2" y="355.3" font-size="15.8" text-anchor="end" fill="#000" color="#000" >200 K</text>
<path d="M548.1 480.1L569 458.1L580.7 456.6L583 450.1L588.1 428L602.4 422.3L605.5 395.3L612.2 420.9L623.9 413.3L626.3 379.4L629.4 396.3L647.4 352.4L651.9 352.4L663.3 368.7L663.3 452.8L654.4 450.7L648.4 435.2L629.2 479.5L626.2 477.3L623.4 514.7L612.3 520.7L605.3 492.9L601.7 515.8L588.2 513L580.7 531.1L568.6 530.1L548.1 542.9Z" fill="#d9b3d9"/>
<path d="M648.3 403.4H660.3M648.3 402v2.8M660.3 402v2.8" stroke="#800080" stroke-width="1.15"/>
<circle cx="654.3" cy="403.4" r="2.45" fill="#800080"/>
<path d="M659.1 411.6H669.1M659.1 410.2v2.8M669.1 410.2v2.8" stroke="#800080" stroke-width="1.15"/>
<circle cx="664.1" cy="411.6" r="2.45" fill="#800080"/>
<path d="M620.3 428.3H632.3M620.3 426.9v2.8M632.3 426.9v2.8" stroke="#800080" stroke-width="1.15"/>
<circle cx="626.3" cy="428.3" r="2.45" fill="#800080"/>
<path d="M624.8 438.5H634.8M624.8 437.1v2.8M634.8 437.1v2.8" stroke="#800080" stroke-width="1.15"/>
<circle cx="629.8" cy="438.5" r="2.45" fill="#800080"/>
<path d="M599.9 443.6H611.9M599.9 442.2v2.8M611.9 442.2v2.8" stroke="#800080" stroke-width="1.15"/>
<circle cx="605.9" cy="443.6" r="2.45" fill="#800080"/>
<path d="M617.8 463.8H629.8M617.8 462.4v2.8M629.8 462.4v2.8" stroke="#800080" stroke-width="1.15"/>
<circle cx="623.8" cy="463.8" r="2.45" fill="#800080"/>
<path d="M607.1 466.3H617.1M607.1 464.9v2.8M617.1 464.9v2.8" stroke="#800080" stroke-width="1.15"/>
<circle cx="612.1" cy="466.3" r="2.45" fill="#800080"/>
<path d="M607.2 471.2H619.2M607.2 469.8v2.8M619.2 469.8v2.8" stroke="#800080" stroke-width="1.15"/>
<circle cx="613.2" cy="471.2" r="2.45" fill="#800080"/>
<path d="M597.1 469.1H607.1M597.1 467.7v2.8M607.1 467.7v2.8" stroke="#800080" stroke-width="1.15"/>
<circle cx="602.1" cy="469.1" r="2.45" fill="#800080"/>
<path d="M582.6 470.2H594.6M582.6 468.8v2.8M594.6 468.8v2.8" stroke="#800080" stroke-width="1.15"/>
<circle cx="588.6" cy="470.2" r="2.45" fill="#800080"/>
<path d="M577.4 479.1H593.4M577.4 477.7v2.8M593.4 477.7v2.8" stroke="#800080" stroke-width="1.15"/>
<circle cx="585.4" cy="479.1" r="2.45" fill="#800080"/>
<path d="M562 494.1H576M562 492.7v2.8M576 492.7v2.8" stroke="#800080" stroke-width="1.15"/>
<circle cx="569" cy="494.1" r="2.45" fill="#800080"/>
<path d="M573.6 494.3H588.6M573.6 492.9v2.8M588.6 492.9v2.8" stroke="#800080" stroke-width="1.15"/>
<circle cx="581.1" cy="494.3" r="2.45" fill="#800080"/>
<path d="M542.1 512.2H554.1M542.1 510.8v2.8M554.1 510.8v2.8" stroke="#800080" stroke-width="1.15"/>
<circle cx="548.1" cy="512.2" r="2.45" fill="#800080"/>
<path d="M644.8 389.9H652.4M644.8 388.6v2.6M652.4 388.6v2.6" stroke="#800080" stroke-width="1.1"/>
<ellipse cx="648.6" cy="389.9" rx="2.9" ry="2.2" fill="#800080"/>
<path d="M648.5 382.7L650.67 386.81L655.25 387.61L652.02 390.94L652.67 395.54L648.5 393.5L644.33 395.54L644.98 390.94L641.75 387.61L646.33 386.81Z" fill="none" stroke="#1b9a4a" stroke-width="1.75" stroke-linejoin="round"/>
<rect x="540.6" y="336.9" width="132.9" height="229.9" fill="none" stroke="#454545" stroke-width="1.35"/>
<path d="M540.6 566.8v-2.6M540.6 336.9v2.6M570.87 566.8v-2.6M570.87 336.9v2.6M601.15 566.8v-2.6M601.15 336.9v2.6M631.42 566.8v-2.6M631.42 336.9v2.6M661.69 566.8v-2.6M661.69 336.9v2.6M540.6 566.8h2.6M673.5 566.8h-2.6M540.6 520.82h2.6M673.5 520.82h-2.6M540.6 474.84h2.6M673.5 474.84h-2.6M540.6 428.86h2.6M673.5 428.86h-2.6M540.6 382.88h2.6M673.5 382.88h-2.6M540.6 336.9h2.6M673.5 336.9h-2.6" stroke="#454545" stroke-width="1.35" fill="none"/>
<text x="540.6" y="585.7" font-size="15.8" text-anchor="middle" fill="#262626" color="#262626" >-30</text>
<text x="570.87" y="585.7" font-size="15.8" text-anchor="middle" fill="#262626" color="#262626" >-20</text>
<text x="601.15" y="585.7" font-size="15.8" text-anchor="middle" fill="#262626" color="#262626" >-10</text>
<text x="631.42" y="585.7" font-size="15.8" text-anchor="middle" fill="#262626" color="#262626" >0</text>
<text x="661.69" y="585.7" font-size="15.8" text-anchor="middle" fill="#262626" color="#262626" >10</text>
<text x="537.1" y="573.7" font-size="16.4" text-anchor="end" fill="#262626" color="#262626" >0</text>
<text x="537.1" y="527.72" font-size="16.4" text-anchor="end" fill="#262626" color="#262626" >0.1</text>
<text x="537.1" y="481.74" font-size="16.4" text-anchor="end" fill="#262626" color="#262626" >0.2</text>
<text x="537.1" y="435.76" font-size="16.4" text-anchor="end" fill="#262626" color="#262626" >0.3</text>
<text x="537.1" y="389.78" font-size="16.4" text-anchor="end" fill="#262626" color="#262626" >0.4</text>
<text x="537.1" y="343.8" font-size="16.4" text-anchor="end" fill="#262626" color="#262626" >0.5</text>
<text x="607.15" y="605.5" font-size="18.2" text-anchor="middle" fill="#262626" color="#262626" ><tspan font-family="Liberation Serif" font-style="italic" font-size="20.5" letter-spacing="0.6">&#948;&#955;</tspan> (nm)</text>
<text x="669.4" y="355.3" font-size="15.8" text-anchor="end" fill="#000" color="#000" >294 K</text>
<text x="1.8" y="347" font-size="17.5" text-anchor="start" fill="#000" color="#000" >c</text>
<text transform="translate(14.6 451.5) rotate(-90)" font-size="18" text-anchor="middle" fill="#262626" color="#262626">DOP</text>
</svg></body></html>
